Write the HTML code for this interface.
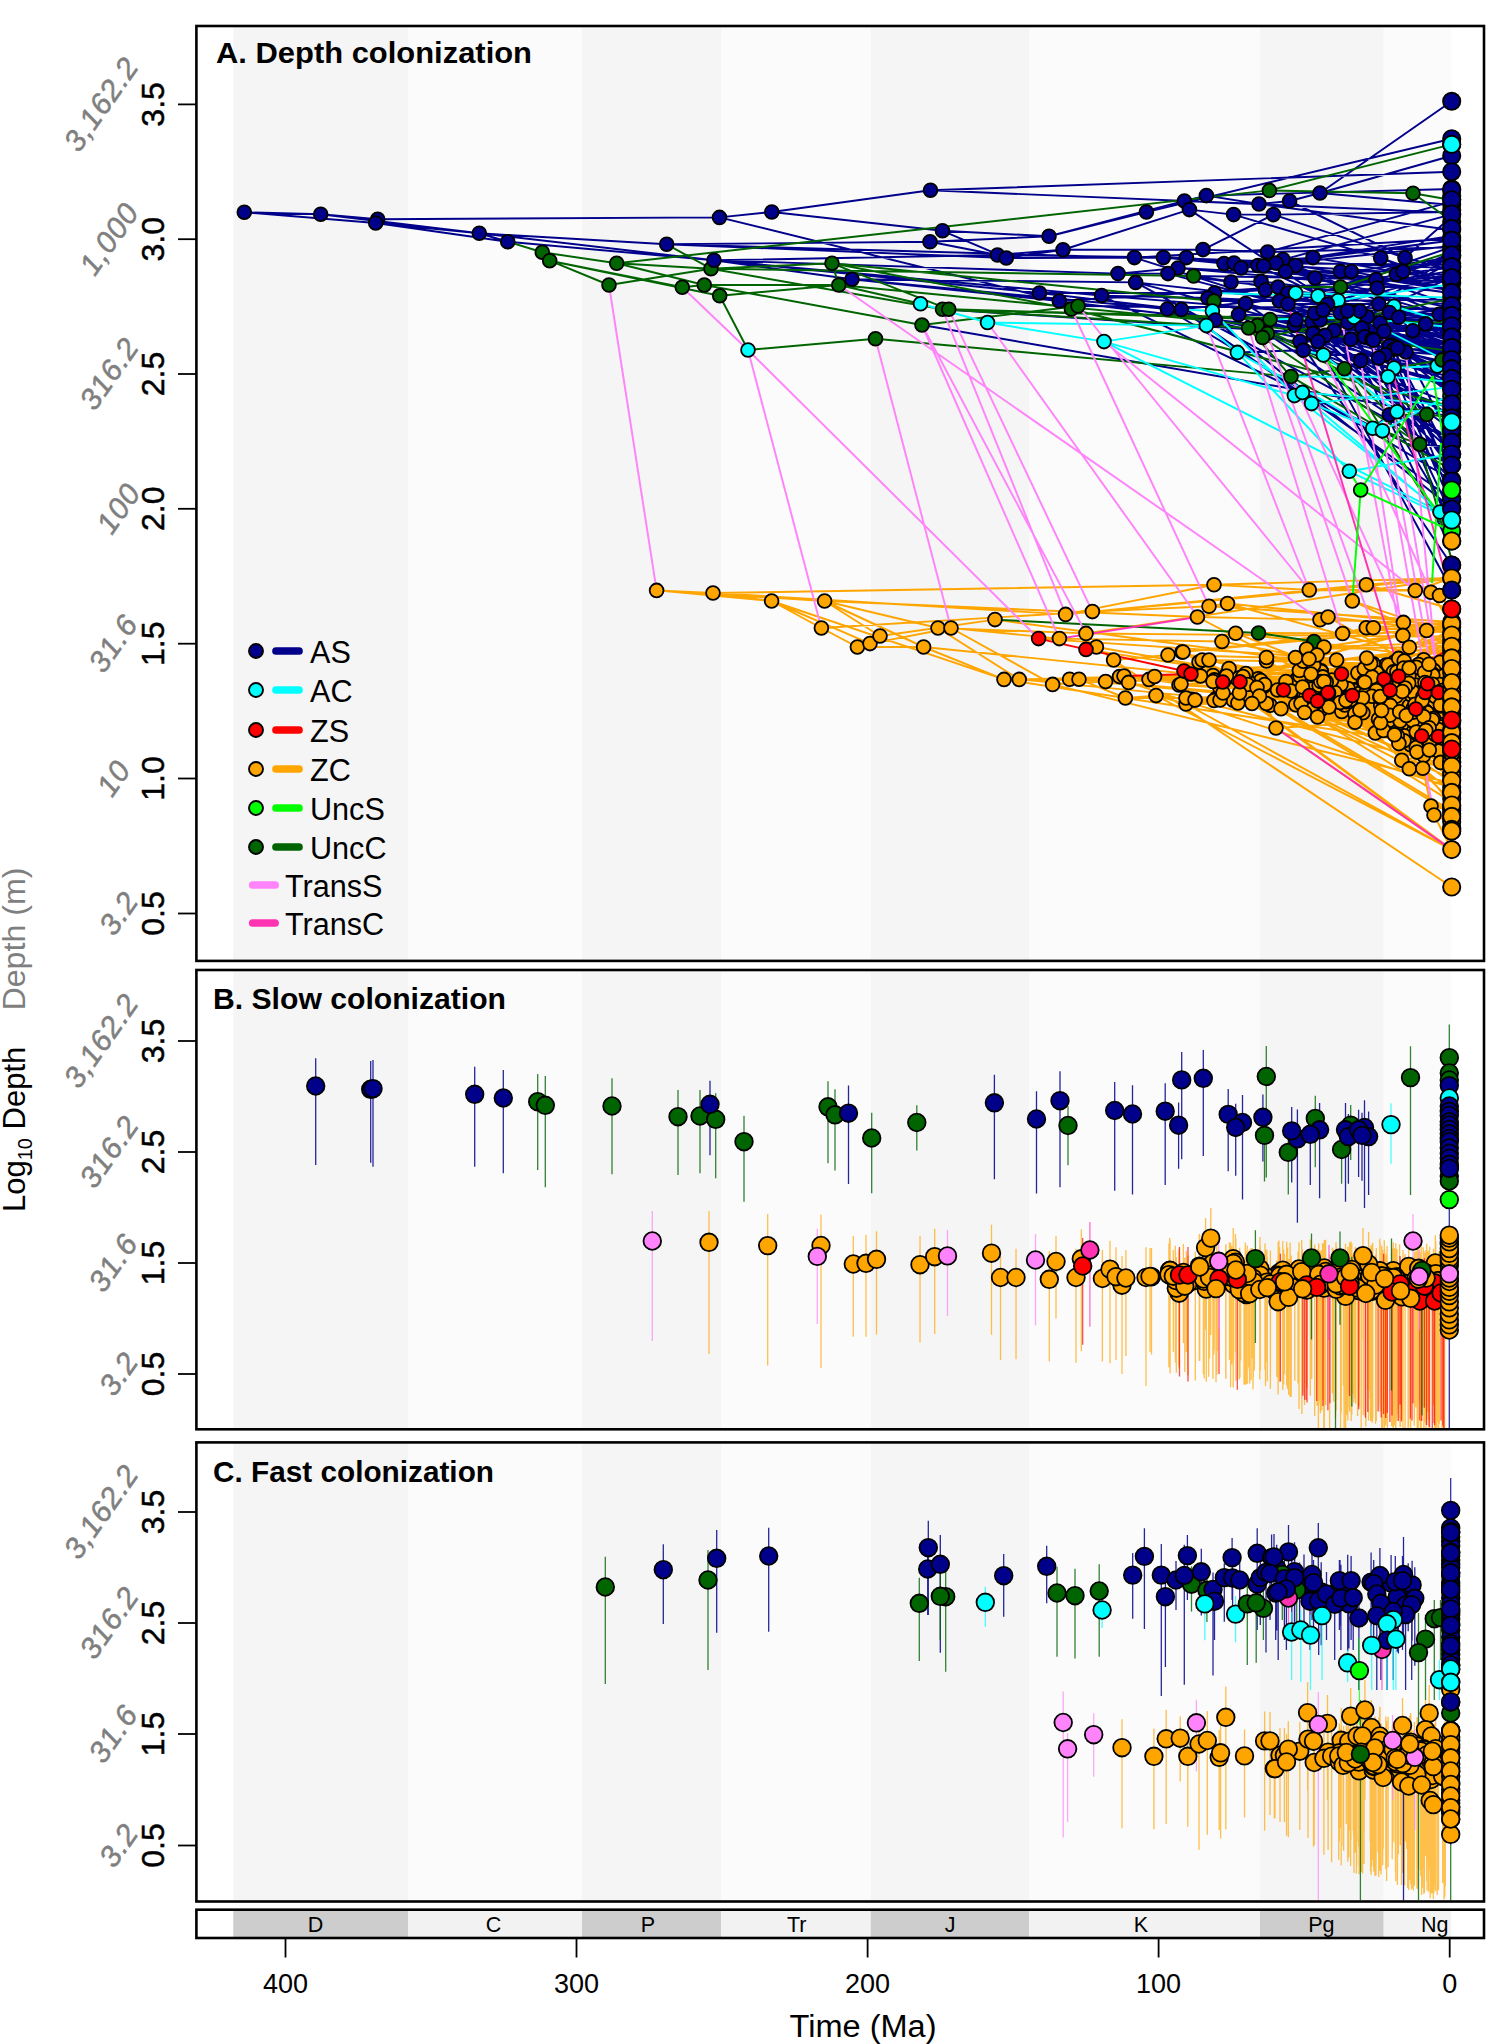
<!DOCTYPE html>
<html><head><meta charset="utf-8"><title>Depth colonization</title>
<style>html,body{margin:0;padding:0;background:#fff;}svg{display:block;}</style></head><body>
<svg width="1500" height="2044" viewBox="0 0 1500 2044">
<rect x="0" y="0" width="1500" height="2044" fill="#fff"/>
<rect x="233.3" y="26" width="174.7" height="934.9" fill="#f5f5f5"/>
<rect x="408" y="26" width="174" height="934.9" fill="#fbfbfb"/>
<rect x="582" y="26" width="139.29999999999995" height="934.9" fill="#f5f5f5"/>
<rect x="721.3" y="26" width="149.4000000000001" height="934.9" fill="#fbfbfb"/>
<rect x="870.7" y="26" width="158.5999999999999" height="934.9" fill="#f5f5f5"/>
<rect x="1029.3" y="26" width="230.70000000000005" height="934.9" fill="#fbfbfb"/>
<rect x="1260" y="26" width="123.70000000000005" height="934.9" fill="#f5f5f5"/>
<rect x="1383.7" y="26" width="67.29999999999995" height="934.9" fill="#fbfbfb"/>
<path d="M656.6 590.4L713 593M656.6 590.4L771.6 601M713 593L771.6 601M713 593L824.6 601M771.6 601L821.4 628M656.6 590.4L824.6 601M821.4 628L857.4 647M821.4 628L1092.4 611.6M824.6 601L880 636M824.6 601L923.6 647M771.6 601L870 643.6M713 593L1214 584.7M857.4 647L923.6 647M870 643.6L951 628M880 636L995 619.6M824.6 601L938 628M713 593L1065.6 614.4M771.6 601L1004 679.4M923.6 647L1004 679.4M938 628L1019.2 679.4M951 628L1059.4 638.6M824.6 601L1197.4 617M938 628L1086 633.4M951 628L1052.6 684.4M1113.6 660L1451.7 887M1156 695.6L1451.7 849.6M1186 704L1451.7 849.6M1252 703.5L1451.7 849.6M1276 728L1451.7 849.6M1214 584.7L1451.7 578M1214 584.7L1309.3 590M1092.4 611.6L1366.3 584.8M1065.6 614.4L1214 584.7M1096.4 647L1113.6 660M1052.6 684.4L1105.6 681.6M1079 679.2L1119.6 676.6M1069.6 679.2L1124 676M1105.6 681.6L1128.6 682.4M1079 679.2L1125.4 698M1119.6 676.6L1149 679.4M1128.6 682.4L1154.6 676.6M1125.4 698L1156 695.6M1113.6 660L1168 655M1168 655L1182 652M1154.6 676.6L1179 685M1156 695.6L1186 704M1125.4 698L1186 698M1186 698L1195 700M1183 652L1199 662M1092.4 611.6L1209 606.2M1209 606.2L1227.5 603.5M1197.4 617L1320 619.7M1320 619.7L1328 617M1222 641.5L1235.7 633.2M1059.4 638.6L1222 641.5M1295.5 657.5L1306.5 649M1314 641.5L1324 647M1309 659L1317 655M1266.5 657.5L1295.5 657.5M1295.5 657.5L1309 659M1202.2 660L1266.5 661M1168 655L1266.5 657.5M1168 655L1183 652M1183 652L1202.2 660M1199 662L1209 660M1184 671L1229 668.5M1154.6 676.6L1200.5 676M1179 685L1213 681.5M1213 681.5L1226.5 676M1200.5 676L1243 676.5M1236.9 678.5L1247.5 684.5M1222.7 682L1257 687.5M1216.4 698.2L1239.5 693M1239.5 693L1259.5 696M1186 704L1252 703.5M1149 679.4L1181 684M1195 700L1214 700.5M1186 704L1220 700M1195 700L1223 693M1191 674L1311 674M1264 686.2L1286 681.5M1264.6 684.6L1277.5 690M1264.6 684.6L1291 691M1247.5 684.5L1302.5 687M1297.5 683.7L1324 681.5M1252 703.5L1301 703.5M1266.4 703.5L1281 708.7M1270.1 705.3L1304.5 712.5M1304.5 712.5L1317.5 717M1295.8 704.7L1329 707M1266.4 703.5L1276 728M1309.3 590L1415.3 590.5M1415.3 590.5L1430.9 592.3M1430.9 592.3L1439.5 595.5M1258.5 633L1342.6 633.5M1342.6 633.5L1366.3 627.8M1342.6 633.5L1373.3 627.8M1320 619.7L1403.4 622.4M1373.3 627.8L1402.9 635.4M1373.3 627.8L1426.6 630.5M1306.5 649L1409.3 647.2M1375.3 732.9L1401.8 760.2M1398.9 743.6L1409.3 768.8M1409.3 768.8L1422.8 768.3M1398.9 743.6L1416.9 752.1M1410.6 744.8L1429.3 750M1409.3 768.8L1440.6 762.4M1422.8 768.3L1431 806M1402.4 691.6L1422.6 690.4M1412.7 712.3L1421.6 711.7M1428.3 732.9L1443 728.7M1401.8 760.2L1418 748.3M1299.9 676L1311.7 668.7M1392.5 674.2L1432.3 678.8M1200.5 676L1239.3 677.8M1283.5 690L1305.4 689.9M1421.7 676.7L1433.2 676M1341.8 711.5L1362.9 712.8M1307.9 673.5L1357.9 673.1M1317.9 686.6L1364.8 686.7M1412.7 712.3L1425.2 712.3M1381.6 710.6L1409.2 705.8M1427.9 735.4L1439 740.8M1355 722.2L1384.3 722.4M1252 703.5L1270.1 705.3M1355 722.2L1375.3 732.9M1341.5 674L1381.7 675.9M1416.6 733.7L1433.6 730.4M1423.6 716.6L1437.4 717.3M1301 703.5L1325.7 702.1M1416.2 685.2L1428.2 687.8M1362.9 712.8L1378.5 719.3M1403.8 668L1441.5 667.5M1370.7 663.6L1385.8 665M1376.7 672.8L1394.1 671.9M1420.2 692.5L1428.4 696.6M1425.8 730.4L1444.6 728M1397.2 674.2L1427.6 674.3M1302.5 687L1319.1 685.7M1398.9 743.6L1410.6 744.8M1319.1 685.2L1329.5 682.9M1399.4 692.4L1425.7 692.9M1277.5 690L1336.9 689.1M1397.7 677.3L1421.7 676.7M1408.7 683.2L1432.7 684.5M1329 707L1419.8 708.2M1423.7 659.8L1439.9 662.2M1154.6 676.6L1213 675.6M1416.2 747.6L1424.6 749.6M1354.7 689.8L1379.9 685.6M1283.5 690L1346 689.3M1191.6 699.4L1216.4 698.2M1309 659L1336.6 660M1403.8 668L1433.8 670.4M1220 700L1233.2 700.2M1411.3 694.9L1428.4 696.7M1317.5 701L1348.6 696.3M1319.1 685.7L1333.1 688.2M1360.9 692.4L1399.4 692.4M1412.7 712.3L1432.1 711.6M1295.8 704.7L1307.9 704.3M1380.6 722.8L1401.8 724.5M1399.4 692.4L1421 694.7M1427 712.4L1435.1 714.7M1357.9 673.1L1392.5 674.2M1423.6 755.4L1438.3 750.9M1346.3 692.6L1354.7 689.8M1385.8 665L1394.7 661.7M1430.8 724L1441.5 723M1424.5 672.5L1432.5 673.7M1236.9 678.5L1246.1 680.1M1425.2 712.3L1442.4 711.2M1299.4 670.5L1321.3 670.9M1329 707L1341.8 711.5M1311.3 706.7L1344.8 705M1371.9 696.3L1383.9 693.6M1297.5 683.7L1306 677.1M1311.7 668.7L1368.4 669.4M1370.7 663.6L1390 666.8M1416.6 733.7L1428.3 732.9M1397.3 735.7L1427.9 735.4M1346 700.4L1389 701.1M1357.9 673.1L1368.3 676.5M1334.9 692.5L1357.4 690.3M1389 701.1L1417.5 701.5M1401.8 760.2L1423.6 755.4M1411.3 694.9L1428.5 698.7M1300.6 679.9L1370 679M1277.5 690L1317.9 686.6M1394.5 734.7L1423.4 736.2M1394.7 661.7L1423.7 659.8M1418.6 707.5L1440.6 706M1360.4 694.5L1411.3 694.9M1401.8 724.5L1427.1 721.4M1298.7 702.9L1307.7 698.7M1334.9 692.5L1346.3 692.6M1346.3 692.6L1360.4 694.5M1376.5 689L1400.4 690.3M1409.2 705.8L1429.9 701.8M1432.8 675.3L1443.9 675.7M1383.5 730.4L1398.3 733.1M1409.2 667.9L1418.5 664.5M1336.9 689.1L1360.9 692.4M1390.3 705.4L1414.8 704.9M1336.9 689.1L1348 688.6M1390 690.2L1425 688.5M1363.4 682L1416.2 681.3M1396.2 696.3L1420.6 692.3M1298.7 702.9L1346.1 701.8M1236.9 678.5L1258.2 678.8M1390 666.8L1416.3 667.2M1375.3 732.9L1404.3 735.8M1378.5 719.3L1389.1 720.4M1341.5 674L1375.6 671.5M1357.4 690.3L1376.5 689M1195 700L1237.9 702.9M1380.7 705.4L1413.2 708.3M1348.6 696.3L1365.3 694.1M1420.2 692.5L1443.4 694.6M1299.4 670.5L1307.9 673.5M1305.6 697.2L1341 696.4M1365.3 694.1L1376.4 690.4M1258.2 678.8L1296.6 679.6M1326.3 682.1L1341 684.6M1375.6 671.5L1397.7 677.3M1411.3 694.9L1420.7 701.4M1237.9 702.9L1298.7 702.9M1286 681.5L1300 680.4M1277.5 690L1305.8 693.7M1260.8 680.6L1300.6 679.9M1281 708.7L1295.8 704.7M1415.7 705.7L1428.3 704.8M1214.3 679.9L1236.9 678.5M1281 708.7L1320.9 709.8M1291 691L1334.9 692.5M1346 700.4L1380.7 705.4M1415.1 704.2L1425.5 710.9M1397.2 674.2L1408.9 676M1384.3 722.4L1400.1 721M1355 722.2L1383.5 730.4M1425 692.4L1435.3 696.4M1406.3 715.5L1427 712.4M1394.5 734.7L1404 740.8M1380.3 696.5L1396.2 696.3M1302.6 691.8L1311.6 689M1360.4 694.5L1371.9 696.3M1219.7 687.3L1264 686.2M1186 698L1194.9 700M1383.5 730.4L1397.3 735.7M1400.1 721L1415.7 723.7M1346 689.3L1397.3 687.8M1311.7 668.7L1364.9 668.6M1372.1 676.9L1397.2 674.2M1410.6 744.8L1426.9 742.6M1394.5 734.7L1424.3 734.5M1373.2 663.8L1388.3 665M1266.5 657.5L1313.9 663.7M1405.1 688L1429.7 687.6M1233.2 700.2L1266.4 703.5M1401.8 724.5L1412.6 720.4M1415.7 723.7L1430.8 724M1380.7 705.4L1390.3 705.4M1346.1 701.8L1354.6 703.7M1375.3 732.9L1416.6 733.7M1412.6 720.4L1433.5 718.6M1399.7 711.8L1412.7 712.3M1404 740.8L1429.8 742.1M1277.5 690L1302.6 691.8M1398.3 733.1L1435.4 734.7M1376.7 672.8L1432.8 675.3M1376.5 689L1424.2 694.3M1213 675.6L1246.1 677.1M1416.2 685.2L1430 684.2M1321 700.7L1340.1 702.6M1303.2 661.2L1373.2 663.8M1341 696.4L1379.9 697.5M1388.3 665L1398.7 658.4M1425.8 730.4L1441.5 727.1M1154.6 676.6L1225.9 675.4M1307.9 673.5L1317.5 671.4M1311.7 668.7L1364.3 668.8M1286 681.5L1297.5 683.7M1397.3 687.8L1416.2 685.2M1307.9 673.5L1321.1 671.5M1352.3 695.6L1362.5 698.1M1270.1 705.3L1313.7 705.3M1246.1 677.1L1299.9 676M1368.3 676.5L1376.7 672.8M1394.7 661.7L1404.2 660.9M1425 682.6L1439.7 684.6M1399 685L1432.5 684.2M1247.5 684.5L1260.8 680.6M1295.8 704.7L1311.3 706.7M1305.6 697.2L1315 695.8M1397.2 674.2L1424.5 672.5M1320.8 681.6L1331.7 680.1M1409.2 705.8L1418.6 707.5M1229 668.5L1299.4 670.5M1340.1 702.6L1416.8 705.7M1379.9 685.6L1399 685M1383.5 730.4L1398.9 743.6M1364.9 668.6L1393.4 671.9M1341.8 711.5L1354.9 713.8M1390.3 705.4L1415.7 705.7M1266.5 661L1303.2 661.2M1306 677.1L1372.1 676.9M1240 681.8L1249 682.5M1383.9 693.6L1420.2 692.5M1378.5 719.3L1389.8 715.3M1313.9 663.7L1370.7 663.6M1156 695.6L1191.6 699.4M1404 740.8L1416.2 747.6M1376.4 690.4L1412.8 691.9M1384 679L1425 682.6M1296.6 679.6L1322.8 676.9M1326.3 682.1L1363.4 682M1364.9 668.6L1396.9 671.7M1383.5 730.4L1438.2 729.5M1315 695.8L1347.8 697.7M1320.9 709.8L1399.7 711.8M1406.3 715.5L1416.9 708.9M1379.9 685.6L1408.7 683.2M1360.4 694.5L1380.3 696.5M1336.6 660L1366.7 658M1191 674L1214.3 679.9M1390 666.8L1403.8 668M1375.3 732.9L1394.5 734.7M1400.1 721L1432.3 720M1389 701.1L1415.1 704.2M1394.5 734.7L1416.3 732.1M1317.5 717L1355 722.2M1344.8 705L1359.9 710M1429.7 687.6L1442 690.6M1412.6 720.4L1423.6 716.6M1364.8 686.7L1405.1 688M1355 722.2L1380.6 722.8M1398.3 733.1L1429.1 727.8M1428.5 698.7L1444.6 698.7M1341 696.4L1350.6 699.7M1181 684L1219.7 687.3M1247.5 684.5L1264.6 684.6M1236.9 678.5L1245.9 673.5M1291 691L1305.6 697.2M1396.9 671.7L1409.2 667.9M1381.6 710.6L1406.3 715.5M1297.5 683.7L1319.1 685.2M1326.3 682.1L1364.7 682.2M1398.3 733.1L1425.8 730.4M1383.9 693.6L1423 696.5M1286 681.5L1320.8 681.6M1350.6 699.7L1422.2 700.6M1229 668.5L1313.6 664.9M1373.2 663.8L1429 664.2M1213 681.5L1223.8 681.2M1420.7 701.4L1443.6 703.3M1362.9 712.8L1381.6 710.6M1346.3 692.6L1402.4 691.6M1307.7 698.7L1346 700.4M1266.4 703.5L1321 700.7M1300 680.4L1326.3 682.1M1428.3 704.8L1440.4 705.1M923.6 647L1451.7 700.5M995 619.6L1451.7 680.6M1004 679.4L1451.7 747.9M1004 679.4L1451.7 683.3M1019.2 679.4L1451.7 721.3M1019.2 679.4L1451.7 668.3M1038.6 638.6L1451.7 666.2M1052.6 684.4L1451.7 783.2M1065.6 614.4L1451.7 578M1086 633.4L1451.7 578M1086 633.4L1451.7 636.8M1096.4 647L1451.7 709.6M1086 649.4L1451.7 705.7M1069.6 679.2L1451.7 714.2M1105.6 681.6L1451.7 711.8M1119.6 676.6L1451.7 684.3M1124 676L1451.7 680.9M1128.6 682.4L1451.7 787.8M1149 679.4L1451.7 677.1M1182 652L1451.7 622M1182 652L1451.7 626.5M1197.4 617L1451.7 749.5M1179 685L1451.7 701.5M1199 662L1451.7 813.3M1309.3 590L1451.7 590M1209 606.2L1451.7 622M1227.5 603.5L1451.7 664.7M1227.5 603.5L1451.7 625.7M1328 617L1451.7 631.2M1328 617L1451.7 685.8M1235.7 633.2L1451.7 659.1M1235.7 633.2L1451.7 716.9M1222 641.5L1451.7 684.3M1314 641.5L1451.7 734.1M1306.5 649L1451.7 628.9M1324 647L1451.7 626.4M1324 647L1451.7 642.6M1317 655L1451.7 710.3M1317 655L1451.7 742.6M1266.5 661L1451.7 766.3M1202.2 660L1451.7 787.2M1209 660L1451.7 706M1209 660L1451.7 723.6M1226.5 676L1451.7 660.6M1226.5 676L1451.7 810.8M1243 676.5L1451.7 703.8M1243 676.5L1451.7 733.3M1257 687.5L1451.7 751.4M1257 687.5L1451.7 773M1239.5 693L1451.7 713.9M1259.5 696L1451.7 728.6M1259.5 696L1451.7 632.5M1181 684L1451.7 704M1214 700.5L1451.7 695.4M1214 700.5L1451.7 665.6M1220 700L1451.7 735.5M1223 693L1451.7 751.9M1223 693L1451.7 708M1311 674L1451.7 685M1302.5 687L1451.7 746.2M1324 681.5L1451.7 689.6M1324 681.5L1451.7 690.3M1301 703.5L1451.7 696.3M1304.5 712.5L1451.7 730.1M1317.5 717L1451.7 655.8M1276 728L1451.7 717.1M1222.7 682L1451.7 752.2M1240 681.8L1451.7 734.8M1309.5 695.5L1451.7 757.9M1317.5 701L1451.7 709.2M1328 692.5L1451.7 629.5M1328 692.5L1451.7 682.5M1366.3 584.8L1451.7 609M1366.3 584.8L1451.7 578M1352.3 600.9L1451.7 634.6M1352.3 600.9L1451.7 647.5M1415.3 590.5L1451.7 578M1430.9 592.3L1451.7 624.9M1439.5 595.5L1451.7 590M1439.5 595.5L1451.7 609M1366.3 627.8L1451.7 631.8M1366.3 627.8L1451.7 622M1403.4 622.4L1451.7 645.1M1403.4 622.4L1451.7 662.3M1402.9 635.4L1451.7 625.1M1402.9 635.4L1451.7 636.8M1426.6 630.5L1451.7 633.3M1426.6 630.5L1451.7 622.6M1409.3 647.2L1451.7 622M1409.3 647.2L1451.7 645.1M1422.8 768.3L1451.7 792.4M1416.9 752.1L1451.7 756.5M1416.9 752.1L1451.7 725.6M1429.3 750L1451.7 720.8M1429.3 750L1451.7 732.7M1440.6 762.4L1451.7 786.3M1440.6 762.4L1451.7 758.4M1431 806L1451.7 810.4M1431 806L1451.7 827M1434 815L1451.7 822.9M1434 815L1451.7 849.6M1422.6 690.4L1451.7 695.6M1422.6 690.4L1451.7 693.2M1421.6 711.7L1451.7 705.4M1421.6 711.7L1451.7 710M1443 728.7L1451.7 703.4M1443 728.7L1451.7 745.4M1418 748.3L1451.7 729.1M1418 748.3L1451.7 740.2M1432.3 678.8L1451.7 691M1432.3 678.8L1451.7 697.2M1239.3 677.8L1451.7 736.7M1239.3 677.8L1451.7 720.7M1305.4 689.9L1451.7 655.6M1433.2 676L1451.7 672.1M1433.2 676L1451.7 683.5M1425.2 712.3L1451.7 683.9M1439 740.8L1451.7 722.1M1439 740.8L1451.7 736.5M1384.3 722.4L1451.7 804.6M1381.7 675.9L1451.7 722.8M1433.6 730.4L1451.7 729.6M1433.6 730.4L1451.7 734.8M1437.4 717.3L1451.7 719.3M1437.4 717.3L1451.7 725.3M1325.7 702.1L1451.7 676.9M1325.7 702.1L1451.7 739.2M1428.2 687.8L1451.7 711.4M1428.2 687.8L1451.7 687.5M1441.5 667.5L1451.7 682.9M1441.5 667.5L1451.7 664.9M1385.8 665L1451.7 707.8M1394.1 671.9L1451.7 689.5M1394.1 671.9L1451.7 657.9M1428.4 696.6L1451.7 683.6M1428.4 696.6L1451.7 695.5M1444.6 728L1451.7 737M1444.6 728L1451.7 745.5M1427.6 674.3L1451.7 685.3M1427.6 674.3L1451.7 652.9M1319.1 685.7L1451.7 716.7M1329.5 682.9L1451.7 676.3M1329.5 682.9L1451.7 633.4M1425.7 692.9L1451.7 693.6M1425.7 692.9L1451.7 735.8M1421.7 676.7L1451.7 715.5M1432.7 684.5L1451.7 677.7M1432.7 684.5L1451.7 631.5M1419.8 708.2L1451.7 733.8M1419.8 708.2L1451.7 721.5M1439.9 662.2L1451.7 669.4M1439.9 662.2L1451.7 674.8M1213 675.6L1451.7 733.3M1424.6 749.6L1451.7 765.8M1424.6 749.6L1451.7 769.4M1346 689.3L1451.7 710.4M1216.4 698.2L1451.7 734.8M1336.6 660L1451.7 646.2M1433.8 670.4L1451.7 685.1M1433.8 670.4L1451.7 677.5M1233.2 700.2L1451.7 730.3M1428.4 696.7L1451.7 684.1M1428.4 696.7L1451.7 723.2M1348.6 696.3L1451.7 740.7M1333.1 688.2L1451.7 731.8M1333.1 688.2L1451.7 751.1M1432.1 711.6L1451.7 705M1432.1 711.6L1451.7 713.3M1307.9 704.3L1451.7 686.7M1307.9 704.3L1451.7 716.3M1421 694.7L1451.7 726M1421 694.7L1451.7 683.1M1435.1 714.7L1451.7 708.9M1435.1 714.7L1451.7 732.1M1392.5 674.2L1451.7 699.7M1438.3 750.9L1451.7 745.1M1438.3 750.9L1451.7 776.2M1354.7 689.8L1451.7 743.8M1441.5 723L1451.7 705.6M1441.5 723L1451.7 716.2M1432.5 673.7L1451.7 663M1432.5 673.7L1451.7 675.7M1246.1 680.1L1451.7 734.1M1246.1 680.1L1451.7 772.7M1442.4 711.2L1451.7 722.5M1442.4 711.2L1451.7 679.4M1321.3 670.9L1451.7 769.5M1321.3 670.9L1451.7 801.4M1344.8 705L1451.7 765.4M1306 677.1L1451.7 732.9M1368.4 669.4L1451.7 685.1M1368.4 669.4L1451.7 728.9M1428.3 732.9L1451.7 745M1427.9 735.4L1451.7 744M1368.3 676.5L1451.7 705.8M1357.4 690.3L1451.7 706.7M1417.5 701.5L1451.7 709.5M1417.5 701.5L1451.7 701.8M1423.6 755.4L1451.7 726.3M1428.5 698.7L1451.7 689.1M1370 679L1451.7 682.8M1317.9 686.6L1451.7 777.5M1423.4 736.2L1451.7 731.3M1423.4 736.2L1451.7 756M1423.7 659.8L1451.7 707.7M1440.6 706L1451.7 720.2M1440.6 706L1451.7 716M1427.1 721.4L1451.7 715.1M1427.1 721.4L1451.7 738M1400.4 690.3L1451.7 655.6M1429.9 701.8L1451.7 715M1429.9 701.8L1451.7 707.9M1443.9 675.7L1451.7 689.1M1443.9 675.7L1451.7 668.4M1418.5 664.5L1451.7 673.1M1418.5 664.5L1451.7 662.3M1360.9 692.4L1451.7 678.3M1414.8 704.9L1451.7 733.2M1414.8 704.9L1451.7 708.2M1348 688.6L1451.7 725.7M1348 688.6L1451.7 778.7M1425 688.5L1451.7 701.5M1425 688.5L1451.7 700M1416.2 681.3L1451.7 686.7M1416.2 681.3L1451.7 637.4M1420.6 692.3L1451.7 711.9M1346.1 701.8L1451.7 690.8M1258.2 678.8L1451.7 764.1M1416.3 667.2L1451.7 676.3M1416.3 667.2L1451.7 724.2M1389.1 720.4L1451.7 719.7M1389.1 720.4L1451.7 692.3M1375.6 671.5L1451.7 647.2M1237.9 702.9L1451.7 732.4M1413.2 708.3L1451.7 723.5M1413.2 708.3L1451.7 650.8M1365.3 694.1L1451.7 663.8M1443.4 694.6L1451.7 680.2M1443.4 694.6L1451.7 696.4M1376.4 690.4L1451.7 714.9M1296.6 679.6L1451.7 726.3M1341 684.6L1451.7 715.8M1341 684.6L1451.7 710.8M1397.7 677.3L1451.7 693.7M1420.7 701.4L1451.7 688M1300 680.4L1451.7 688.9M1305.8 693.7L1451.7 690.1M1305.8 693.7L1451.7 717.1M1300.6 679.9L1451.7 684.6M1428.3 704.8L1451.7 689.5M1320.9 709.8L1451.7 736.8M1425.5 710.9L1451.7 693.5M1425.5 710.9L1451.7 706M1408.9 676L1451.7 646.9M1408.9 676L1451.7 683M1435.3 696.4L1451.7 683.6M1435.3 696.4L1451.7 716.7M1427 712.4L1451.7 721.8M1396.2 696.3L1451.7 707.8M1311.6 689L1451.7 683.8M1311.6 689L1451.7 658.6M1371.9 696.3L1451.7 673.1M1194.9 700L1451.7 711.8M1194.9 700L1451.7 765.7M1397.3 735.7L1451.7 769.9M1415.7 723.7L1451.7 717.9M1397.3 687.8L1451.7 648.8M1426.9 742.6L1451.7 775M1426.9 742.6L1451.7 750.5M1424.3 734.5L1451.7 761.6M1424.3 734.5L1451.7 741.9M1388.3 665L1451.7 654.6M1313.9 663.7L1451.7 677.2M1429.7 687.6L1451.7 694.8M1430.8 724L1451.7 725.6M1354.6 703.7L1451.7 652.1M1354.6 703.7L1451.7 718.7M1433.5 718.6L1451.7 733M1433.5 718.6L1451.7 726M1429.8 742.1L1451.7 721.6M1429.8 742.1L1451.7 739.8M1302.6 691.8L1451.7 663.7M1435.4 734.7L1451.7 736.3M1435.4 734.7L1451.7 707.5M1432.8 675.3L1451.7 672.4M1424.2 694.3L1451.7 673.8M1424.2 694.3L1451.7 687.4M1246.1 677.1L1451.7 684.9M1430 684.2L1451.7 677.7M1430 684.2L1451.7 688.6M1340.1 702.6L1451.7 674.1M1379.9 697.5L1451.7 700.9M1379.9 697.5L1451.7 674.8M1398.7 658.4L1451.7 647.8M1398.7 658.4L1451.7 644.9M1441.5 727.1L1451.7 733.3M1441.5 727.1L1451.7 715.5M1225.9 675.4L1451.7 778.6M1225.9 675.4L1451.7 646.4M1317.5 671.4L1451.7 704.9M1317.5 671.4L1451.7 671.2M1364.3 668.8L1451.7 724.4M1364.3 668.8L1451.7 716.8M1321.1 671.5L1451.7 713M1321.1 671.5L1451.7 677.2M1362.5 698.1L1451.7 713.6M1362.5 698.1L1451.7 718M1313.7 705.3L1451.7 744.9M1313.7 705.3L1451.7 664.3M1299.9 676L1451.7 721.5M1404.2 660.9L1451.7 635.9M1404.2 660.9L1451.7 663.9M1439.7 684.6L1451.7 693.1M1439.7 684.6L1451.7 673.7M1432.5 684.2L1451.7 693.5M1432.5 684.2L1451.7 681.7M1260.8 680.6L1451.7 686M1311.3 706.7L1451.7 708.6M1315 695.8L1451.7 672.9M1424.5 672.5L1451.7 689.3M1331.7 680.1L1451.7 705.5M1331.7 680.1L1451.7 676.2M1418.6 707.5L1451.7 703.4M1416.8 705.7L1451.7 698.2M1416.8 705.7L1451.7 738.6M1399 685L1451.7 678.3M1393.4 671.9L1451.7 739.8M1393.4 671.9L1451.7 670.3M1354.9 713.8L1451.7 782.6M1354.9 713.8L1451.7 728.1M1415.7 705.7L1451.7 734.7M1303.2 661.2L1451.7 752.7M1372.1 676.9L1451.7 675M1249 682.5L1451.7 744.6M1249 682.5L1451.7 734.6M1389.8 715.3L1451.7 742.3M1389.8 715.3L1451.7 734.8M1191.6 699.4L1451.7 697.6M1416.2 747.6L1451.7 743.9M1412.8 691.9L1451.7 728.3M1412.8 691.9L1451.7 692.6M1425 682.6L1451.7 696.2M1322.8 676.9L1451.7 671.3M1322.8 676.9L1451.7 710.7M1363.4 682L1451.7 667.6M1396.9 671.7L1451.7 660.3M1438.2 729.5L1451.7 707.7M1438.2 729.5L1451.7 734M1347.8 697.7L1451.7 710.9M1347.8 697.7L1451.7 685.7M1399.7 711.8L1451.7 762.3M1416.9 708.9L1451.7 719.4M1416.9 708.9L1451.7 728.3M1408.7 683.2L1451.7 742.5M1380.3 696.5L1451.7 671.1M1366.7 658L1451.7 651.8M1366.7 658L1451.7 700.4M1214.3 679.9L1451.7 718.1M1432.3 720L1451.7 732.9M1432.3 720L1451.7 729.5M1415.1 704.2L1451.7 696.3M1416.3 732.1L1451.7 720.1M1416.3 732.1L1451.7 709M1359.9 710L1451.7 801.4M1359.9 710L1451.7 701.4M1442 690.6L1451.7 696.1M1442 690.6L1451.7 680.8M1423.6 716.6L1451.7 759.4M1405.1 688L1451.7 665.8M1380.6 722.8L1451.7 707.3M1429.1 727.8L1451.7 750.1M1429.1 727.8L1451.7 725.5M1444.6 698.7L1451.7 703.3M1444.6 698.7L1451.7 688.8M1350.6 699.7L1451.7 688.2M1219.7 687.3L1451.7 698.1M1245.9 673.5L1451.7 714M1245.9 673.5L1451.7 801.8M1409.2 667.9L1451.7 685.1M1319.1 685.2L1451.7 699M1364.7 682.2L1451.7 660.7M1364.7 682.2L1451.7 708.9M1423 696.5L1451.7 697.9M1423 696.5L1451.7 650.6M1320.8 681.6L1451.7 655.8M1422.2 700.6L1451.7 705M1422.2 700.6L1451.7 718.9M1313.6 664.9L1451.7 718.3M1313.6 664.9L1451.7 661.1M1429 664.2L1451.7 689.3M1429 664.2L1451.7 678.6M1223.8 681.2L1451.7 849.6M1223.8 681.2L1451.7 622M1443.6 703.3L1451.7 694.9M1443.6 703.3L1451.7 709.6M1402.4 691.6L1451.7 688.8M1321 700.7L1451.7 701M1440.4 705.1L1451.7 707.1M1440.4 705.1L1451.7 696M1328.6 693L1451.7 688.8M1328.6 693L1451.7 766.8M1352.3 695.6L1451.7 682.9M1320 700L1451.7 758.6M1320 700L1451.7 731.4" fill="none" stroke="#ffa500" stroke-width="1.95"/>
<path d="M244.3 212.3L320.7 214.3M244.3 212.3L375.7 223M320.7 214.3L377.7 219.3M320.7 214.3L479.3 233.3M375.7 223L479.3 233.3M377.7 219.3L719.5 217.4M375.7 223L507.7 241.7M479.3 233.3L507.7 241.7M479.3 233.3L666.7 244.3M479.3 233.3L714 260.3M507.7 241.7L714 260.3M719.5 217.4L771.8 212M771.8 212L930.5 190.3M771.8 212L942.5 230.8M719.5 217.4L1059.3 301M930.5 190.3L1451.7 171.7M930.5 190.3L1259 204M666.7 244.3L930 241.8M942.5 230.8L1049 236.3M930 241.8L997.5 255M930 241.8L1049 236.3M997.5 255L1063 249.7M1006.3 258L1063 249.7M942.5 230.8L1006.3 258M714 260.3L852 279.3M714 260.3L1039.5 293M852 279.3L1059.3 301M714 260.3L997.5 255M666.7 244.3L1006.3 258M1320 193L1451.7 101.3M1320 193L1451.7 155.7M1289.6 201L1320 193M1146.4 212L1451.7 138.7M1049 236.3L1146.4 212M1049 236.3L1184.4 201M1063 249.7L1189.4 209.6M1146.4 212L1206.4 195.6M1184.4 201L1206.4 195.6M1189.4 209.6L1233.6 214.6M1206.4 195.6L1259 204M1233.6 214.6L1273.4 214.6M1259 204L1289.6 201M1203 249.6L1273.4 214.6M1206.4 195.6L1451.7 189M1259 204L1451.7 230M1273.4 214.6L1451.7 212M1233.6 214.6L1380.7 258M1289.6 201L1405 257.7M1320 193L1451.7 205M1273.4 214.6L1405 257.7M714 260.3L1101.6 295.6M714 260.3L1118 273.6M666.7 244.3L1134.4 257.6M852 279.3L1135.6 282.4M852 279.3L1167.4 309M1039.5 293L1181.4 309.4M1059.3 301L1215.4 320M1006.3 258L1163.4 257.6M997.5 255L1186.4 257.6M1063 249.7L1203 249.6M1118 273.6L1178 268M1118 273.6L1168 273.6M1163.4 257.6L1224 263.6M1224 263.6L1234 263M1224 263.6L1241 268M1203 249.6L1267.6 252M1224 263.6L1283 259.6M1224 263.6L1276 263M1224 263.6L1258 265.6M1241 268L1263.6 266M1276 263L1295.6 265.6M1263.6 266L1285.6 271.6M1283 259.6L1313 257.6M1285.6 271.6L1340.4 271.6M1193.6 276L1315 278M1168 273.6L1231 282M1039.5 293L1214.6 293M1101.6 295.6L1208 298M1208 298L1245.6 303.6M1215.4 320L1238.6 314.6M1231 282L1261 281.4M1214.6 293L1265.4 290M1231 282L1278 287M1265.4 290L1288 293M1208 298L1279.4 301M1279.4 301L1288 304M1288 304L1327.6 304M1323.1 309.9L1340.4 313M1270 319.6L1294.4 325M1270 319.6L1312 322M1312 322L1320 320M1300 341.6L1313 333.4M1262.6 337.4L1300 341.6M1313 333.4L1334 330.6M1320 320L1348 322.5M1340.4 271.6L1351.3 271.6M1376 279.6L1396.3 274.3M1340.4 271.6L1403 271.6M1315 278L1376 279.6M1338 300.5L1377.3 288M1327.6 304L1378.7 304M1340.4 313L1353.3 312M1353.3 312L1367.3 316.7M1362 328L1380 322.7M1348 322.5L1362 328M1334 330.6L1384 331.3M1384 331.3L1412.7 330.7M1350.7 339.3L1364.7 336.7M1313 333.4L1350.7 339.3M1350.7 339.3L1372 339.3M1373.5 340.2L1392 345.3M1373.5 340.2L1389.3 346M1385.3 354.7L1394 349.3M1378.7 358L1406 352M1323.4 355L1385.3 354.7M1344.4 368.7L1378.7 358M1344.4 368.7L1360.7 360.4M1372.7 428.3L1389.3 414.7M1300 341.6L1325.1 335.4M1237.4 352.4L1303.3 350.2M1367.3 316.7L1389.4 312.5M1270 319.6L1314.5 313.2M1323.1 309.9L1359.8 311.1M1300 341.6L1317.9 341.4M1412.7 330.7L1425.7 323.9M1389.4 312.5L1439.4 314.2M1389.3 346L1397.6 348.1M1367.3 316.7L1398.6 317.2M1350.7 339.3L1373.5 340.2M1270 319.6L1296 319.9M1323.1 309.9L1347.6 311.1M1279.4 301L1323.1 309.9M942.5 309.3L1451.7 342.4M922 325L1451.7 416.4M1059.3 301L1451.7 276.7M1078 306L1451.7 308.6M1184.4 201L1451.7 212.8M1189.4 209.6L1451.7 381.9M1134.4 257.6L1451.7 357.8M1134.4 257.6L1451.7 238.7M1163.4 257.6L1451.7 268.1M1186.4 257.6L1451.7 286.4M1186.4 257.6L1451.7 293.3M1178 268L1451.7 292.4M1178 268L1451.7 282M1168 273.6L1451.7 349.2M1193.6 276L1451.7 313.7M1234 263L1451.7 264.7M1234 263L1451.7 275.4M1241 268L1451.7 246M1267.6 252L1451.7 247.2M1267.6 252L1451.7 201.6M1283 259.6L1451.7 214.4M1276 263L1451.7 240.5M1258 265.6L1451.7 235.9M1258 265.6L1451.7 358.8M1263.6 266L1451.7 293.2M1295.6 265.6L1451.7 290.5M1295.6 265.6L1451.7 331.6M1285.6 271.6L1451.7 308.4M1313 257.6L1451.7 240.4M1313 257.6L1451.7 281.2M1315 278L1451.7 317.4M1135.6 282.4L1451.7 364.8M1135.6 282.4L1451.7 317.3M1101.6 295.6L1451.7 324.1M1167.4 309L1451.7 383.2M1167.4 309L1451.7 371.6M1181.4 309.4L1451.7 280.1M1214 301L1451.7 299.6M1215.4 320L1451.7 343.5M1245.6 303.6L1451.7 271M1245.6 303.6L1451.7 352.8M1238.6 314.6L1451.7 320.7M1238.6 314.6L1451.7 368.8M1261 281.4L1451.7 305.1M1261 281.4L1451.7 361.1M1278 287L1451.7 341.2M1288 293L1451.7 356.2M1288 293L1451.7 344.7M1288 304L1451.7 246.8M1340.4 313L1451.7 358.7M1248.6 328L1451.7 272.9M1267.4 333.4L1451.7 403.7M1294.4 325L1451.7 381.5M1294.4 325L1451.7 389.4M1312 322L1451.7 331.1M1320 320L1451.7 355.7M1334 330.6L1451.7 277.2M1348 322.5L1451.7 308M1380.7 258L1451.7 282.7M1380.7 258L1451.7 285.9M1405 257.7L1451.7 216.6M1405 257.7L1451.7 270.3M1351.3 271.6L1451.7 289.7M1351.3 271.6L1451.7 257.5M1396.3 274.3L1451.7 267.6M1396.3 274.3L1451.7 256.9M1403 271.6L1451.7 259.2M1403 271.6L1451.7 256.9M1376 279.6L1451.7 304.8M1377.3 288L1451.7 317.8M1377.3 288L1451.7 318M1378.7 304L1451.7 255.5M1353.3 312L1451.7 317.7M1380 322.7L1451.7 332.2M1380 322.7L1451.7 336.8M1362 328L1451.7 351.2M1384 331.3L1451.7 344M1412.7 330.7L1451.7 326.9M1364.7 336.7L1451.7 335.5M1364.7 336.7L1451.7 318.6M1372 339.3L1451.7 344.4M1372 339.3L1451.7 344.9M1392 345.3L1451.7 329.6M1392 345.3L1451.7 357M1389.3 346L1451.7 367.3M1394 349.3L1451.7 349.2M1394 349.3L1451.7 394.9M1406 352L1451.7 393.1M1406 352L1451.7 355.5M1378.7 358L1451.7 377.2M1360.7 360.4L1451.7 385.8M1360.7 360.4L1451.7 366.6M1389.3 414.7L1451.7 437.8M1419.7 444.3L1451.7 447M1325.1 335.4L1451.7 322.5M1325.1 335.4L1451.7 363.3M1303.3 350.2L1451.7 409.3M1389.4 312.5L1451.7 338.4M1314.5 313.2L1451.7 252.5M1314.5 313.2L1451.7 372.7M1359.8 311.1L1451.7 261.8M1359.8 311.1L1451.7 344.7M1317.9 341.4L1451.7 416.7M1317.9 341.4L1451.7 324M1425.7 323.9L1451.7 343.3M1425.7 323.9L1451.7 325.7M1439.4 314.2L1451.7 282.1M1439.4 314.2L1451.7 314.7M1397.6 348.1L1451.7 385.6M1397.6 348.1L1451.7 318.3M1398.6 317.2L1451.7 317.6M1398.6 317.2L1451.7 372.8M1296 319.9L1451.7 329.6M1296 319.9L1451.7 416.2M1347.6 311.1L1451.7 308.1M1347.6 311.1L1451.7 344.1M1101.6 295.6L1451.7 465M1135.6 282.4L1451.7 454M1167.4 309L1451.7 480M1181.4 309.4L1451.7 499M1215.4 320L1451.7 508M1238.6 314.6L1389.3 414.7M1327.6 304L1451.7 470M1340.4 313L1451.7 490M1353.3 312L1451.7 455M1367.3 316.7L1451.7 475M1380 322.7L1451.7 500M1362 328L1451.7 515M1384 331.3L1451.7 460M1392 345.3L1451.7 480M1406 352L1451.7 440M1385.3 354.7L1451.7 505M1378.7 358L1451.7 530M1360.7 360.4L1451.7 550M1389.3 414.7L1451.7 520M1389.3 414.7L1451.7 480M1294.4 325L1451.7 445M1312 322L1451.7 452M1245.6 303.6L1451.7 440M1279.4 301L1451.7 430M1288 304L1451.7 460M1300 341.6L1451.7 565M1313 333.4L1451.7 590" fill="none" stroke="#00008b" stroke-width="1.95"/>
<path d="M507.7 241.7L542.3 252.3M542.3 252.3L549.7 260.7M542.3 252.3L616.7 263.3M549.7 260.7L609 285M549.7 260.7L682.3 287.3M616.7 263.3L711 268.7M616.7 263.3L704.3 285M609 285L711 268.7M549.7 260.7L719.7 295.7M666.7 244.3L711 268.7M682.3 287.3L704.3 285M616.7 263.3L1269.4 190.4M1269.4 190.4L1451.7 144.4M1269.4 190.4L1413 193.3M1413 193.3L1451.7 200M1413 193.3L1451.7 221M711 268.7L832 263.3M704.3 285L838.8 285M719.7 295.7L838.8 285M832 263.3L838.8 285M832 263.3L1071.4 309M711 268.7L942.5 309.3M704.3 285L922 325M832 263.3L948.8 309.3M838.8 285L920.5 303.8M922 325L1078 306M719.7 295.7L748 350M748 350L875.5 338.8M875.5 338.8L1291 376.6M1291 376.6L1344.4 368.7M711 268.7L1193.6 276M832 263.3L1214 301M838.8 285L1257.4 325.4M942.5 309.3L1248.6 328M948.8 309.3L1270 319.6M995 619.6L1258.5 633M1258.5 633L1314 641.5M1278 287L1340.6 287M1257.4 325.4L1267.4 333.4M1248.6 328L1262.6 337.4M1394 368L1442 360M1389.3 414.7L1426.7 414.4M1382.4 430.7L1419.7 444.3M948.8 309.3L1451.7 322.9M1071.4 309L1451.7 406.4M1340.6 287L1451.7 251.6M1257.4 325.4L1451.7 351.1M1262.6 337.4L1451.7 298.6M1442 360L1451.7 377.6M1426.7 414.4L1451.7 417.6M1262.6 337.4L1419.7 444.3M1267.4 333.4L1426.7 414.4M1344.4 368.7L1419.7 444.3M1291 376.6L1451.7 470M1344.4 368.7L1451.7 540M1419.7 444.3L1451.7 560M1257.4 325.4L1344.4 368.7M1248.6 328L1291 376.6" fill="none" stroke="#006400" stroke-width="1.95"/>
<path d="M920.5 303.8L987.5 322.5M987.5 322.5L1206.4 325.6M987.5 322.5L1104 341.6M1104 341.6L1206.4 325.6M1104 341.6L1440 512M1104 341.6L1294.4 395.6M1181.4 309.4L1212.4 311M1265.4 290L1295.6 293M1214.6 293L1318 296M1327.6 304L1338 300.5M1206.4 325.6L1237.4 352.4M1303.3 350.2L1323.4 355M1294.4 395.6L1302.4 392.4M1294.4 395.6L1311.6 403.6M1378.7 304L1394 306.3M1270 319.6L1354 317.3M1385.3 354.7L1394 368M1291 376.6L1388 376.7M1394 368L1437.3 366M1372.7 428.3L1397 411.7M1311.6 403.6L1372.7 428.3M1372.7 428.3L1382.4 430.7M1295.6 293L1451.7 297.6M1318 296L1451.7 363.5M1338 300.5L1451.7 284.1M1302.4 392.4L1451.7 405.6M1311.6 403.6L1451.7 386.9M1394 306.3L1451.7 323.8M1354 317.3L1451.7 327.2M1388 376.7L1451.7 381.8M1437.3 366L1451.7 361.7M1397 411.7L1451.7 410.1M1382.4 430.7L1451.7 393.8M1349.3 471.3L1451.7 454M1440 512L1451.7 508M1294.4 395.6L1451.7 520M1311.6 403.6L1440 512M1237.4 352.4L1372.7 428.3M1237.4 352.4L1349.3 471.3M1349.3 471.3L1451.7 520M1323.4 355L1397 411.7M1212.4 311L1294.4 395.6" fill="none" stroke="#00ffff" stroke-width="1.95"/>
<path d="M1038.6 638.6L1086 649.4M1086 649.4L1184 671M1184 671L1222.7 682M1124 676L1191 674M1213 681.5L1240 681.8M1264 686.2L1283.5 690M1283.5 690L1309.5 695.5M1307.7 698.7L1317.5 701M1305.4 689.9L1328 692.5M1311 674L1341.5 674M1309.5 695.5L1328.6 693M1341 696.4L1352.3 695.6M1370 679L1384 679M1364.8 686.7L1390 690.2M1381.7 675.9L1398.6 676.3M1400.4 690.3L1425 692.4M1416.2 685.2L1427.6 683.8M1406.3 715.5L1415.8 709M1404.3 735.8L1421.7 736M1420.6 692.3L1438.4 692.4M1404.3 735.8L1438.4 736.5M1307.7 698.7L1320 700M1384 679L1451.7 676.3M1390 690.2L1451.7 704.2M1398.6 676.3L1451.7 648.1M1398.6 676.3L1451.7 700M1425 692.4L1451.7 717.9M1427.6 683.8L1451.7 658.4M1427.6 683.8L1451.7 709.1M1415.8 709L1451.7 725.7M1415.8 709L1451.7 719.7M1421.7 736L1451.7 705.2M1421.7 736L1451.7 741.6M1438.4 692.4L1451.7 716.3M1438.4 692.4L1451.7 679.6M1438.4 736.5L1451.7 744.6M1438.4 736.5L1451.7 719.5" fill="none" stroke="#ff0000" stroke-width="1.95"/>
<path d="M609 285L656.6 590.4M682.3 287.3L748 350M748 350L821.4 628M748 350L1038.6 638.6M875.5 338.8L951 628M838.8 285L1320 619.7M922 325L1059.4 638.6M942.5 309.3L1065.6 614.4M948.8 309.3L1092.4 611.6M987.5 322.5L1198 617M1071.4 309L1209 606.2M1078 306L1309.3 590M1104 341.6L1415.3 590.5M1206.4 325.6L1309.3 590M922 325L1086 633.4M1262.6 337.4L1352.3 600.9M1267.4 333.4L1373.3 627.8M1248.6 328L1342.6 633.5M1291 376.6L1403.4 622.4M1323.4 355L1430.9 592.3M1382.4 430.7L1440.6 762.4M1388 376.7L1451.7 760M1360.7 360.4L1422.8 768.3M1340.4 313L1434 815M1372 339.3L1440 720M1406 352L1451.7 831" fill="none" stroke="#ff83fa" stroke-width="1.95"/>
<path d="M1059.4 638.6L1197.4 617M1288 304L1420 740M1380 322.7L1451.7 600M1276 728L1451.7 849.6" fill="none" stroke="#ff34b3" stroke-width="1.95"/>
<path d="M1323.4 355L1451.7 531M1360.7 490L1433 376M1360.7 490L1352.3 600.9M1360.7 490L1451.7 531M1441 443L1432 583M1433 376L1451.7 490M1349.3 471.3L1360.7 490" fill="none" stroke="#00ff00" stroke-width="1.95"/>
<g stroke="#000" stroke-width="1.8">
<circle cx="244.3" cy="212.3" r="6.9" fill="#00008b"/>
<circle cx="320.7" cy="214.3" r="6.9" fill="#00008b"/>
<circle cx="377.7" cy="219.3" r="6.9" fill="#00008b"/>
<circle cx="375.7" cy="223" r="6.9" fill="#00008b"/>
<circle cx="479.3" cy="233.3" r="6.9" fill="#00008b"/>
<circle cx="507.7" cy="241.7" r="6.9" fill="#00008b"/>
<circle cx="542.3" cy="252.3" r="6.9" fill="#006400"/>
<circle cx="549.7" cy="260.7" r="6.9" fill="#006400"/>
<circle cx="616.7" cy="263.3" r="6.9" fill="#006400"/>
<circle cx="609" cy="285" r="6.9" fill="#006400"/>
<circle cx="682.3" cy="287.3" r="6.9" fill="#006400"/>
<circle cx="704.3" cy="285" r="6.9" fill="#006400"/>
<circle cx="711" cy="268.7" r="6.9" fill="#006400"/>
<circle cx="719.7" cy="295.7" r="6.9" fill="#006400"/>
<circle cx="666.7" cy="244.3" r="6.9" fill="#00008b"/>
<circle cx="714" cy="260.3" r="6.9" fill="#00008b"/>
<circle cx="719.5" cy="217.4" r="6.9" fill="#00008b"/>
<circle cx="771.8" cy="212" r="6.9" fill="#00008b"/>
<circle cx="930.5" cy="190.3" r="6.9" fill="#00008b"/>
<circle cx="942.5" cy="230.8" r="6.9" fill="#00008b"/>
<circle cx="930" cy="241.8" r="6.9" fill="#00008b"/>
<circle cx="1049" cy="236.3" r="6.9" fill="#00008b"/>
<circle cx="1063" cy="249.7" r="6.9" fill="#00008b"/>
<circle cx="997.5" cy="255" r="6.9" fill="#00008b"/>
<circle cx="1006.3" cy="258" r="6.9" fill="#00008b"/>
<circle cx="832" cy="263.3" r="6.9" fill="#006400"/>
<circle cx="838.8" cy="285" r="6.9" fill="#006400"/>
<circle cx="852" cy="279.3" r="6.9" fill="#00008b"/>
<circle cx="920.5" cy="303.8" r="6.9" fill="#00ffff"/>
<circle cx="942.5" cy="309.3" r="6.9" fill="#006400"/>
<circle cx="948.8" cy="309.3" r="6.9" fill="#006400"/>
<circle cx="922" cy="325" r="6.9" fill="#006400"/>
<circle cx="987.5" cy="322.5" r="6.9" fill="#00ffff"/>
<circle cx="875.5" cy="338.8" r="6.9" fill="#006400"/>
<circle cx="748" cy="350" r="6.9" fill="#00ffff"/>
<circle cx="1039.5" cy="293" r="6.9" fill="#00008b"/>
<circle cx="1059.3" cy="301" r="6.9" fill="#00008b"/>
<circle cx="1071.4" cy="309" r="6.9" fill="#006400"/>
<circle cx="1078" cy="306" r="6.9" fill="#006400"/>
<circle cx="1146.4" cy="212" r="6.9" fill="#00008b"/>
<circle cx="1184.4" cy="201" r="6.9" fill="#00008b"/>
<circle cx="1189.4" cy="209.6" r="6.9" fill="#00008b"/>
<circle cx="1206.4" cy="195.6" r="6.9" fill="#00008b"/>
<circle cx="1233.6" cy="214.6" r="6.9" fill="#00008b"/>
<circle cx="1259" cy="204" r="6.9" fill="#00008b"/>
<circle cx="1269.4" cy="190.4" r="6.9" fill="#006400"/>
<circle cx="1273.4" cy="214.6" r="6.9" fill="#00008b"/>
<circle cx="1289.6" cy="201" r="6.9" fill="#00008b"/>
<circle cx="1320" cy="193" r="6.9" fill="#00008b"/>
<circle cx="1134.4" cy="257.6" r="6.9" fill="#00008b"/>
<circle cx="1163.4" cy="257.6" r="6.9" fill="#00008b"/>
<circle cx="1186.4" cy="257.6" r="6.9" fill="#00008b"/>
<circle cx="1203" cy="249.6" r="6.9" fill="#00008b"/>
<circle cx="1118" cy="273.6" r="6.9" fill="#00008b"/>
<circle cx="1178" cy="268" r="6.9" fill="#00008b"/>
<circle cx="1168" cy="273.6" r="6.9" fill="#00008b"/>
<circle cx="1193.6" cy="276" r="6.9" fill="#006400"/>
<circle cx="1224" cy="263.6" r="6.9" fill="#00008b"/>
<circle cx="1234" cy="263" r="6.9" fill="#00008b"/>
<circle cx="1241" cy="268" r="6.9" fill="#00008b"/>
<circle cx="1267.6" cy="252" r="6.9" fill="#00008b"/>
<circle cx="1283" cy="259.6" r="6.9" fill="#00008b"/>
<circle cx="1276" cy="263" r="6.9" fill="#00008b"/>
<circle cx="1258" cy="265.6" r="6.9" fill="#00008b"/>
<circle cx="1263.6" cy="266" r="6.9" fill="#00008b"/>
<circle cx="1295.6" cy="265.6" r="6.9" fill="#00008b"/>
<circle cx="1285.6" cy="271.6" r="6.9" fill="#00008b"/>
<circle cx="1313" cy="257.6" r="6.9" fill="#00008b"/>
<circle cx="1340.4" cy="271.6" r="6.9" fill="#00008b"/>
<circle cx="1315" cy="278" r="6.9" fill="#00008b"/>
<circle cx="1135.6" cy="282.4" r="6.9" fill="#00008b"/>
<circle cx="1101.6" cy="295.6" r="6.9" fill="#00008b"/>
<circle cx="1167.4" cy="309" r="6.9" fill="#00008b"/>
<circle cx="1181.4" cy="309.4" r="6.9" fill="#00008b"/>
<circle cx="1231" cy="282" r="6.9" fill="#00008b"/>
<circle cx="1214.6" cy="293" r="6.9" fill="#00008b"/>
<circle cx="1208" cy="298" r="6.9" fill="#00008b"/>
<circle cx="1214" cy="301" r="6.9" fill="#006400"/>
<circle cx="1212.4" cy="311" r="6.9" fill="#00ffff"/>
<circle cx="1215.4" cy="320" r="6.9" fill="#00008b"/>
<circle cx="1206.4" cy="325.6" r="6.9" fill="#00ffff"/>
<circle cx="1245.6" cy="303.6" r="6.9" fill="#00008b"/>
<circle cx="1238.6" cy="314.6" r="6.9" fill="#00008b"/>
<circle cx="1261" cy="281.4" r="6.9" fill="#00008b"/>
<circle cx="1265.4" cy="290" r="6.9" fill="#00008b"/>
<circle cx="1278" cy="287" r="6.9" fill="#00008b"/>
<circle cx="1288" cy="293" r="6.9" fill="#00008b"/>
<circle cx="1295.6" cy="293" r="6.9" fill="#00ffff"/>
<circle cx="1279.4" cy="301" r="6.9" fill="#00008b"/>
<circle cx="1288" cy="304" r="6.9" fill="#00008b"/>
<circle cx="1318" cy="296" r="6.9" fill="#00ffff"/>
<circle cx="1340.6" cy="287" r="6.9" fill="#006400"/>
<circle cx="1338" cy="300.5" r="6.9" fill="#00ffff"/>
<circle cx="1327.6" cy="304" r="6.9" fill="#00008b"/>
<circle cx="1340.4" cy="313" r="6.9" fill="#00008b"/>
<circle cx="1270" cy="319.6" r="6.9" fill="#006400"/>
<circle cx="1257.4" cy="325.4" r="6.9" fill="#006400"/>
<circle cx="1248.6" cy="328" r="6.9" fill="#006400"/>
<circle cx="1267.4" cy="333.4" r="6.9" fill="#006400"/>
<circle cx="1262.6" cy="337.4" r="6.9" fill="#006400"/>
<circle cx="1294.4" cy="325" r="6.9" fill="#00008b"/>
<circle cx="1312" cy="322" r="6.9" fill="#00008b"/>
<circle cx="1320" cy="320" r="6.9" fill="#00008b"/>
<circle cx="1313" cy="333.4" r="6.9" fill="#00008b"/>
<circle cx="1300" cy="341.6" r="6.9" fill="#00008b"/>
<circle cx="1334" cy="330.6" r="6.9" fill="#00008b"/>
<circle cx="1348" cy="322.5" r="6.9" fill="#00008b"/>
<circle cx="1104" cy="341.6" r="6.9" fill="#00ffff"/>
<circle cx="1237.4" cy="352.4" r="6.9" fill="#00ffff"/>
<circle cx="1323.4" cy="355" r="6.9" fill="#00ffff"/>
<circle cx="1291" cy="376.6" r="6.9" fill="#006400"/>
<circle cx="1344.4" cy="368.7" r="6.9" fill="#006400"/>
<circle cx="1294.4" cy="395.6" r="6.9" fill="#00ffff"/>
<circle cx="1302.4" cy="392.4" r="6.9" fill="#00ffff"/>
<circle cx="1311.6" cy="403.6" r="6.9" fill="#00ffff"/>
<circle cx="1413" cy="193.3" r="6.9" fill="#006400"/>
<circle cx="1380.7" cy="258" r="6.9" fill="#00008b"/>
<circle cx="1405" cy="257.7" r="6.9" fill="#00008b"/>
<circle cx="1351.3" cy="271.6" r="6.9" fill="#00008b"/>
<circle cx="1396.3" cy="274.3" r="6.9" fill="#00008b"/>
<circle cx="1403" cy="271.6" r="6.9" fill="#00008b"/>
<circle cx="1376" cy="279.6" r="6.9" fill="#00008b"/>
<circle cx="1377.3" cy="288" r="6.9" fill="#00008b"/>
<circle cx="1378.7" cy="304" r="6.9" fill="#00008b"/>
<circle cx="1394" cy="306.3" r="6.9" fill="#00ffff"/>
<circle cx="1353.3" cy="312" r="6.9" fill="#00008b"/>
<circle cx="1354" cy="317.3" r="6.9" fill="#00ffff"/>
<circle cx="1367.3" cy="316.7" r="6.9" fill="#00008b"/>
<circle cx="1380" cy="322.7" r="6.9" fill="#00008b"/>
<circle cx="1362" cy="328" r="6.9" fill="#00008b"/>
<circle cx="1384" cy="331.3" r="6.9" fill="#00008b"/>
<circle cx="1412.7" cy="330.7" r="6.9" fill="#00008b"/>
<circle cx="1364.7" cy="336.7" r="6.9" fill="#00008b"/>
<circle cx="1350.7" cy="339.3" r="6.9" fill="#00008b"/>
<circle cx="1372" cy="339.3" r="6.9" fill="#00008b"/>
<circle cx="1392" cy="345.3" r="6.9" fill="#00008b"/>
<circle cx="1389.3" cy="346" r="6.9" fill="#00008b"/>
<circle cx="1394" cy="349.3" r="6.9" fill="#00008b"/>
<circle cx="1406" cy="352" r="6.9" fill="#00008b"/>
<circle cx="1385.3" cy="354.7" r="6.9" fill="#00008b"/>
<circle cx="1378.7" cy="358" r="6.9" fill="#00008b"/>
<circle cx="1360.7" cy="360.4" r="6.9" fill="#00008b"/>
<circle cx="1394" cy="368" r="6.9" fill="#00ffff"/>
<circle cx="1388" cy="376.7" r="6.9" fill="#00ffff"/>
<circle cx="1437.3" cy="366" r="6.9" fill="#00ffff"/>
<circle cx="1442" cy="360" r="6.9" fill="#006400"/>
<circle cx="1389.3" cy="414.7" r="6.9" fill="#00008b"/>
<circle cx="1397" cy="411.7" r="6.9" fill="#00ffff"/>
<circle cx="1426.7" cy="414.4" r="6.9" fill="#006400"/>
<circle cx="1372.7" cy="428.3" r="6.9" fill="#00ffff"/>
<circle cx="1382.4" cy="430.7" r="6.9" fill="#00ffff"/>
<circle cx="1419.7" cy="444.3" r="6.9" fill="#006400"/>
<circle cx="1349.3" cy="471.3" r="6.9" fill="#00ffff"/>
<circle cx="1360.7" cy="490" r="6.9" fill="#00ff00"/>
<circle cx="1440" cy="512" r="6.9" fill="#00ffff"/>
<circle cx="1325.1" cy="335.4" r="6.9" fill="#00008b"/>
<circle cx="1303.3" cy="350.2" r="6.9" fill="#00008b"/>
<circle cx="1389.4" cy="312.5" r="6.9" fill="#00008b"/>
<circle cx="1314.5" cy="313.2" r="6.9" fill="#00008b"/>
<circle cx="1359.8" cy="311.1" r="6.9" fill="#00008b"/>
<circle cx="1317.9" cy="341.4" r="6.9" fill="#00008b"/>
<circle cx="1425.7" cy="323.9" r="6.9" fill="#00008b"/>
<circle cx="1439.4" cy="314.2" r="6.9" fill="#00008b"/>
<circle cx="1397.6" cy="348.1" r="6.9" fill="#00008b"/>
<circle cx="1398.6" cy="317.2" r="6.9" fill="#00008b"/>
<circle cx="1373.5" cy="340.2" r="6.9" fill="#00008b"/>
<circle cx="1296" cy="319.9" r="6.9" fill="#00008b"/>
<circle cx="1347.6" cy="311.1" r="6.9" fill="#00008b"/>
<circle cx="1323.1" cy="309.9" r="6.9" fill="#00008b"/>
<circle cx="1422.6" cy="690.4" r="6.9" fill="#ffa500"/>
<circle cx="1421.6" cy="711.7" r="6.9" fill="#ffa500"/>
<circle cx="1443" cy="728.7" r="6.9" fill="#ffa500"/>
<circle cx="1418" cy="748.3" r="6.9" fill="#ffa500"/>
<circle cx="1311.7" cy="668.7" r="6.9" fill="#ffa500"/>
<circle cx="1432.3" cy="678.8" r="6.9" fill="#ffa500"/>
<circle cx="1239.3" cy="677.8" r="6.9" fill="#ffa500"/>
<circle cx="1305.4" cy="689.9" r="6.9" fill="#ffa500"/>
<circle cx="1433.2" cy="676" r="6.9" fill="#ffa500"/>
<circle cx="1362.9" cy="712.8" r="6.9" fill="#ffa500"/>
<circle cx="1357.9" cy="673.1" r="6.9" fill="#ffa500"/>
<circle cx="1364.8" cy="686.7" r="6.9" fill="#ffa500"/>
<circle cx="1425.2" cy="712.3" r="6.9" fill="#ffa500"/>
<circle cx="1409.2" cy="705.8" r="6.9" fill="#ffa500"/>
<circle cx="1439" cy="740.8" r="6.9" fill="#ffa500"/>
<circle cx="1384.3" cy="722.4" r="6.9" fill="#ffa500"/>
<circle cx="1270.1" cy="705.3" r="6.9" fill="#ffa500"/>
<circle cx="1375.3" cy="732.9" r="6.9" fill="#ffa500"/>
<circle cx="1381.7" cy="675.9" r="6.9" fill="#ffa500"/>
<circle cx="1433.6" cy="730.4" r="6.9" fill="#ffa500"/>
<circle cx="1437.4" cy="717.3" r="6.9" fill="#ffa500"/>
<circle cx="1325.7" cy="702.1" r="6.9" fill="#ffa500"/>
<circle cx="1428.2" cy="687.8" r="6.9" fill="#ffa500"/>
<circle cx="1378.5" cy="719.3" r="6.9" fill="#ffa500"/>
<circle cx="1441.5" cy="667.5" r="6.9" fill="#ffa500"/>
<circle cx="1385.8" cy="665" r="6.9" fill="#ffa500"/>
<circle cx="1394.1" cy="671.9" r="6.9" fill="#ffa500"/>
<circle cx="1428.4" cy="696.6" r="6.9" fill="#ffa500"/>
<circle cx="1444.6" cy="728" r="6.9" fill="#ffa500"/>
<circle cx="1427.6" cy="674.3" r="6.9" fill="#ffa500"/>
<circle cx="1319.1" cy="685.7" r="6.9" fill="#ffa500"/>
<circle cx="1410.6" cy="744.8" r="6.9" fill="#ffa500"/>
<circle cx="1329.5" cy="682.9" r="6.9" fill="#ffa500"/>
<circle cx="1425.7" cy="692.9" r="6.9" fill="#ffa500"/>
<circle cx="1336.9" cy="689.1" r="6.9" fill="#ffa500"/>
<circle cx="1421.7" cy="676.7" r="6.9" fill="#ffa500"/>
<circle cx="1432.7" cy="684.5" r="6.9" fill="#ffa500"/>
<circle cx="1419.8" cy="708.2" r="6.9" fill="#ffa500"/>
<circle cx="1439.9" cy="662.2" r="6.9" fill="#ffa500"/>
<circle cx="1213" cy="675.6" r="6.9" fill="#ffa500"/>
<circle cx="1424.6" cy="749.6" r="6.9" fill="#ffa500"/>
<circle cx="1379.9" cy="685.6" r="6.9" fill="#ffa500"/>
<circle cx="1346" cy="689.3" r="6.9" fill="#ffa500"/>
<circle cx="1216.4" cy="698.2" r="6.9" fill="#ffa500"/>
<circle cx="1336.6" cy="660" r="6.9" fill="#ffa500"/>
<circle cx="1433.8" cy="670.4" r="6.9" fill="#ffa500"/>
<circle cx="1233.2" cy="700.2" r="6.9" fill="#ffa500"/>
<circle cx="1428.4" cy="696.7" r="6.9" fill="#ffa500"/>
<circle cx="1348.6" cy="696.3" r="6.9" fill="#ffa500"/>
<circle cx="1333.1" cy="688.2" r="6.9" fill="#ffa500"/>
<circle cx="1399.4" cy="692.4" r="6.9" fill="#ffa500"/>
<circle cx="1432.1" cy="711.6" r="6.9" fill="#ffa500"/>
<circle cx="1307.9" cy="704.3" r="6.9" fill="#ffa500"/>
<circle cx="1401.8" cy="724.5" r="6.9" fill="#ffa500"/>
<circle cx="1421" cy="694.7" r="6.9" fill="#ffa500"/>
<circle cx="1435.1" cy="714.7" r="6.9" fill="#ffa500"/>
<circle cx="1392.5" cy="674.2" r="6.9" fill="#ffa500"/>
<circle cx="1438.3" cy="750.9" r="6.9" fill="#ffa500"/>
<circle cx="1354.7" cy="689.8" r="6.9" fill="#ffa500"/>
<circle cx="1394.7" cy="661.7" r="6.9" fill="#ffa500"/>
<circle cx="1441.5" cy="723" r="6.9" fill="#ffa500"/>
<circle cx="1432.5" cy="673.7" r="6.9" fill="#ffa500"/>
<circle cx="1246.1" cy="680.1" r="6.9" fill="#ffa500"/>
<circle cx="1442.4" cy="711.2" r="6.9" fill="#ffa500"/>
<circle cx="1321.3" cy="670.9" r="6.9" fill="#ffa500"/>
<circle cx="1341.8" cy="711.5" r="6.9" fill="#ffa500"/>
<circle cx="1344.8" cy="705" r="6.9" fill="#ffa500"/>
<circle cx="1383.9" cy="693.6" r="6.9" fill="#ffa500"/>
<circle cx="1306" cy="677.1" r="6.9" fill="#ffa500"/>
<circle cx="1368.4" cy="669.4" r="6.9" fill="#ffa500"/>
<circle cx="1390" cy="666.8" r="6.9" fill="#ffa500"/>
<circle cx="1428.3" cy="732.9" r="6.9" fill="#ffa500"/>
<circle cx="1427.9" cy="735.4" r="6.9" fill="#ffa500"/>
<circle cx="1389" cy="701.1" r="6.9" fill="#ffa500"/>
<circle cx="1368.3" cy="676.5" r="6.9" fill="#ffa500"/>
<circle cx="1357.4" cy="690.3" r="6.9" fill="#ffa500"/>
<circle cx="1417.5" cy="701.5" r="6.9" fill="#ffa500"/>
<circle cx="1423.6" cy="755.4" r="6.9" fill="#ffa500"/>
<circle cx="1428.5" cy="698.7" r="6.9" fill="#ffa500"/>
<circle cx="1370" cy="679" r="6.9" fill="#ffa500"/>
<circle cx="1317.9" cy="686.6" r="6.9" fill="#ffa500"/>
<circle cx="1423.4" cy="736.2" r="6.9" fill="#ffa500"/>
<circle cx="1423.7" cy="659.8" r="6.9" fill="#ffa500"/>
<circle cx="1440.6" cy="706" r="6.9" fill="#ffa500"/>
<circle cx="1411.3" cy="694.9" r="6.9" fill="#ffa500"/>
<circle cx="1427.1" cy="721.4" r="6.9" fill="#ffa500"/>
<circle cx="1307.7" cy="698.7" r="6.9" fill="#ffa500"/>
<circle cx="1346.3" cy="692.6" r="6.9" fill="#ffa500"/>
<circle cx="1360.4" cy="694.5" r="6.9" fill="#ffa500"/>
<circle cx="1400.4" cy="690.3" r="6.9" fill="#ffa500"/>
<circle cx="1429.9" cy="701.8" r="6.9" fill="#ffa500"/>
<circle cx="1443.9" cy="675.7" r="6.9" fill="#ffa500"/>
<circle cx="1398.3" cy="733.1" r="6.9" fill="#ffa500"/>
<circle cx="1418.5" cy="664.5" r="6.9" fill="#ffa500"/>
<circle cx="1360.9" cy="692.4" r="6.9" fill="#ffa500"/>
<circle cx="1414.8" cy="704.9" r="6.9" fill="#ffa500"/>
<circle cx="1348" cy="688.6" r="6.9" fill="#ffa500"/>
<circle cx="1425" cy="688.5" r="6.9" fill="#ffa500"/>
<circle cx="1416.2" cy="681.3" r="6.9" fill="#ffa500"/>
<circle cx="1420.6" cy="692.3" r="6.9" fill="#ffa500"/>
<circle cx="1346.1" cy="701.8" r="6.9" fill="#ffa500"/>
<circle cx="1258.2" cy="678.8" r="6.9" fill="#ffa500"/>
<circle cx="1416.3" cy="667.2" r="6.9" fill="#ffa500"/>
<circle cx="1404.3" cy="735.8" r="6.9" fill="#ffa500"/>
<circle cx="1389.1" cy="720.4" r="6.9" fill="#ffa500"/>
<circle cx="1375.6" cy="671.5" r="6.9" fill="#ffa500"/>
<circle cx="1376.5" cy="689" r="6.9" fill="#ffa500"/>
<circle cx="1237.9" cy="702.9" r="6.9" fill="#ffa500"/>
<circle cx="1413.2" cy="708.3" r="6.9" fill="#ffa500"/>
<circle cx="1365.3" cy="694.1" r="6.9" fill="#ffa500"/>
<circle cx="1443.4" cy="694.6" r="6.9" fill="#ffa500"/>
<circle cx="1307.9" cy="673.5" r="6.9" fill="#ffa500"/>
<circle cx="1341" cy="696.4" r="6.9" fill="#ffa500"/>
<circle cx="1376.4" cy="690.4" r="6.9" fill="#ffa500"/>
<circle cx="1296.6" cy="679.6" r="6.9" fill="#ffa500"/>
<circle cx="1341" cy="684.6" r="6.9" fill="#ffa500"/>
<circle cx="1397.7" cy="677.3" r="6.9" fill="#ffa500"/>
<circle cx="1420.7" cy="701.4" r="6.9" fill="#ffa500"/>
<circle cx="1298.7" cy="702.9" r="6.9" fill="#ffa500"/>
<circle cx="1300" cy="680.4" r="6.9" fill="#ffa500"/>
<circle cx="1305.8" cy="693.7" r="6.9" fill="#ffa500"/>
<circle cx="1300.6" cy="679.9" r="6.9" fill="#ffa500"/>
<circle cx="1295.8" cy="704.7" r="6.9" fill="#ffa500"/>
<circle cx="1428.3" cy="704.8" r="6.9" fill="#ffa500"/>
<circle cx="1236.9" cy="678.5" r="6.9" fill="#ffa500"/>
<circle cx="1320.9" cy="709.8" r="6.9" fill="#ffa500"/>
<circle cx="1334.9" cy="692.5" r="6.9" fill="#ffa500"/>
<circle cx="1380.7" cy="705.4" r="6.9" fill="#ffa500"/>
<circle cx="1425.5" cy="710.9" r="6.9" fill="#ffa500"/>
<circle cx="1408.9" cy="676" r="6.9" fill="#ffa500"/>
<circle cx="1400.1" cy="721" r="6.9" fill="#ffa500"/>
<circle cx="1383.5" cy="730.4" r="6.9" fill="#ffa500"/>
<circle cx="1435.3" cy="696.4" r="6.9" fill="#ffa500"/>
<circle cx="1427" cy="712.4" r="6.9" fill="#ffa500"/>
<circle cx="1404" cy="740.8" r="6.9" fill="#ffa500"/>
<circle cx="1396.2" cy="696.3" r="6.9" fill="#ffa500"/>
<circle cx="1311.6" cy="689" r="6.9" fill="#ffa500"/>
<circle cx="1371.9" cy="696.3" r="6.9" fill="#ffa500"/>
<circle cx="1264" cy="686.2" r="6.9" fill="#ffa500"/>
<circle cx="1194.9" cy="700" r="6.9" fill="#ffa500"/>
<circle cx="1397.3" cy="735.7" r="6.9" fill="#ffa500"/>
<circle cx="1415.7" cy="723.7" r="6.9" fill="#ffa500"/>
<circle cx="1397.3" cy="687.8" r="6.9" fill="#ffa500"/>
<circle cx="1364.9" cy="668.6" r="6.9" fill="#ffa500"/>
<circle cx="1397.2" cy="674.2" r="6.9" fill="#ffa500"/>
<circle cx="1426.9" cy="742.6" r="6.9" fill="#ffa500"/>
<circle cx="1424.3" cy="734.5" r="6.9" fill="#ffa500"/>
<circle cx="1388.3" cy="665" r="6.9" fill="#ffa500"/>
<circle cx="1313.9" cy="663.7" r="6.9" fill="#ffa500"/>
<circle cx="1429.7" cy="687.6" r="6.9" fill="#ffa500"/>
<circle cx="1266.4" cy="703.5" r="6.9" fill="#ffa500"/>
<circle cx="1412.6" cy="720.4" r="6.9" fill="#ffa500"/>
<circle cx="1430.8" cy="724" r="6.9" fill="#ffa500"/>
<circle cx="1390.3" cy="705.4" r="6.9" fill="#ffa500"/>
<circle cx="1354.6" cy="703.7" r="6.9" fill="#ffa500"/>
<circle cx="1416.6" cy="733.7" r="6.9" fill="#ffa500"/>
<circle cx="1433.5" cy="718.6" r="6.9" fill="#ffa500"/>
<circle cx="1412.7" cy="712.3" r="6.9" fill="#ffa500"/>
<circle cx="1429.8" cy="742.1" r="6.9" fill="#ffa500"/>
<circle cx="1302.6" cy="691.8" r="6.9" fill="#ffa500"/>
<circle cx="1435.4" cy="734.7" r="6.9" fill="#ffa500"/>
<circle cx="1432.8" cy="675.3" r="6.9" fill="#ffa500"/>
<circle cx="1424.2" cy="694.3" r="6.9" fill="#ffa500"/>
<circle cx="1246.1" cy="677.1" r="6.9" fill="#ffa500"/>
<circle cx="1430" cy="684.2" r="6.9" fill="#ffa500"/>
<circle cx="1340.1" cy="702.6" r="6.9" fill="#ffa500"/>
<circle cx="1373.2" cy="663.8" r="6.9" fill="#ffa500"/>
<circle cx="1379.9" cy="697.5" r="6.9" fill="#ffa500"/>
<circle cx="1398.7" cy="658.4" r="6.9" fill="#ffa500"/>
<circle cx="1441.5" cy="727.1" r="6.9" fill="#ffa500"/>
<circle cx="1225.9" cy="675.4" r="6.9" fill="#ffa500"/>
<circle cx="1317.5" cy="671.4" r="6.9" fill="#ffa500"/>
<circle cx="1364.3" cy="668.8" r="6.9" fill="#ffa500"/>
<circle cx="1297.5" cy="683.7" r="6.9" fill="#ffa500"/>
<circle cx="1416.2" cy="685.2" r="6.9" fill="#ffa500"/>
<circle cx="1321.1" cy="671.5" r="6.9" fill="#ffa500"/>
<circle cx="1362.5" cy="698.1" r="6.9" fill="#ffa500"/>
<circle cx="1313.7" cy="705.3" r="6.9" fill="#ffa500"/>
<circle cx="1299.9" cy="676" r="6.9" fill="#ffa500"/>
<circle cx="1376.7" cy="672.8" r="6.9" fill="#ffa500"/>
<circle cx="1404.2" cy="660.9" r="6.9" fill="#ffa500"/>
<circle cx="1439.7" cy="684.6" r="6.9" fill="#ffa500"/>
<circle cx="1432.5" cy="684.2" r="6.9" fill="#ffa500"/>
<circle cx="1260.8" cy="680.6" r="6.9" fill="#ffa500"/>
<circle cx="1311.3" cy="706.7" r="6.9" fill="#ffa500"/>
<circle cx="1315" cy="695.8" r="6.9" fill="#ffa500"/>
<circle cx="1424.5" cy="672.5" r="6.9" fill="#ffa500"/>
<circle cx="1331.7" cy="680.1" r="6.9" fill="#ffa500"/>
<circle cx="1418.6" cy="707.5" r="6.9" fill="#ffa500"/>
<circle cx="1299.4" cy="670.5" r="6.9" fill="#ffa500"/>
<circle cx="1416.8" cy="705.7" r="6.9" fill="#ffa500"/>
<circle cx="1399" cy="685" r="6.9" fill="#ffa500"/>
<circle cx="1398.9" cy="743.6" r="6.9" fill="#ffa500"/>
<circle cx="1393.4" cy="671.9" r="6.9" fill="#ffa500"/>
<circle cx="1354.9" cy="713.8" r="6.9" fill="#ffa500"/>
<circle cx="1415.7" cy="705.7" r="6.9" fill="#ffa500"/>
<circle cx="1303.2" cy="661.2" r="6.9" fill="#ffa500"/>
<circle cx="1372.1" cy="676.9" r="6.9" fill="#ffa500"/>
<circle cx="1249" cy="682.5" r="6.9" fill="#ffa500"/>
<circle cx="1420.2" cy="692.5" r="6.9" fill="#ffa500"/>
<circle cx="1389.8" cy="715.3" r="6.9" fill="#ffa500"/>
<circle cx="1370.7" cy="663.6" r="6.9" fill="#ffa500"/>
<circle cx="1191.6" cy="699.4" r="6.9" fill="#ffa500"/>
<circle cx="1416.2" cy="747.6" r="6.9" fill="#ffa500"/>
<circle cx="1412.8" cy="691.9" r="6.9" fill="#ffa500"/>
<circle cx="1425" cy="682.6" r="6.9" fill="#ffa500"/>
<circle cx="1322.8" cy="676.9" r="6.9" fill="#ffa500"/>
<circle cx="1363.4" cy="682" r="6.9" fill="#ffa500"/>
<circle cx="1396.9" cy="671.7" r="6.9" fill="#ffa500"/>
<circle cx="1438.2" cy="729.5" r="6.9" fill="#ffa500"/>
<circle cx="1347.8" cy="697.7" r="6.9" fill="#ffa500"/>
<circle cx="1399.7" cy="711.8" r="6.9" fill="#ffa500"/>
<circle cx="1416.9" cy="708.9" r="6.9" fill="#ffa500"/>
<circle cx="1408.7" cy="683.2" r="6.9" fill="#ffa500"/>
<circle cx="1380.3" cy="696.5" r="6.9" fill="#ffa500"/>
<circle cx="1366.7" cy="658" r="6.9" fill="#ffa500"/>
<circle cx="1214.3" cy="679.9" r="6.9" fill="#ffa500"/>
<circle cx="1403.8" cy="668" r="6.9" fill="#ffa500"/>
<circle cx="1394.5" cy="734.7" r="6.9" fill="#ffa500"/>
<circle cx="1432.3" cy="720" r="6.9" fill="#ffa500"/>
<circle cx="1415.1" cy="704.2" r="6.9" fill="#ffa500"/>
<circle cx="1416.3" cy="732.1" r="6.9" fill="#ffa500"/>
<circle cx="1355" cy="722.2" r="6.9" fill="#ffa500"/>
<circle cx="1359.9" cy="710" r="6.9" fill="#ffa500"/>
<circle cx="1442" cy="690.6" r="6.9" fill="#ffa500"/>
<circle cx="1423.6" cy="716.6" r="6.9" fill="#ffa500"/>
<circle cx="1405.1" cy="688" r="6.9" fill="#ffa500"/>
<circle cx="1380.6" cy="722.8" r="6.9" fill="#ffa500"/>
<circle cx="1429.1" cy="727.8" r="6.9" fill="#ffa500"/>
<circle cx="1444.6" cy="698.7" r="6.9" fill="#ffa500"/>
<circle cx="1350.6" cy="699.7" r="6.9" fill="#ffa500"/>
<circle cx="1219.7" cy="687.3" r="6.9" fill="#ffa500"/>
<circle cx="1264.6" cy="684.6" r="6.9" fill="#ffa500"/>
<circle cx="1245.9" cy="673.5" r="6.9" fill="#ffa500"/>
<circle cx="1305.6" cy="697.2" r="6.9" fill="#ffa500"/>
<circle cx="1409.2" cy="667.9" r="6.9" fill="#ffa500"/>
<circle cx="1406.3" cy="715.5" r="6.9" fill="#ffa500"/>
<circle cx="1319.1" cy="685.2" r="6.9" fill="#ffa500"/>
<circle cx="1364.7" cy="682.2" r="6.9" fill="#ffa500"/>
<circle cx="1425.8" cy="730.4" r="6.9" fill="#ffa500"/>
<circle cx="1423" cy="696.5" r="6.9" fill="#ffa500"/>
<circle cx="1320.8" cy="681.6" r="6.9" fill="#ffa500"/>
<circle cx="1422.2" cy="700.6" r="6.9" fill="#ffa500"/>
<circle cx="1313.6" cy="664.9" r="6.9" fill="#ffa500"/>
<circle cx="1429" cy="664.2" r="6.9" fill="#ffa500"/>
<circle cx="1223.8" cy="681.2" r="6.9" fill="#ffa500"/>
<circle cx="1443.6" cy="703.3" r="6.9" fill="#ffa500"/>
<circle cx="1381.6" cy="710.6" r="6.9" fill="#ffa500"/>
<circle cx="1402.4" cy="691.6" r="6.9" fill="#ffa500"/>
<circle cx="1346" cy="700.4" r="6.9" fill="#ffa500"/>
<circle cx="1321" cy="700.7" r="6.9" fill="#ffa500"/>
<circle cx="1326.3" cy="682.1" r="6.9" fill="#ffa500"/>
<circle cx="1440.4" cy="705.1" r="6.9" fill="#ffa500"/>
<circle cx="1341.5" cy="674" r="6.9" fill="#ff0000"/>
<circle cx="1328.6" cy="693" r="6.9" fill="#ff0000"/>
<circle cx="1352.3" cy="695.6" r="6.9" fill="#ff0000"/>
<circle cx="1384" cy="679" r="6.9" fill="#ff0000"/>
<circle cx="1390" cy="690.2" r="6.9" fill="#ff0000"/>
<circle cx="1398.6" cy="676.3" r="6.9" fill="#ff0000"/>
<circle cx="1425" cy="692.4" r="6.9" fill="#ff0000"/>
<circle cx="1427.6" cy="683.8" r="6.9" fill="#ff0000"/>
<circle cx="1415.8" cy="709" r="6.9" fill="#ff0000"/>
<circle cx="1421.7" cy="736" r="6.9" fill="#ff0000"/>
<circle cx="1438.4" cy="692.4" r="6.9" fill="#ff0000"/>
<circle cx="1438.4" cy="736.5" r="6.9" fill="#ff0000"/>
<circle cx="1320" cy="700" r="6.9" fill="#ff0000"/>
<circle cx="656.6" cy="590.4" r="6.9" fill="#ffa500"/>
<circle cx="713" cy="593" r="6.9" fill="#ffa500"/>
<circle cx="771.6" cy="601" r="6.9" fill="#ffa500"/>
<circle cx="824.6" cy="601" r="6.9" fill="#ffa500"/>
<circle cx="821.4" cy="628" r="6.9" fill="#ffa500"/>
<circle cx="857.4" cy="647" r="6.9" fill="#ffa500"/>
<circle cx="870" cy="643.6" r="6.9" fill="#ffa500"/>
<circle cx="880" cy="636" r="6.9" fill="#ffa500"/>
<circle cx="923.6" cy="647" r="6.9" fill="#ffa500"/>
<circle cx="938" cy="628" r="6.9" fill="#ffa500"/>
<circle cx="951" cy="628" r="6.9" fill="#ffa500"/>
<circle cx="995" cy="619.6" r="6.9" fill="#ffa500"/>
<circle cx="1004" cy="679.4" r="6.9" fill="#ffa500"/>
<circle cx="1019.2" cy="679.4" r="6.9" fill="#ffa500"/>
<circle cx="1038.6" cy="638.6" r="6.9" fill="#ff0000"/>
<circle cx="1059.4" cy="638.6" r="6.9" fill="#ffa500"/>
<circle cx="1052.6" cy="684.4" r="6.9" fill="#ffa500"/>
<circle cx="1065.6" cy="614.4" r="6.9" fill="#ffa500"/>
<circle cx="1092.4" cy="611.6" r="6.9" fill="#ffa500"/>
<circle cx="1086" cy="633.4" r="6.9" fill="#ffa500"/>
<circle cx="1096.4" cy="647" r="6.9" fill="#ffa500"/>
<circle cx="1086" cy="649.4" r="6.9" fill="#ff0000"/>
<circle cx="1069.6" cy="679.2" r="6.9" fill="#ffa500"/>
<circle cx="1079" cy="679.2" r="6.9" fill="#ffa500"/>
<circle cx="1113.6" cy="660" r="6.9" fill="#ffa500"/>
<circle cx="1105.6" cy="681.6" r="6.9" fill="#ffa500"/>
<circle cx="1119.6" cy="676.6" r="6.9" fill="#ffa500"/>
<circle cx="1124" cy="676" r="6.9" fill="#ffa500"/>
<circle cx="1128.6" cy="682.4" r="6.9" fill="#ffa500"/>
<circle cx="1125.4" cy="698" r="6.9" fill="#ffa500"/>
<circle cx="1149" cy="679.4" r="6.9" fill="#ffa500"/>
<circle cx="1154.6" cy="676.6" r="6.9" fill="#ffa500"/>
<circle cx="1156" cy="695.6" r="6.9" fill="#ffa500"/>
<circle cx="1168" cy="655" r="6.9" fill="#ffa500"/>
<circle cx="1182" cy="652" r="6.9" fill="#ffa500"/>
<circle cx="1197.4" cy="617" r="6.9" fill="#ffa500"/>
<circle cx="1179" cy="685" r="6.9" fill="#ffa500"/>
<circle cx="1186" cy="704" r="6.9" fill="#ffa500"/>
<circle cx="1186" cy="698" r="6.9" fill="#ffa500"/>
<circle cx="1195" cy="700" r="6.9" fill="#ffa500"/>
<circle cx="1199" cy="662" r="6.9" fill="#ffa500"/>
<circle cx="1214" cy="584.7" r="6.9" fill="#ffa500"/>
<circle cx="1309.3" cy="590" r="6.9" fill="#ffa500"/>
<circle cx="1209" cy="606.2" r="6.9" fill="#ffa500"/>
<circle cx="1227.5" cy="603.5" r="6.9" fill="#ffa500"/>
<circle cx="1320" cy="619.7" r="6.9" fill="#ffa500"/>
<circle cx="1328" cy="617" r="6.9" fill="#ffa500"/>
<circle cx="1235.7" cy="633.2" r="6.9" fill="#ffa500"/>
<circle cx="1258.5" cy="633" r="6.9" fill="#006400"/>
<circle cx="1222" cy="641.5" r="6.9" fill="#ffa500"/>
<circle cx="1314" cy="641.5" r="6.9" fill="#006400"/>
<circle cx="1306.5" cy="649" r="6.9" fill="#ffa500"/>
<circle cx="1324" cy="647" r="6.9" fill="#ffa500"/>
<circle cx="1317" cy="655" r="6.9" fill="#ffa500"/>
<circle cx="1295.5" cy="657.5" r="6.9" fill="#ffa500"/>
<circle cx="1309" cy="659" r="6.9" fill="#ffa500"/>
<circle cx="1266.5" cy="661" r="6.9" fill="#ffa500"/>
<circle cx="1266.5" cy="657.5" r="6.9" fill="#ffa500"/>
<circle cx="1183" cy="652" r="6.9" fill="#ffa500"/>
<circle cx="1202.2" cy="660" r="6.9" fill="#ffa500"/>
<circle cx="1209" cy="660" r="6.9" fill="#ffa500"/>
<circle cx="1229" cy="668.5" r="6.9" fill="#ffa500"/>
<circle cx="1200.5" cy="676" r="6.9" fill="#ffa500"/>
<circle cx="1213" cy="681.5" r="6.9" fill="#ffa500"/>
<circle cx="1226.5" cy="676" r="6.9" fill="#ffa500"/>
<circle cx="1243" cy="676.5" r="6.9" fill="#ffa500"/>
<circle cx="1247.5" cy="684.5" r="6.9" fill="#ffa500"/>
<circle cx="1257" cy="687.5" r="6.9" fill="#ffa500"/>
<circle cx="1239.5" cy="693" r="6.9" fill="#ffa500"/>
<circle cx="1259.5" cy="696" r="6.9" fill="#ffa500"/>
<circle cx="1252" cy="703.5" r="6.9" fill="#ffa500"/>
<circle cx="1181" cy="684" r="6.9" fill="#ffa500"/>
<circle cx="1214" cy="700.5" r="6.9" fill="#ffa500"/>
<circle cx="1220" cy="700" r="6.9" fill="#ffa500"/>
<circle cx="1223" cy="693" r="6.9" fill="#ffa500"/>
<circle cx="1311" cy="674" r="6.9" fill="#ffa500"/>
<circle cx="1286" cy="681.5" r="6.9" fill="#ffa500"/>
<circle cx="1277.5" cy="690" r="6.9" fill="#ffa500"/>
<circle cx="1291" cy="691" r="6.9" fill="#ffa500"/>
<circle cx="1302.5" cy="687" r="6.9" fill="#ffa500"/>
<circle cx="1324" cy="681.5" r="6.9" fill="#ffa500"/>
<circle cx="1301" cy="703.5" r="6.9" fill="#ffa500"/>
<circle cx="1281" cy="708.7" r="6.9" fill="#ffa500"/>
<circle cx="1304.5" cy="712.5" r="6.9" fill="#ffa500"/>
<circle cx="1317.5" cy="717" r="6.9" fill="#ffa500"/>
<circle cx="1329" cy="707" r="6.9" fill="#ffa500"/>
<circle cx="1276" cy="728" r="6.9" fill="#ffa500"/>
<circle cx="1184" cy="671" r="6.9" fill="#ff0000"/>
<circle cx="1191" cy="674" r="6.9" fill="#ff0000"/>
<circle cx="1222.7" cy="682" r="6.9" fill="#ff0000"/>
<circle cx="1240" cy="681.8" r="6.9" fill="#ff0000"/>
<circle cx="1283.5" cy="690" r="6.9" fill="#ff0000"/>
<circle cx="1309.5" cy="695.5" r="6.9" fill="#ff0000"/>
<circle cx="1317.5" cy="701" r="6.9" fill="#ff0000"/>
<circle cx="1328" cy="692.5" r="6.9" fill="#ff0000"/>
<circle cx="1366.3" cy="584.8" r="6.9" fill="#ffa500"/>
<circle cx="1352.3" cy="600.9" r="6.9" fill="#ffa500"/>
<circle cx="1415.3" cy="590.5" r="6.9" fill="#ffa500"/>
<circle cx="1430.9" cy="592.3" r="6.9" fill="#ffa500"/>
<circle cx="1439.5" cy="595.5" r="6.9" fill="#ffa500"/>
<circle cx="1342.6" cy="633.5" r="6.9" fill="#ffa500"/>
<circle cx="1366.3" cy="627.8" r="6.9" fill="#ffa500"/>
<circle cx="1373.3" cy="627.8" r="6.9" fill="#ffa500"/>
<circle cx="1403.4" cy="622.4" r="6.9" fill="#ffa500"/>
<circle cx="1402.9" cy="635.4" r="6.9" fill="#ffa500"/>
<circle cx="1426.6" cy="630.5" r="6.9" fill="#ffa500"/>
<circle cx="1409.3" cy="647.2" r="6.9" fill="#ffa500"/>
<circle cx="1401.8" cy="760.2" r="6.9" fill="#ffa500"/>
<circle cx="1409.3" cy="768.8" r="6.9" fill="#ffa500"/>
<circle cx="1422.8" cy="768.3" r="6.9" fill="#ffa500"/>
<circle cx="1416.9" cy="752.1" r="6.9" fill="#ffa500"/>
<circle cx="1429.3" cy="750" r="6.9" fill="#ffa500"/>
<circle cx="1440.6" cy="762.4" r="6.9" fill="#ffa500"/>
<circle cx="1431" cy="806" r="6.9" fill="#ffa500"/>
<circle cx="1434" cy="815" r="6.9" fill="#ffa500"/>
</g>
<g stroke="#000" stroke-width="1.9">
<circle cx="1451.7" cy="144.4" r="8.6" fill="#00ffff"/>
<circle cx="1451.7" cy="267.1" r="8.6" fill="#00ffff"/>
<circle cx="1451.7" cy="342.9" r="8.6" fill="#00ffff"/>
<circle cx="1451.7" cy="359.2" r="8.6" fill="#00ffff"/>
<circle cx="1451.7" cy="389.2" r="8.6" fill="#006400"/>
<circle cx="1451.7" cy="396.2" r="8.6" fill="#00ffff"/>
<circle cx="1451.7" cy="422" r="8.6" fill="#00ffff"/>
<circle cx="1451.7" cy="531" r="8.6" fill="#00ff00"/>
<circle cx="1451.7" cy="490" r="8.6" fill="#00ff00"/>
<circle cx="1451.7" cy="520" r="8.6" fill="#00ffff"/>
<circle cx="1451.7" cy="609" r="8.6" fill="#ff0000"/>
<circle cx="1451.7" cy="639.6" r="8.6" fill="#ff0000"/>
<circle cx="1451.7" cy="655.7" r="8.6" fill="#ff0000"/>
<circle cx="1451.7" cy="679.5" r="8.6" fill="#ff0000"/>
<circle cx="1451.7" cy="741.6" r="8.6" fill="#ff0000"/>
<circle cx="1451.7" cy="772.7" r="8.6" fill="#ff0000"/>
<circle cx="1451.7" cy="828.3" r="8.6" fill="#ff0000"/>
<circle cx="1451.7" cy="720" r="8.6" fill="#ff0000"/>
<circle cx="1451.7" cy="749" r="8.6" fill="#ff0000"/>
<circle cx="1451.7" cy="101.3" r="8.6" fill="#00008b"/>
<circle cx="1451.7" cy="138.7" r="8.6" fill="#00008b"/>
<circle cx="1451.7" cy="155.7" r="8.6" fill="#00008b"/>
<circle cx="1451.7" cy="171.7" r="8.6" fill="#00008b"/>
<circle cx="1451.7" cy="189" r="8.6" fill="#00008b"/>
<circle cx="1451.7" cy="195.9" r="8.6" fill="#00008b"/>
<circle cx="1451.7" cy="199.5" r="8.6" fill="#00008b"/>
<circle cx="1451.7" cy="204.4" r="8.6" fill="#00008b"/>
<circle cx="1451.7" cy="210.1" r="8.6" fill="#00008b"/>
<circle cx="1451.7" cy="214.8" r="8.6" fill="#00008b"/>
<circle cx="1451.7" cy="221.7" r="8.6" fill="#00008b"/>
<circle cx="1451.7" cy="229.8" r="8.6" fill="#00008b"/>
<circle cx="1451.7" cy="237.5" r="8.6" fill="#00008b"/>
<circle cx="1451.7" cy="245.9" r="8.6" fill="#00008b"/>
<circle cx="1451.7" cy="250.6" r="8.6" fill="#00008b"/>
<circle cx="1451.7" cy="255.9" r="8.6" fill="#00008b"/>
<circle cx="1451.7" cy="263.8" r="8.6" fill="#00008b"/>
<circle cx="1451.7" cy="273.5" r="8.6" fill="#00008b"/>
<circle cx="1451.7" cy="277.9" r="8.6" fill="#00008b"/>
<circle cx="1451.7" cy="283.2" r="8.6" fill="#00008b"/>
<circle cx="1451.7" cy="290.7" r="8.6" fill="#00008b"/>
<circle cx="1451.7" cy="296.9" r="8.6" fill="#00008b"/>
<circle cx="1451.7" cy="304.9" r="8.6" fill="#00008b"/>
<circle cx="1451.7" cy="309.6" r="8.6" fill="#00008b"/>
<circle cx="1451.7" cy="316.2" r="8.6" fill="#00008b"/>
<circle cx="1451.7" cy="323.3" r="8.6" fill="#00008b"/>
<circle cx="1451.7" cy="326.7" r="8.6" fill="#00008b"/>
<circle cx="1451.7" cy="334.5" r="8.6" fill="#00008b"/>
<circle cx="1451.7" cy="351.3" r="8.6" fill="#00008b"/>
<circle cx="1451.7" cy="365.9" r="8.6" fill="#00008b"/>
<circle cx="1451.7" cy="373.8" r="8.6" fill="#00008b"/>
<circle cx="1451.7" cy="377.2" r="8.6" fill="#00008b"/>
<circle cx="1451.7" cy="384" r="8.6" fill="#00008b"/>
<circle cx="1451.7" cy="402.4" r="8.6" fill="#00008b"/>
<circle cx="1451.7" cy="407.9" r="8.6" fill="#00008b"/>
<circle cx="1451.7" cy="412.2" r="8.6" fill="#00008b"/>
<circle cx="1451.7" cy="416.7" r="8.6" fill="#00008b"/>
<circle cx="1451.7" cy="421.8" r="8.6" fill="#00008b"/>
<circle cx="1451.7" cy="427.3" r="8.6" fill="#00008b"/>
<circle cx="1451.7" cy="430.8" r="8.6" fill="#00008b"/>
<circle cx="1451.7" cy="434.1" r="8.6" fill="#00008b"/>
<circle cx="1451.7" cy="439.3" r="8.6" fill="#00008b"/>
<circle cx="1451.7" cy="443.7" r="8.6" fill="#00008b"/>
<circle cx="1451.7" cy="427" r="8.6" fill="#00008b"/>
<circle cx="1451.7" cy="454" r="8.6" fill="#00008b"/>
<circle cx="1451.7" cy="465" r="8.6" fill="#00008b"/>
<circle cx="1451.7" cy="480" r="8.6" fill="#00008b"/>
<circle cx="1451.7" cy="499" r="8.6" fill="#00008b"/>
<circle cx="1451.7" cy="508" r="8.6" fill="#00008b"/>
<circle cx="1451.7" cy="541" r="8.6" fill="#ffa500"/>
<circle cx="1451.7" cy="565" r="8.6" fill="#00008b"/>
<circle cx="1451.7" cy="578" r="8.6" fill="#ffa500"/>
<circle cx="1451.7" cy="590" r="8.6" fill="#00008b"/>
<circle cx="1451.7" cy="622" r="8.6" fill="#ffa500"/>
<circle cx="1451.7" cy="626.7" r="8.6" fill="#ffa500"/>
<circle cx="1451.7" cy="633.2" r="8.6" fill="#ffa500"/>
<circle cx="1451.7" cy="643.4" r="8.6" fill="#ffa500"/>
<circle cx="1451.7" cy="647.8" r="8.6" fill="#ffa500"/>
<circle cx="1451.7" cy="651.1" r="8.6" fill="#ffa500"/>
<circle cx="1451.7" cy="658.8" r="8.6" fill="#ffa500"/>
<circle cx="1451.7" cy="664.6" r="8.6" fill="#ffa500"/>
<circle cx="1451.7" cy="667.8" r="8.6" fill="#ffa500"/>
<circle cx="1451.7" cy="672.6" r="8.6" fill="#ffa500"/>
<circle cx="1451.7" cy="683.9" r="8.6" fill="#ffa500"/>
<circle cx="1451.7" cy="690.5" r="8.6" fill="#ffa500"/>
<circle cx="1451.7" cy="696.5" r="8.6" fill="#ffa500"/>
<circle cx="1451.7" cy="700.3" r="8.6" fill="#ffa500"/>
<circle cx="1451.7" cy="706.2" r="8.6" fill="#ffa500"/>
<circle cx="1451.7" cy="714.1" r="8.6" fill="#ffa500"/>
<circle cx="1451.7" cy="722.5" r="8.6" fill="#ffa500"/>
<circle cx="1451.7" cy="729.1" r="8.6" fill="#ffa500"/>
<circle cx="1451.7" cy="734.6" r="8.6" fill="#ffa500"/>
<circle cx="1451.7" cy="744.8" r="8.6" fill="#ffa500"/>
<circle cx="1451.7" cy="749.5" r="8.6" fill="#ffa500"/>
<circle cx="1451.7" cy="757.7" r="8.6" fill="#ffa500"/>
<circle cx="1451.7" cy="762" r="8.6" fill="#ffa500"/>
<circle cx="1451.7" cy="766.8" r="8.6" fill="#ffa500"/>
<circle cx="1451.7" cy="779.8" r="8.6" fill="#ffa500"/>
<circle cx="1451.7" cy="787" r="8.6" fill="#ffa500"/>
<circle cx="1451.7" cy="790.9" r="8.6" fill="#ffa500"/>
<circle cx="1451.7" cy="798.7" r="8.6" fill="#ffa500"/>
<circle cx="1451.7" cy="805.7" r="8.6" fill="#ffa500"/>
<circle cx="1451.7" cy="810.3" r="8.6" fill="#ffa500"/>
<circle cx="1451.7" cy="813.5" r="8.6" fill="#ffa500"/>
<circle cx="1451.7" cy="818.7" r="8.6" fill="#ffa500"/>
<circle cx="1451.7" cy="821.8" r="8.6" fill="#ffa500"/>
<circle cx="1451.7" cy="709" r="8.6" fill="#ffa500"/>
<circle cx="1451.7" cy="738" r="8.6" fill="#ffa500"/>
<circle cx="1451.7" cy="762" r="8.6" fill="#ffa500"/>
<circle cx="1451.7" cy="775" r="8.6" fill="#ffa500"/>
<circle cx="1451.7" cy="793" r="8.6" fill="#ffa500"/>
<circle cx="1451.7" cy="808" r="8.6" fill="#ffa500"/>
<circle cx="1451.7" cy="831" r="8.6" fill="#ffa500"/>
<circle cx="1451.7" cy="849.6" r="8.6" fill="#ffa500"/>
<circle cx="1451.7" cy="887" r="8.6" fill="#ffa500"/>
<circle cx="1451.7" cy="190" r="8.6" fill="#00008b"/>
<circle cx="1451.7" cy="199.7" r="8.6" fill="#00008b"/>
<circle cx="1451.7" cy="214" r="8.6" fill="#00008b"/>
<circle cx="1451.7" cy="228.3" r="8.6" fill="#00008b"/>
<circle cx="1451.7" cy="240.1" r="8.6" fill="#00008b"/>
<circle cx="1451.7" cy="254.9" r="8.6" fill="#00008b"/>
<circle cx="1451.7" cy="266.6" r="8.6" fill="#00008b"/>
<circle cx="1451.7" cy="277.6" r="8.6" fill="#00008b"/>
<circle cx="1451.7" cy="292.4" r="8.6" fill="#00008b"/>
<circle cx="1451.7" cy="305.6" r="8.6" fill="#00008b"/>
<circle cx="1451.7" cy="315.4" r="8.6" fill="#00008b"/>
<circle cx="1451.7" cy="325.7" r="8.6" fill="#00008b"/>
<circle cx="1451.7" cy="336.8" r="8.6" fill="#00008b"/>
<circle cx="1451.7" cy="347.3" r="8.6" fill="#00008b"/>
<circle cx="1451.7" cy="359.5" r="8.6" fill="#00008b"/>
<circle cx="1451.7" cy="368.6" r="8.6" fill="#00008b"/>
<circle cx="1451.7" cy="378.3" r="8.6" fill="#00008b"/>
<circle cx="1451.7" cy="389.2" r="8.6" fill="#00008b"/>
<circle cx="1451.7" cy="403.7" r="8.6" fill="#00008b"/>
<circle cx="1451.7" cy="417.8" r="8.6" fill="#00008b"/>
<circle cx="1451.7" cy="429.6" r="8.6" fill="#00008b"/>
<circle cx="1451.7" cy="442" r="8.6" fill="#00008b"/>
<circle cx="1451.7" cy="454" r="8.6" fill="#00008b"/>
<circle cx="1451.7" cy="465" r="8.6" fill="#00008b"/>
<circle cx="1451.7" cy="481" r="8.6" fill="#00008b"/>
<circle cx="1451.7" cy="499" r="8.6" fill="#00008b"/>
<circle cx="1451.7" cy="509" r="8.6" fill="#00008b"/>
<circle cx="1451.7" cy="624" r="8.6" fill="#ffa500"/>
<circle cx="1451.7" cy="635" r="8.6" fill="#ffa500"/>
<circle cx="1451.7" cy="646.2" r="8.6" fill="#ffa500"/>
<circle cx="1451.7" cy="657.8" r="8.6" fill="#ffa500"/>
<circle cx="1451.7" cy="668.5" r="8.6" fill="#ffa500"/>
<circle cx="1451.7" cy="682.5" r="8.6" fill="#ffa500"/>
<circle cx="1451.7" cy="697" r="8.6" fill="#ffa500"/>
<circle cx="1451.7" cy="706.8" r="8.6" fill="#ffa500"/>
<circle cx="1451.7" cy="720.7" r="8.6" fill="#ffa500"/>
<circle cx="1451.7" cy="732.2" r="8.6" fill="#ffa500"/>
<circle cx="1451.7" cy="742.6" r="8.6" fill="#ffa500"/>
<circle cx="1451.7" cy="751.9" r="8.6" fill="#ffa500"/>
<circle cx="1451.7" cy="766.2" r="8.6" fill="#ffa500"/>
<circle cx="1451.7" cy="780.7" r="8.6" fill="#ffa500"/>
<circle cx="1451.7" cy="792.4" r="8.6" fill="#ffa500"/>
<circle cx="1451.7" cy="805" r="8.6" fill="#ffa500"/>
<circle cx="1451.7" cy="816.3" r="8.6" fill="#ffa500"/>
<circle cx="1451.7" cy="829.3" r="8.6" fill="#ffa500"/>
<circle cx="1451.7" cy="831" r="8.6" fill="#ffa500"/>
<circle cx="1451.7" cy="144.4" r="8.6" fill="#00ffff"/>
<circle cx="1451.7" cy="422" r="8.6" fill="#00ffff"/>
<circle cx="1451.7" cy="490" r="8.6" fill="#00ff00"/>
<circle cx="1451.7" cy="520" r="8.6" fill="#00ffff"/>
<circle cx="1451.7" cy="609" r="8.6" fill="#ff0000"/>
<circle cx="1451.7" cy="720" r="8.6" fill="#ff0000"/>
<circle cx="1451.7" cy="749" r="8.6" fill="#ff0000"/>
<circle cx="1451.7" cy="541" r="8.6" fill="#ffa500"/>
<circle cx="1451.7" cy="565" r="8.6" fill="#00008b"/>
<circle cx="1451.7" cy="578" r="8.6" fill="#ffa500"/>
<circle cx="1451.7" cy="590" r="8.6" fill="#00008b"/>
</g>
<rect x="196.4" y="26" width="1287.6" height="934.9" fill="none" stroke="#000" stroke-width="2.6"/>
<line x1="178" y1="104.4" x2="196.4" y2="104.4" stroke="#000" stroke-width="1.8"/>
<text transform="translate(164,104.4) rotate(-90)" text-anchor="middle" font-family="'Liberation Sans', Arial, sans-serif" font-size="32" fill="#000" stroke="#000" stroke-width="0.5">3.5</text>
<text transform="translate(109.5,109.9) rotate(-55)" text-anchor="middle" font-family="'Liberation Sans', Arial, sans-serif" font-size="30" letter-spacing="0.9" font-style="italic" fill="#7f7f7f" stroke="#7f7f7f" stroke-width="0.5">3,162.2</text>
<line x1="178" y1="239.2" x2="196.4" y2="239.2" stroke="#000" stroke-width="1.8"/>
<text transform="translate(164,239.2) rotate(-90)" text-anchor="middle" font-family="'Liberation Sans', Arial, sans-serif" font-size="32" fill="#000" stroke="#000" stroke-width="0.5">3.0</text>
<text transform="translate(117.5,244.7) rotate(-55)" text-anchor="middle" font-family="'Liberation Sans', Arial, sans-serif" font-size="30" letter-spacing="0.9" font-style="italic" fill="#7f7f7f" stroke="#7f7f7f" stroke-width="0.5">1,000</text>
<line x1="178" y1="374" x2="196.4" y2="374" stroke="#000" stroke-width="1.8"/>
<text transform="translate(164,374) rotate(-90)" text-anchor="middle" font-family="'Liberation Sans', Arial, sans-serif" font-size="32" fill="#000" stroke="#000" stroke-width="0.5">2.5</text>
<text transform="translate(117.5,379.5) rotate(-55)" text-anchor="middle" font-family="'Liberation Sans', Arial, sans-serif" font-size="30" letter-spacing="0.9" font-style="italic" fill="#7f7f7f" stroke="#7f7f7f" stroke-width="0.5">316.2</text>
<line x1="178" y1="508.8" x2="196.4" y2="508.8" stroke="#000" stroke-width="1.8"/>
<text transform="translate(164,508.8) rotate(-90)" text-anchor="middle" font-family="'Liberation Sans', Arial, sans-serif" font-size="32" fill="#000" stroke="#000" stroke-width="0.5">2.0</text>
<text transform="translate(127,514.3) rotate(-55)" text-anchor="middle" font-family="'Liberation Sans', Arial, sans-serif" font-size="30" letter-spacing="0.9" font-style="italic" fill="#7f7f7f" stroke="#7f7f7f" stroke-width="0.5">100</text>
<line x1="178" y1="643.7" x2="196.4" y2="643.7" stroke="#000" stroke-width="1.8"/>
<text transform="translate(164,643.7) rotate(-90)" text-anchor="middle" font-family="'Liberation Sans', Arial, sans-serif" font-size="32" fill="#000" stroke="#000" stroke-width="0.5">1.5</text>
<text transform="translate(121.5,649.2) rotate(-55)" text-anchor="middle" font-family="'Liberation Sans', Arial, sans-serif" font-size="30" letter-spacing="0.9" font-style="italic" fill="#7f7f7f" stroke="#7f7f7f" stroke-width="0.5">31.6</text>
<line x1="178" y1="778.5" x2="196.4" y2="778.5" stroke="#000" stroke-width="1.8"/>
<text transform="translate(164,778.5) rotate(-90)" text-anchor="middle" font-family="'Liberation Sans', Arial, sans-serif" font-size="32" fill="#000" stroke="#000" stroke-width="0.5">1.0</text>
<text transform="translate(122,784.0) rotate(-55)" text-anchor="middle" font-family="'Liberation Sans', Arial, sans-serif" font-size="30" letter-spacing="0.9" font-style="italic" fill="#7f7f7f" stroke="#7f7f7f" stroke-width="0.5">10</text>
<line x1="178" y1="913.5" x2="196.4" y2="913.5" stroke="#000" stroke-width="1.8"/>
<text transform="translate(164,913.5) rotate(-90)" text-anchor="middle" font-family="'Liberation Sans', Arial, sans-serif" font-size="32" fill="#000" stroke="#000" stroke-width="0.5">0.5</text>
<text transform="translate(127,919.0) rotate(-55)" text-anchor="middle" font-family="'Liberation Sans', Arial, sans-serif" font-size="30" letter-spacing="0.9" font-style="italic" fill="#7f7f7f" stroke="#7f7f7f" stroke-width="0.5">3.2</text>
<text x="216" y="63" font-family="'Liberation Sans', Arial, sans-serif" font-size="30" font-weight="bold" fill="#000" textLength="316" lengthAdjust="spacingAndGlyphs">A. Depth colonization</text>
<line x1="276" y1="651" x2="299" y2="651" stroke="#00008b" stroke-width="7.7" stroke-linecap="round"/>
<circle cx="256" cy="651" r="7" fill="#00008b" stroke="#000" stroke-width="1.9"/>
<text x="310" y="663" font-family="'Liberation Sans', Arial, sans-serif" font-size="30.6" fill="#000">AS</text>
<line x1="276" y1="690" x2="299" y2="690" stroke="#00ffff" stroke-width="7.7" stroke-linecap="round"/>
<circle cx="256" cy="690" r="7" fill="#00ffff" stroke="#000" stroke-width="1.9"/>
<text x="310" y="702" font-family="'Liberation Sans', Arial, sans-serif" font-size="30.6" fill="#000">AC</text>
<line x1="276" y1="730" x2="299" y2="730" stroke="#ff0000" stroke-width="7.7" stroke-linecap="round"/>
<circle cx="256" cy="730" r="7" fill="#ff0000" stroke="#000" stroke-width="1.9"/>
<text x="310" y="742" font-family="'Liberation Sans', Arial, sans-serif" font-size="30.6" fill="#000">ZS</text>
<line x1="276" y1="769" x2="299" y2="769" stroke="#ffa500" stroke-width="7.7" stroke-linecap="round"/>
<circle cx="256" cy="769" r="7" fill="#ffa500" stroke="#000" stroke-width="1.9"/>
<text x="310" y="781" font-family="'Liberation Sans', Arial, sans-serif" font-size="30.6" fill="#000">ZC</text>
<line x1="276" y1="808" x2="299" y2="808" stroke="#00ff00" stroke-width="7.7" stroke-linecap="round"/>
<circle cx="256" cy="808" r="7" fill="#00ff00" stroke="#000" stroke-width="1.9"/>
<text x="310" y="820" font-family="'Liberation Sans', Arial, sans-serif" font-size="30.6" fill="#000">UncS</text>
<line x1="276" y1="847" x2="299" y2="847" stroke="#006400" stroke-width="7.7" stroke-linecap="round"/>
<circle cx="256" cy="847" r="7" fill="#006400" stroke="#000" stroke-width="1.9"/>
<text x="310" y="859" font-family="'Liberation Sans', Arial, sans-serif" font-size="30.6" fill="#000">UncC</text>
<line x1="252.7" y1="885" x2="275.1" y2="885" stroke="#ff83fa" stroke-width="7.7" stroke-linecap="round"/>
<text x="285" y="897" font-family="'Liberation Sans', Arial, sans-serif" font-size="30.6" fill="#000">TransS</text>
<line x1="252.7" y1="923" x2="275.1" y2="923" stroke="#ff34b3" stroke-width="7.7" stroke-linecap="round"/>
<text x="285" y="935" font-family="'Liberation Sans', Arial, sans-serif" font-size="30.6" fill="#000">TransC</text>
<rect x="233.3" y="970" width="174.7" height="459.29999999999995" fill="#f5f5f5"/>
<rect x="408" y="970" width="174" height="459.29999999999995" fill="#fbfbfb"/>
<rect x="582" y="970" width="139.29999999999995" height="459.29999999999995" fill="#f5f5f5"/>
<rect x="721.3" y="970" width="149.4000000000001" height="459.29999999999995" fill="#fbfbfb"/>
<rect x="870.7" y="970" width="158.5999999999999" height="459.29999999999995" fill="#f5f5f5"/>
<rect x="1029.3" y="970" width="230.70000000000005" height="459.29999999999995" fill="#fbfbfb"/>
<rect x="1260" y="970" width="123.70000000000005" height="459.29999999999995" fill="#f5f5f5"/>
<rect x="1383.7" y="970" width="67.29999999999995" height="459.29999999999995" fill="#fbfbfb"/>
<path d="M709 1211V1354M767.7 1214V1365.6M821 1214.5V1367.9M853.3 1235.9V1336.7M866 1234.8V1336.7M876.5 1231.3V1334.5M920 1236V1342.5M934.7 1228.7V1334M991.5 1224.7V1334.8M1000.5 1256.7V1359.9M1016 1248.7V1359.3M1049.3 1251.3V1361.5M1056 1235.9V1318.5M1076 1248.7V1362.8M1081.3 1229.5V1351.3M1102.4 1250V1361.5M1110 1240.7V1363.3M1122 1256V1374M1116 1247.3V1359.9M1125.9 1250V1355.9M1146 1247.3V1386M1151.5 1248V1354.5M1150 1248V1352M1205.6 1218V1330M1210.8 1208V1335M1233.2 1228V1340M1333.7 1249.2V1401.7M1265.5 1249.7V1386.1M1324.1 1258.8V1417.4M1351 1241.4V1397.5M1359.1 1262.9V1388.4M1369 1252.9V1398.4M1400 1258.1V1426.8M1235.4 1234.1V1352.6M1317.1 1253.6V1405.7M1335.5 1252.6V1418.1M1347.8 1246.7V1420.6M1414.2 1255.7V1425.8M1403 1249.9V1428.3M1395.6 1250.3V1428.3M1353.9 1252.5V1402.5M1217.3 1258.3V1351.1M1355.3 1247V1397.8M1396.5 1261.2V1421M1276.8 1260.6V1377M1391.6 1253.1V1426.3M1380.1 1242.2V1411.5M1429.7 1261.1V1428.3M1392.8 1251.9V1427.1M1434.6 1268.7V1414.8M1278.9 1240.6V1379M1428.9 1252.4V1420.2M1351.8 1243.3V1414.8M1254.4 1250.3V1370.6M1386.1 1258.1V1418.2M1384.3 1240.3V1428.3M1363.3 1251.2V1415.1M1393.3 1242.3V1428.3M1317.3 1249V1395.7M1282.8 1240.9V1390M1278.1 1256V1394.4M1401.2 1261.4V1410.6M1414.4 1251.8V1418.7M1382.7 1249.7V1428.3M1169.7 1238V1366.8M1399.6 1244.3V1417.7M1397.1 1265.1V1409.4M1408.1 1260.2V1428.3M1405.1 1254V1428.3M1195.3 1251.5V1380.6M1178.9 1248.8V1354.4M1329.6 1254.2V1428.3M1443 1246V1409.7M1170.1 1240.3V1373.2M1429.6 1246.7V1428.3M1352.5 1254.8V1393.9M1240 1254.1V1377.6M1239.7 1247.7V1359.9M1355.7 1249.2V1403.8M1245.3 1242.4V1384.7M1230.6 1242.8V1387.2M1278.1 1270.6V1366.2M1443.4 1259.6V1428.3M1392 1248.4V1415M1302.4 1249.2V1394.5M1408.7 1238.2V1426.6M1379.8 1238.8V1404.9M1439.3 1251.4V1424M1212.9 1232.6V1378.8M1344.1 1250.6V1428.3M1418.7 1242.2V1401.1M1423.2 1247.2V1407M1437.6 1256.2V1419.2M1322.5 1243V1399.5M1336 1242.3V1401.2M1213 1255.1V1359.2M1423.9 1250.9V1428.3M1287.6 1247.6V1389M1246.4 1264.3V1374.4M1426.7 1251.2V1419.1M1253.3 1250.4V1377.6M1278.2 1241.7V1380.3M1265 1243.6V1369.8M1386.2 1254.1V1413M1370.8 1251.9V1397M1259.9 1237V1358.2M1391.5 1261.8V1410.6M1444.6 1251.6V1428.3M1395.8 1243.3V1410.8M1370.9 1245.8V1415.6M1345.6 1255.1V1428.3M1318.4 1256.5V1428.3M1246 1251.4V1383.5M1253 1255V1389.6M1324.3 1240V1428.3M1361.2 1252.3V1428.3M1351.2 1255.3V1421.1M1252 1248V1358.5M1248.7 1251.6V1367.4M1372.2 1260.2V1422.7M1251.1 1247.9V1380.3M1400.5 1262.1V1427.1M1387.1 1245.9V1423.5M1206.3 1261.5V1381.8M1240.6 1255V1360.6M1204.2 1252.1V1378.6M1186.4 1251.1V1351.9M1231.8 1246.1V1364.4M1208.7 1245.1V1376.7M1213.8 1252.6V1354.6M1350 1248.3V1391.1M1168.9 1243.4V1367.3M1348.1 1247.2V1406.9M1415.8 1251.6V1407.3M1260.3 1246.1V1370.4M1325.6 1239.7V1404.9M1395.9 1265.5V1428.3M1387.4 1268.7V1428.3M1216.8 1244.5V1374.7M1346.9 1252.7V1415M1301.9 1252.4V1413.9M1344 1254.7V1402.5M1436.2 1269.1V1415.8M1249.5 1249.6V1355.8M1229.4 1242.3V1359.7M1372.7 1242.8V1417.9M1394.4 1247.9V1425.5M1288.7 1259.1V1366.1M1311.7 1253.9V1379M1435.3 1235.3V1428.3M1314.7 1244.4V1416M1397 1249.5V1404.6M1396.9 1248.9V1413.9M1323.8 1244V1428.3M1442.1 1253.6V1428.3M1349.6 1260.9V1411.6M1358.9 1255.1V1406.2M1336.4 1246.5V1400M1332.4 1247.8V1393.6M1249.4 1251V1371.3M1253 1249.6V1361.6M1310.3 1239.4V1395.8M1266.9 1249.5V1361.9M1214.2 1251.1V1350.3M1433.5 1248.8V1404.9M1178.7 1252.7V1365.7M1187.9 1255.5V1375.4M1417.2 1248.8V1428.2M1233.5 1254.7V1360.6M1368.6 1232V1420.5M1438.6 1256.3V1428.3M1225.9 1244.9V1378.7M1376.3 1248.1V1421.1M1290.1 1242.4V1396.7M1402.1 1270.2V1420.5M1425.9 1250.3V1424.7M1320.4 1251.9V1413.3M1426.7 1243.8V1411.3M1233.5 1248.1V1348.3M1203.4 1248.1V1374.3M1340.6 1251V1428.3M1436.9 1259V1428.3M1304.5 1256.9V1404.9M1253.8 1254.2V1369.7M1279.6 1247.2V1381.9M1299 1242.3V1409M1349.6 1242.2V1411.6M1366 1258.4V1420.8M1244 1262.6V1384.5M1435.8 1241.3V1428.3M1400.1 1261V1425.3M1247.2 1245.4V1384.3M1345.6 1265.8V1428.3M1321.8 1250V1410.4M1294.8 1260.6V1380.8M1298 1251.7V1383.4M1341.2 1255.7V1412.4M1291.2 1255.4V1397M1320.1 1250.6V1404.6M1175.3 1245.8V1357M1438.2 1253.4V1422.1M1439.3 1250.7V1422.8M1318.7 1243.6V1400.9M1428 1250.5V1411.7M1306.9 1261.3V1388M1209.5 1247.3V1358.3M1233.2 1236.7V1387.5M1424.1 1257.3V1409.7M1370.6 1252V1421M1179.2 1264.7V1368.2M1434.8 1255V1428.3M1320.8 1252V1406.4M1336.3 1256.1V1384.1M1384.8 1256V1394.1M1393.4 1249V1396.9M1225.8 1244.3V1378.4M1425 1253.1V1422.6M1340.7 1255.4V1388.9M1372.4 1262.2V1421.4M1239.2 1262.4V1379.6M1368.1 1251.1V1390M1283.6 1249.5V1384.5M1420.4 1252.3V1428M1343.4 1257.1V1385.5M1176.3 1256.9V1372.7M1381.7 1245.8V1428.3M1286.7 1241.7V1385.6M1336.1 1250.8V1410.6M1436.2 1261V1423.9M1357.6 1260.2V1416.1M1350.1 1255.5V1395.7M1175.5 1251.7V1362.5M1437.6 1253.9V1415.4M1183.4 1244V1342.9M1249.6 1260V1383.6M1270.4 1250.6V1388.7M1173.3 1249.9V1351.8M1184.8 1257.7V1372.1M1259.8 1258.2V1379.6M1385.5 1270.6V1425.8M1345.5 1243.7V1428.3M1301.7 1240.1V1397.7M1369.7 1248.3V1390.3M1199.3 1234V1361M1375.6 1254.7V1423.8M1365.8 1265.8V1426.6M1410.7 1266.8V1428.3M1288.6 1270.1V1394.7M1350.1 1245.4V1393.8M1371.6 1245V1421.1M1426.1 1252V1428.3M1216 1262.2V1382.2M1199.7 1234.7V1361M1384.6 1249V1407.8M1267.3 1257.1V1381.2M1235.9 1238.8V1380.7M1284.5 1253.7V1374.2M1400.5 1264.3V1422.5M1302.6 1258.6V1393.2M1421.2 1242.4V1428.3M1418.3 1250.2V1428.3M1363 1228V1340" fill="none" stroke="#ffa500" stroke-width="1.3" stroke-opacity="0.7"/>
<path d="M1082.7 1238V1344.7M1179.5 1247V1376.6M1188 1247V1381.6M1219 1250.8V1374.1M1237.3 1251.4V1389.8M1280.4 1253.7V1381.4M1306.5 1257V1400M1316.7 1259.4V1401M1349.5 1258.2V1396.1M1383.6 1253.7V1414M1413 1262.8V1403.2M1419.8 1273V1420.5M1434.6 1254.8V1417.7M1434.6 1273V1425.2M1424.4 1258.2V1407.8M1400 1256V1404.6M1392 1264V1415.5M1441 1265V1420.6M1389.9 1269.6V1422.1M1307 1268.4V1402.5M1358.7 1270.9V1409.3M1367.8 1271.9V1412.1M1329.9 1265V1403.2M1381.2 1265.9V1417.5M1426.6 1263.6V1425.1M1365.4 1264.7V1417.8M1429 1269V1426.8M1398.2 1270.3V1420.2M1398.3 1265.4V1421.1M1401.4 1265.5V1421.5M1432.3 1262.7V1428.3M1323 1269.4V1406M1365.3 1265V1416.3M1387.3 1263.9V1413M1378.1 1264.4V1411.4M1443.8 1272V1428.3M1412 1268.2V1420.6M1434 1262V1423.1M1442.9 1263.6V1425.6M1304.8 1269.3V1399.7M1385.7 1262.9V1418M1302.9 1271.3V1395.7M1327.9 1270.5V1410.2M1410.3 1262.4V1418.4M1429.2 1266.4V1426.9M1421.7 1270.6V1420.9" fill="none" stroke="#ff0000" stroke-width="1.3" stroke-opacity="0.7"/>
<path d="M315.7 1058.3V1165M370.7 1061V1162.7M373 1060V1166.7M474.7 1066.7V1166.7M503.3 1070V1173.3M710 1080.7V1155.3M848.5 1085.5V1184M994.4 1074.8V1179.3M1036.5 1091.3V1193.5M1060 1071.3V1187.3M1114.7 1082V1190.8M1132.5 1085.2V1194.5M1165.2 1083.3V1184.9M1178.6 1102.6V1168.8M1181.7 1052V1159.3M1203.3 1050V1155.9M1228.2 1089V1171.3M1242.5 1095V1199.4M1235.7 1103.7V1175.8M1262.9 1094.6V1161.5M1297.4 1109.4V1222.7M1291.7 1107.1V1182.4M1319.6 1103V1198.3M1310.3 1111.6V1184.9M1345.5 1103V1201.7M1364.5 1100.3V1208M1368.6 1111.6V1195.1M1348.4 1113.9V1183.7M1358.6 1109.8V1176.9M1362 1112.8V1180.8" fill="none" stroke="#00008b" stroke-width="1.3" stroke-opacity="0.85"/>
<path d="M537.7 1074V1170M545.3 1076V1187.3M612 1078.3V1174.3M678 1090V1175M700 1090V1173.3M715.7 1093.3V1178.3M744 1115.7V1201.7M828 1081.2V1163.3M835 1089.2V1170.5M871.7 1112.7V1193.2M916.8 1105.2V1150.5M1068 1106V1165.2M1266.3 1045.9V1177.4M1264.5 1118.4V1181.5M1288.3 1136.6V1194.4M1315.3 1095.8V1167.2M1341.6 1134.3V1183.7M1350.7 1105V1160M1410.5 1046.3V1194.9M1255.4 1230.2V1343M1311.5 1233.4V1339.5M1340 1231.4V1324.8M1422 1268V1415.5M1335.5 1297.6V1428M1351.8 1256.8V1406.4M1391.5 1238.6V1390.5" fill="none" stroke="#006400" stroke-width="1.3" stroke-opacity="0.8"/>
<path d="M1391 1103.2V1163.8" fill="none" stroke="#00ffff" stroke-width="1.3" stroke-opacity="0.7"/>
<path d="M652.3 1211V1341M817.3 1228.7V1324M947.5 1230V1315.9M1035.5 1234V1325.5M1218.7 1236V1329M1413 1214V1300M1419.2 1250V1330" fill="none" stroke="#ff83fa" stroke-width="1.3" stroke-opacity="0.7"/>
<path d="M1089.9 1222V1326.8M1329 1245V1340" fill="none" stroke="#ff34b3" stroke-width="1.3" stroke-opacity="0.7"/>
<path d="M1449.3 1024.6V1110" fill="none" stroke="#006400" stroke-width="1.3" stroke-opacity="0.8"/>
<path d="M1449.3 1110V1428.3" fill="none" stroke="#00008b" stroke-width="1.3" stroke-opacity="0.8"/>
<g stroke="#000" stroke-width="1.8">
<circle cx="315.7" cy="1086" r="8.8" fill="#00008b"/>
<circle cx="370.7" cy="1089.3" r="8.8" fill="#00008b"/>
<circle cx="373" cy="1088.7" r="8.8" fill="#00008b"/>
<circle cx="474.7" cy="1094.3" r="8.8" fill="#00008b"/>
<circle cx="503.3" cy="1098" r="8.8" fill="#00008b"/>
<circle cx="537.7" cy="1101.7" r="8.8" fill="#006400"/>
<circle cx="545.3" cy="1105.3" r="8.8" fill="#006400"/>
<circle cx="612" cy="1106" r="8.8" fill="#006400"/>
<circle cx="678" cy="1116.7" r="8.8" fill="#006400"/>
<circle cx="700" cy="1116" r="8.8" fill="#006400"/>
<circle cx="715.7" cy="1119.3" r="8.8" fill="#006400"/>
<circle cx="710" cy="1104.3" r="8.8" fill="#00008b"/>
<circle cx="744" cy="1141.7" r="8.8" fill="#006400"/>
<circle cx="652.3" cy="1241" r="8.8" fill="#ff83fa"/>
<circle cx="709" cy="1242.3" r="8.8" fill="#ffa500"/>
<circle cx="767.7" cy="1245.6" r="8.8" fill="#ffa500"/>
<circle cx="828" cy="1106.8" r="8.8" fill="#006400"/>
<circle cx="835" cy="1114.8" r="8.8" fill="#006400"/>
<circle cx="848.5" cy="1113.2" r="8.8" fill="#00008b"/>
<circle cx="871.7" cy="1138" r="8.8" fill="#006400"/>
<circle cx="916.8" cy="1122.5" r="8.8" fill="#006400"/>
<circle cx="994.4" cy="1102.8" r="8.8" fill="#00008b"/>
<circle cx="1036.5" cy="1119" r="8.8" fill="#00008b"/>
<circle cx="1068" cy="1125.5" r="8.8" fill="#006400"/>
<circle cx="1060" cy="1100.7" r="8.8" fill="#00008b"/>
<circle cx="1114.7" cy="1110.5" r="8.8" fill="#00008b"/>
<circle cx="1132.5" cy="1114" r="8.8" fill="#00008b"/>
<circle cx="821" cy="1245.5" r="8.8" fill="#ffa500"/>
<circle cx="817.3" cy="1256.4" r="8.8" fill="#ff83fa"/>
<circle cx="853.3" cy="1264" r="8.8" fill="#ffa500"/>
<circle cx="866" cy="1263.3" r="8.8" fill="#ffa500"/>
<circle cx="876.5" cy="1259.3" r="8.8" fill="#ffa500"/>
<circle cx="920" cy="1264.7" r="8.8" fill="#ffa500"/>
<circle cx="934.7" cy="1256.7" r="8.8" fill="#ffa500"/>
<circle cx="947.5" cy="1255.9" r="8.8" fill="#ff83fa"/>
<circle cx="991.5" cy="1253.2" r="8.8" fill="#ffa500"/>
<circle cx="1000.5" cy="1277.5" r="8.8" fill="#ffa500"/>
<circle cx="1016" cy="1277.5" r="8.8" fill="#ffa500"/>
<circle cx="1035.5" cy="1260" r="8.8" fill="#ff83fa"/>
<circle cx="1049.3" cy="1279.3" r="8.8" fill="#ffa500"/>
<circle cx="1056" cy="1261.5" r="8.8" fill="#ffa500"/>
<circle cx="1076" cy="1277.5" r="8.8" fill="#ffa500"/>
<circle cx="1081.3" cy="1258.8" r="8.8" fill="#ffa500"/>
<circle cx="1082.7" cy="1266" r="8.8" fill="#ff0000"/>
<circle cx="1089.9" cy="1250" r="8.8" fill="#ff34b3"/>
<circle cx="1102.4" cy="1278.5" r="8.8" fill="#ffa500"/>
<circle cx="1110" cy="1269.2" r="8.8" fill="#ffa500"/>
<circle cx="1122" cy="1285.2" r="8.8" fill="#ffa500"/>
<circle cx="1116" cy="1276.7" r="8.8" fill="#ffa500"/>
<circle cx="1125.9" cy="1278" r="8.8" fill="#ffa500"/>
<circle cx="1146" cy="1277.5" r="8.8" fill="#ffa500"/>
<circle cx="1151.5" cy="1276.7" r="8.8" fill="#ffa500"/>
<circle cx="1165.2" cy="1111.2" r="8.8" fill="#00008b"/>
<circle cx="1178.6" cy="1125.2" r="8.8" fill="#00008b"/>
<circle cx="1181.7" cy="1079.9" r="8.8" fill="#00008b"/>
<circle cx="1203.3" cy="1078.3" r="8.8" fill="#00008b"/>
<circle cx="1228.2" cy="1114.4" r="8.8" fill="#00008b"/>
<circle cx="1242.5" cy="1122.5" r="8.8" fill="#00008b"/>
<circle cx="1235.7" cy="1127.5" r="8.8" fill="#00008b"/>
<circle cx="1266.3" cy="1076.5" r="8.8" fill="#006400"/>
<circle cx="1262.9" cy="1117.3" r="8.8" fill="#00008b"/>
<circle cx="1264.5" cy="1135.4" r="8.8" fill="#006400"/>
<circle cx="1288.3" cy="1152.4" r="8.8" fill="#006400"/>
<circle cx="1297.4" cy="1138.8" r="8.8" fill="#00008b"/>
<circle cx="1291.7" cy="1130.9" r="8.8" fill="#00008b"/>
<circle cx="1315.3" cy="1118.4" r="8.8" fill="#006400"/>
<circle cx="1319.6" cy="1129.8" r="8.8" fill="#00008b"/>
<circle cx="1310.3" cy="1134.3" r="8.8" fill="#00008b"/>
<circle cx="1341.6" cy="1149.5" r="8.8" fill="#006400"/>
<circle cx="1350.7" cy="1125.2" r="8.8" fill="#006400"/>
<circle cx="1345.5" cy="1129.8" r="8.8" fill="#00008b"/>
<circle cx="1364.5" cy="1127.5" r="8.8" fill="#00008b"/>
<circle cx="1368.6" cy="1136.6" r="8.8" fill="#00008b"/>
<circle cx="1348.4" cy="1136.6" r="8.8" fill="#00008b"/>
<circle cx="1358.6" cy="1129.8" r="8.8" fill="#00008b"/>
<circle cx="1362" cy="1135.4" r="8.8" fill="#00008b"/>
<circle cx="1391" cy="1124.6" r="8.8" fill="#00ffff"/>
<circle cx="1410.5" cy="1077.6" r="8.8" fill="#006400"/>
<circle cx="1150" cy="1276.5" r="8.8" fill="#ffa500"/>
<circle cx="1205.6" cy="1247.7" r="8.8" fill="#ffa500"/>
<circle cx="1210.8" cy="1238.2" r="8.8" fill="#ffa500"/>
<circle cx="1233.2" cy="1258.6" r="8.8" fill="#ffa500"/>
<circle cx="1333.7" cy="1279.2" r="8.8" fill="#ffa500"/>
<circle cx="1265.5" cy="1281.8" r="8.8" fill="#ffa500"/>
<circle cx="1324.1" cy="1288.1" r="8.8" fill="#ffa500"/>
<circle cx="1351" cy="1273.4" r="8.8" fill="#ffa500"/>
<circle cx="1359.1" cy="1290.6" r="8.8" fill="#ffa500"/>
<circle cx="1369" cy="1284.2" r="8.8" fill="#ffa500"/>
<circle cx="1400" cy="1285" r="8.8" fill="#ffa500"/>
<circle cx="1235.4" cy="1262.1" r="8.8" fill="#ffa500"/>
<circle cx="1317.1" cy="1281.9" r="8.8" fill="#ffa500"/>
<circle cx="1335.5" cy="1282" r="8.8" fill="#ffa500"/>
<circle cx="1347.8" cy="1279.1" r="8.8" fill="#ffa500"/>
<circle cx="1414.2" cy="1287.5" r="8.8" fill="#ffa500"/>
<circle cx="1403" cy="1279" r="8.8" fill="#ffa500"/>
<circle cx="1395.6" cy="1279.5" r="8.8" fill="#ffa500"/>
<circle cx="1353.9" cy="1282.6" r="8.8" fill="#ffa500"/>
<circle cx="1217.3" cy="1285.6" r="8.8" fill="#ffa500"/>
<circle cx="1355.3" cy="1274.6" r="8.8" fill="#ffa500"/>
<circle cx="1396.5" cy="1293.3" r="8.8" fill="#ffa500"/>
<circle cx="1276.8" cy="1293.5" r="8.8" fill="#ffa500"/>
<circle cx="1391.6" cy="1279.6" r="8.8" fill="#ffa500"/>
<circle cx="1380.1" cy="1271.2" r="8.8" fill="#ffa500"/>
<circle cx="1429.7" cy="1288" r="8.8" fill="#ffa500"/>
<circle cx="1392.8" cy="1285.1" r="8.8" fill="#ffa500"/>
<circle cx="1434.6" cy="1297.9" r="8.8" fill="#ffa500"/>
<circle cx="1278.9" cy="1273" r="8.8" fill="#ffa500"/>
<circle cx="1428.9" cy="1280.7" r="8.8" fill="#ffa500"/>
<circle cx="1351.8" cy="1269.5" r="8.8" fill="#ffa500"/>
<circle cx="1254.4" cy="1276.6" r="8.8" fill="#ffa500"/>
<circle cx="1386.1" cy="1288.3" r="8.8" fill="#ffa500"/>
<circle cx="1384.3" cy="1274.2" r="8.8" fill="#ffa500"/>
<circle cx="1363.3" cy="1279" r="8.8" fill="#ffa500"/>
<circle cx="1393.3" cy="1270.7" r="8.8" fill="#ffa500"/>
<circle cx="1317.3" cy="1277.6" r="8.8" fill="#ffa500"/>
<circle cx="1282.8" cy="1270.2" r="8.8" fill="#ffa500"/>
<circle cx="1278.1" cy="1282.2" r="8.8" fill="#ffa500"/>
<circle cx="1401.2" cy="1288.9" r="8.8" fill="#ffa500"/>
<circle cx="1414.4" cy="1283.6" r="8.8" fill="#ffa500"/>
<circle cx="1382.7" cy="1278.6" r="8.8" fill="#ffa500"/>
<circle cx="1169.7" cy="1270.4" r="8.8" fill="#ffa500"/>
<circle cx="1399.6" cy="1276.7" r="8.8" fill="#ffa500"/>
<circle cx="1397.1" cy="1291.8" r="8.8" fill="#ffa500"/>
<circle cx="1408.1" cy="1291.2" r="8.8" fill="#ffa500"/>
<circle cx="1405.1" cy="1283.7" r="8.8" fill="#ffa500"/>
<circle cx="1195.3" cy="1280.5" r="8.8" fill="#ffa500"/>
<circle cx="1178.9" cy="1280.4" r="8.8" fill="#ffa500"/>
<circle cx="1329.6" cy="1282.1" r="8.8" fill="#ffa500"/>
<circle cx="1443" cy="1273" r="8.8" fill="#ffa500"/>
<circle cx="1170.1" cy="1270.3" r="8.8" fill="#ffa500"/>
<circle cx="1429.6" cy="1276.7" r="8.8" fill="#ffa500"/>
<circle cx="1352.5" cy="1288.1" r="8.8" fill="#ffa500"/>
<circle cx="1240" cy="1282" r="8.8" fill="#ffa500"/>
<circle cx="1239.7" cy="1280.5" r="8.8" fill="#ffa500"/>
<circle cx="1355.7" cy="1278" r="8.8" fill="#ffa500"/>
<circle cx="1245.3" cy="1273.7" r="8.8" fill="#ffa500"/>
<circle cx="1230.6" cy="1271.9" r="8.8" fill="#ffa500"/>
<circle cx="1278.1" cy="1301.7" r="8.8" fill="#ffa500"/>
<circle cx="1443.4" cy="1292.7" r="8.8" fill="#ffa500"/>
<circle cx="1392" cy="1281.2" r="8.8" fill="#ffa500"/>
<circle cx="1302.4" cy="1277.5" r="8.8" fill="#ffa500"/>
<circle cx="1408.7" cy="1266.4" r="8.8" fill="#ffa500"/>
<circle cx="1379.8" cy="1270.7" r="8.8" fill="#ffa500"/>
<circle cx="1439.3" cy="1283.8" r="8.8" fill="#ffa500"/>
<circle cx="1212.9" cy="1263.1" r="8.8" fill="#ffa500"/>
<circle cx="1344.1" cy="1276.8" r="8.8" fill="#ffa500"/>
<circle cx="1418.7" cy="1268.3" r="8.8" fill="#ffa500"/>
<circle cx="1423.2" cy="1277.2" r="8.8" fill="#ffa500"/>
<circle cx="1437.6" cy="1283.1" r="8.8" fill="#ffa500"/>
<circle cx="1322.5" cy="1273.7" r="8.8" fill="#ffa500"/>
<circle cx="1336" cy="1275.5" r="8.8" fill="#ffa500"/>
<circle cx="1213" cy="1282.7" r="8.8" fill="#ffa500"/>
<circle cx="1423.9" cy="1277.5" r="8.8" fill="#ffa500"/>
<circle cx="1287.6" cy="1277.9" r="8.8" fill="#ffa500"/>
<circle cx="1246.4" cy="1294.6" r="8.8" fill="#ffa500"/>
<circle cx="1426.7" cy="1284.5" r="8.8" fill="#ffa500"/>
<circle cx="1253.3" cy="1277.3" r="8.8" fill="#ffa500"/>
<circle cx="1278.2" cy="1275.2" r="8.8" fill="#ffa500"/>
<circle cx="1265" cy="1276.1" r="8.8" fill="#ffa500"/>
<circle cx="1386.2" cy="1280.4" r="8.8" fill="#ffa500"/>
<circle cx="1370.8" cy="1284.2" r="8.8" fill="#ffa500"/>
<circle cx="1259.9" cy="1268.9" r="8.8" fill="#ffa500"/>
<circle cx="1391.5" cy="1290.6" r="8.8" fill="#ffa500"/>
<circle cx="1444.6" cy="1282.7" r="8.8" fill="#ffa500"/>
<circle cx="1395.8" cy="1277" r="8.8" fill="#ffa500"/>
<circle cx="1370.9" cy="1274.9" r="8.8" fill="#ffa500"/>
<circle cx="1345.6" cy="1285" r="8.8" fill="#ffa500"/>
<circle cx="1318.4" cy="1283.6" r="8.8" fill="#ffa500"/>
<circle cx="1246" cy="1278.9" r="8.8" fill="#ffa500"/>
<circle cx="1253" cy="1286.3" r="8.8" fill="#ffa500"/>
<circle cx="1324.3" cy="1268" r="8.8" fill="#ffa500"/>
<circle cx="1361.2" cy="1278.8" r="8.8" fill="#ffa500"/>
<circle cx="1351.2" cy="1281.9" r="8.8" fill="#ffa500"/>
<circle cx="1252" cy="1279.8" r="8.8" fill="#ffa500"/>
<circle cx="1248.7" cy="1279.7" r="8.8" fill="#ffa500"/>
<circle cx="1372.2" cy="1291.4" r="8.8" fill="#ffa500"/>
<circle cx="1251.1" cy="1279.3" r="8.8" fill="#ffa500"/>
<circle cx="1400.5" cy="1290.9" r="8.8" fill="#ffa500"/>
<circle cx="1387.1" cy="1276.6" r="8.8" fill="#ffa500"/>
<circle cx="1206.3" cy="1289.1" r="8.8" fill="#ffa500"/>
<circle cx="1240.6" cy="1282.9" r="8.8" fill="#ffa500"/>
<circle cx="1204.2" cy="1281.3" r="8.8" fill="#ffa500"/>
<circle cx="1186.4" cy="1278.2" r="8.8" fill="#ffa500"/>
<circle cx="1231.8" cy="1279.2" r="8.8" fill="#ffa500"/>
<circle cx="1208.7" cy="1275" r="8.8" fill="#ffa500"/>
<circle cx="1213.8" cy="1282.2" r="8.8" fill="#ffa500"/>
<circle cx="1350" cy="1274.9" r="8.8" fill="#ffa500"/>
<circle cx="1168.9" cy="1274.6" r="8.8" fill="#ffa500"/>
<circle cx="1348.1" cy="1276.9" r="8.8" fill="#ffa500"/>
<circle cx="1415.8" cy="1279" r="8.8" fill="#ffa500"/>
<circle cx="1260.3" cy="1275.1" r="8.8" fill="#ffa500"/>
<circle cx="1325.6" cy="1271.5" r="8.8" fill="#ffa500"/>
<circle cx="1395.9" cy="1293.4" r="8.8" fill="#ffa500"/>
<circle cx="1387.4" cy="1295.2" r="8.8" fill="#ffa500"/>
<circle cx="1216.8" cy="1278.4" r="8.8" fill="#ffa500"/>
<circle cx="1346.9" cy="1280.2" r="8.8" fill="#ffa500"/>
<circle cx="1301.9" cy="1282.1" r="8.8" fill="#ffa500"/>
<circle cx="1344" cy="1280.7" r="8.8" fill="#ffa500"/>
<circle cx="1436.2" cy="1295.7" r="8.8" fill="#ffa500"/>
<circle cx="1249.5" cy="1278.6" r="8.8" fill="#ffa500"/>
<circle cx="1229.4" cy="1275.8" r="8.8" fill="#ffa500"/>
<circle cx="1372.7" cy="1274.9" r="8.8" fill="#ffa500"/>
<circle cx="1394.4" cy="1280" r="8.8" fill="#ffa500"/>
<circle cx="1288.7" cy="1287.5" r="8.8" fill="#ffa500"/>
<circle cx="1311.7" cy="1281.6" r="8.8" fill="#ffa500"/>
<circle cx="1435.3" cy="1263" r="8.8" fill="#ffa500"/>
<circle cx="1314.7" cy="1277.8" r="8.8" fill="#ffa500"/>
<circle cx="1397" cy="1281.2" r="8.8" fill="#ffa500"/>
<circle cx="1396.9" cy="1279.3" r="8.8" fill="#ffa500"/>
<circle cx="1323.8" cy="1277.7" r="8.8" fill="#ffa500"/>
<circle cx="1442.1" cy="1281.1" r="8.8" fill="#ffa500"/>
<circle cx="1349.6" cy="1288.4" r="8.8" fill="#ffa500"/>
<circle cx="1358.9" cy="1282.2" r="8.8" fill="#ffa500"/>
<circle cx="1336.4" cy="1272.6" r="8.8" fill="#ffa500"/>
<circle cx="1332.4" cy="1280.9" r="8.8" fill="#ffa500"/>
<circle cx="1249.4" cy="1280.3" r="8.8" fill="#ffa500"/>
<circle cx="1253" cy="1278.1" r="8.8" fill="#ffa500"/>
<circle cx="1310.3" cy="1270.2" r="8.8" fill="#ffa500"/>
<circle cx="1266.9" cy="1282.2" r="8.8" fill="#ffa500"/>
<circle cx="1214.2" cy="1283.4" r="8.8" fill="#ffa500"/>
<circle cx="1433.5" cy="1281.9" r="8.8" fill="#ffa500"/>
<circle cx="1178.7" cy="1280" r="8.8" fill="#ffa500"/>
<circle cx="1187.9" cy="1283.5" r="8.8" fill="#ffa500"/>
<circle cx="1417.2" cy="1281.6" r="8.8" fill="#ffa500"/>
<circle cx="1233.5" cy="1284.3" r="8.8" fill="#ffa500"/>
<circle cx="1368.6" cy="1264" r="8.8" fill="#ffa500"/>
<circle cx="1438.6" cy="1288.6" r="8.8" fill="#ffa500"/>
<circle cx="1225.9" cy="1276.6" r="8.8" fill="#ffa500"/>
<circle cx="1376.3" cy="1277.2" r="8.8" fill="#ffa500"/>
<circle cx="1290.1" cy="1276.3" r="8.8" fill="#ffa500"/>
<circle cx="1402.1" cy="1296.9" r="8.8" fill="#ffa500"/>
<circle cx="1425.9" cy="1281.6" r="8.8" fill="#ffa500"/>
<circle cx="1320.4" cy="1285" r="8.8" fill="#ffa500"/>
<circle cx="1426.7" cy="1273.2" r="8.8" fill="#ffa500"/>
<circle cx="1233.5" cy="1278.1" r="8.8" fill="#ffa500"/>
<circle cx="1203.4" cy="1279" r="8.8" fill="#ffa500"/>
<circle cx="1340.6" cy="1277.2" r="8.8" fill="#ffa500"/>
<circle cx="1436.9" cy="1289.2" r="8.8" fill="#ffa500"/>
<circle cx="1304.5" cy="1283.9" r="8.8" fill="#ffa500"/>
<circle cx="1253.8" cy="1281.9" r="8.8" fill="#ffa500"/>
<circle cx="1279.6" cy="1276" r="8.8" fill="#ffa500"/>
<circle cx="1299" cy="1269" r="8.8" fill="#ffa500"/>
<circle cx="1349.6" cy="1275.8" r="8.8" fill="#ffa500"/>
<circle cx="1366" cy="1287.4" r="8.8" fill="#ffa500"/>
<circle cx="1244" cy="1293.1" r="8.8" fill="#ffa500"/>
<circle cx="1435.8" cy="1273.6" r="8.8" fill="#ffa500"/>
<circle cx="1400.1" cy="1287.6" r="8.8" fill="#ffa500"/>
<circle cx="1247.2" cy="1273.5" r="8.8" fill="#ffa500"/>
<circle cx="1345.6" cy="1296.4" r="8.8" fill="#ffa500"/>
<circle cx="1321.8" cy="1282.6" r="8.8" fill="#ffa500"/>
<circle cx="1294.8" cy="1288.7" r="8.8" fill="#ffa500"/>
<circle cx="1298" cy="1282.8" r="8.8" fill="#ffa500"/>
<circle cx="1341.2" cy="1284" r="8.8" fill="#ffa500"/>
<circle cx="1291.2" cy="1286.6" r="8.8" fill="#ffa500"/>
<circle cx="1320.1" cy="1279.7" r="8.8" fill="#ffa500"/>
<circle cx="1175.3" cy="1279.2" r="8.8" fill="#ffa500"/>
<circle cx="1438.2" cy="1285.8" r="8.8" fill="#ffa500"/>
<circle cx="1439.3" cy="1280.7" r="8.8" fill="#ffa500"/>
<circle cx="1318.7" cy="1274.3" r="8.8" fill="#ffa500"/>
<circle cx="1428" cy="1283.1" r="8.8" fill="#ffa500"/>
<circle cx="1306.9" cy="1290.1" r="8.8" fill="#ffa500"/>
<circle cx="1209.5" cy="1277.4" r="8.8" fill="#ffa500"/>
<circle cx="1233.2" cy="1263.4" r="8.8" fill="#ffa500"/>
<circle cx="1424.1" cy="1289.6" r="8.8" fill="#ffa500"/>
<circle cx="1370.6" cy="1282.9" r="8.8" fill="#ffa500"/>
<circle cx="1179.2" cy="1293.2" r="8.8" fill="#ffa500"/>
<circle cx="1434.8" cy="1288.4" r="8.8" fill="#ffa500"/>
<circle cx="1320.8" cy="1284.2" r="8.8" fill="#ffa500"/>
<circle cx="1336.3" cy="1289.3" r="8.8" fill="#ffa500"/>
<circle cx="1384.8" cy="1283.3" r="8.8" fill="#ffa500"/>
<circle cx="1393.4" cy="1277.6" r="8.8" fill="#ffa500"/>
<circle cx="1225.8" cy="1272.5" r="8.8" fill="#ffa500"/>
<circle cx="1425" cy="1284.8" r="8.8" fill="#ffa500"/>
<circle cx="1340.7" cy="1286.1" r="8.8" fill="#ffa500"/>
<circle cx="1372.4" cy="1289.8" r="8.8" fill="#ffa500"/>
<circle cx="1239.2" cy="1289.6" r="8.8" fill="#ffa500"/>
<circle cx="1368.1" cy="1281.9" r="8.8" fill="#ffa500"/>
<circle cx="1283.6" cy="1283.5" r="8.8" fill="#ffa500"/>
<circle cx="1420.4" cy="1284.1" r="8.8" fill="#ffa500"/>
<circle cx="1343.4" cy="1285.1" r="8.8" fill="#ffa500"/>
<circle cx="1176.3" cy="1288.2" r="8.8" fill="#ffa500"/>
<circle cx="1381.7" cy="1275.8" r="8.8" fill="#ffa500"/>
<circle cx="1286.7" cy="1274.3" r="8.8" fill="#ffa500"/>
<circle cx="1336.1" cy="1283.9" r="8.8" fill="#ffa500"/>
<circle cx="1436.2" cy="1290.4" r="8.8" fill="#ffa500"/>
<circle cx="1357.6" cy="1288.1" r="8.8" fill="#ffa500"/>
<circle cx="1350.1" cy="1283.1" r="8.8" fill="#ffa500"/>
<circle cx="1175.5" cy="1280.5" r="8.8" fill="#ffa500"/>
<circle cx="1437.6" cy="1280.6" r="8.8" fill="#ffa500"/>
<circle cx="1183.4" cy="1272.4" r="8.8" fill="#ffa500"/>
<circle cx="1249.6" cy="1293.6" r="8.8" fill="#ffa500"/>
<circle cx="1270.4" cy="1284" r="8.8" fill="#ffa500"/>
<circle cx="1173.3" cy="1276.2" r="8.8" fill="#ffa500"/>
<circle cx="1184.8" cy="1286.2" r="8.8" fill="#ffa500"/>
<circle cx="1259.8" cy="1289.5" r="8.8" fill="#ffa500"/>
<circle cx="1385.5" cy="1300.3" r="8.8" fill="#ffa500"/>
<circle cx="1345.5" cy="1277.3" r="8.8" fill="#ffa500"/>
<circle cx="1301.7" cy="1271.6" r="8.8" fill="#ffa500"/>
<circle cx="1369.7" cy="1275.7" r="8.8" fill="#ffa500"/>
<circle cx="1199.3" cy="1266.2" r="8.8" fill="#ffa500"/>
<circle cx="1179.5" cy="1275" r="8.8" fill="#ff0000"/>
<circle cx="1188" cy="1275" r="8.8" fill="#ff0000"/>
<circle cx="1219" cy="1278.8" r="8.8" fill="#ff0000"/>
<circle cx="1237.3" cy="1279.4" r="8.8" fill="#ff0000"/>
<circle cx="1280.4" cy="1281.7" r="8.8" fill="#ff0000"/>
<circle cx="1306.5" cy="1285" r="8.8" fill="#ff0000"/>
<circle cx="1316.7" cy="1287.4" r="8.8" fill="#ff0000"/>
<circle cx="1349.5" cy="1286.2" r="8.8" fill="#ff0000"/>
<circle cx="1383.6" cy="1281.7" r="8.8" fill="#ff0000"/>
<circle cx="1413" cy="1290.8" r="8.8" fill="#ff0000"/>
<circle cx="1419.8" cy="1301" r="8.8" fill="#ff0000"/>
<circle cx="1434.6" cy="1282.8" r="8.8" fill="#ff0000"/>
<circle cx="1434.6" cy="1301" r="8.8" fill="#ff0000"/>
<circle cx="1424.4" cy="1286.2" r="8.8" fill="#ff0000"/>
<circle cx="1400" cy="1284" r="8.8" fill="#ff0000"/>
<circle cx="1392" cy="1292" r="8.8" fill="#ff0000"/>
<circle cx="1441" cy="1293" r="8.8" fill="#ff0000"/>
<circle cx="1375.6" cy="1285.1" r="8.8" fill="#ffa500"/>
<circle cx="1365.8" cy="1293.5" r="8.8" fill="#ffa500"/>
<circle cx="1410.7" cy="1298.3" r="8.8" fill="#ffa500"/>
<circle cx="1288.6" cy="1297.3" r="8.8" fill="#ffa500"/>
<circle cx="1350.1" cy="1271.9" r="8.8" fill="#ffa500"/>
<circle cx="1371.6" cy="1272.4" r="8.8" fill="#ffa500"/>
<circle cx="1426.1" cy="1278.1" r="8.8" fill="#ffa500"/>
<circle cx="1216" cy="1288.6" r="8.8" fill="#ffa500"/>
<circle cx="1199.7" cy="1267" r="8.8" fill="#ffa500"/>
<circle cx="1384.6" cy="1278.6" r="8.8" fill="#ffa500"/>
<circle cx="1267.3" cy="1287.6" r="8.8" fill="#ffa500"/>
<circle cx="1235.9" cy="1270" r="8.8" fill="#ffa500"/>
<circle cx="1284.5" cy="1281.8" r="8.8" fill="#ffa500"/>
<circle cx="1400.5" cy="1290.9" r="8.8" fill="#ffa500"/>
<circle cx="1302.6" cy="1288.8" r="8.8" fill="#ffa500"/>
<circle cx="1421.2" cy="1272.3" r="8.8" fill="#ffa500"/>
<circle cx="1418.3" cy="1279.2" r="8.8" fill="#ffa500"/>
<circle cx="1218.7" cy="1261.3" r="8.8" fill="#ff83fa"/>
<circle cx="1255.4" cy="1258.6" r="8.8" fill="#006400"/>
<circle cx="1311.5" cy="1258" r="8.8" fill="#006400"/>
<circle cx="1340" cy="1258" r="8.8" fill="#006400"/>
<circle cx="1329" cy="1273.8" r="8.8" fill="#ff34b3"/>
<circle cx="1363" cy="1255.6" r="8.8" fill="#ffa500"/>
<circle cx="1413" cy="1241" r="8.8" fill="#ff83fa"/>
<circle cx="1422" cy="1270.4" r="8.8" fill="#006400"/>
<circle cx="1419.2" cy="1276.5" r="8.8" fill="#ff83fa"/>
<circle cx="1449.3" cy="1176" r="8.8" fill="#006400"/>
<circle cx="1449.3" cy="1181" r="8.8" fill="#006400"/>
<circle cx="1449.3" cy="1168" r="8.8" fill="#006400"/>
<circle cx="1449.3" cy="1057.7" r="8.8" fill="#006400"/>
<circle cx="1449.3" cy="1073" r="8.8" fill="#006400"/>
<circle cx="1449.3" cy="1080" r="8.8" fill="#006400"/>
<circle cx="1449.3" cy="1085.6" r="8.8" fill="#00008b"/>
<circle cx="1449.3" cy="1098" r="8.8" fill="#00ffff"/>
<circle cx="1449.3" cy="1106" r="8.8" fill="#00008b"/>
<circle cx="1449.3" cy="1111.3" r="8.8" fill="#00008b"/>
<circle cx="1449.3" cy="1115.5" r="8.8" fill="#00008b"/>
<circle cx="1449.3" cy="1121.8" r="8.8" fill="#00008b"/>
<circle cx="1449.3" cy="1125" r="8.8" fill="#00008b"/>
<circle cx="1449.3" cy="1129.4" r="8.8" fill="#00008b"/>
<circle cx="1449.3" cy="1133.8" r="8.8" fill="#00008b"/>
<circle cx="1449.3" cy="1138.4" r="8.8" fill="#00008b"/>
<circle cx="1449.3" cy="1141.7" r="8.8" fill="#00008b"/>
<circle cx="1449.3" cy="1147.8" r="8.8" fill="#00008b"/>
<circle cx="1449.3" cy="1153.2" r="8.8" fill="#00008b"/>
<circle cx="1449.3" cy="1158.1" r="8.8" fill="#00008b"/>
<circle cx="1449.3" cy="1164.3" r="8.8" fill="#00008b"/>
<circle cx="1449.3" cy="1168.4" r="8.8" fill="#00008b"/>
<circle cx="1449.3" cy="1199.6" r="8.8" fill="#00ff00"/>
<circle cx="1449.3" cy="1244" r="8.8" fill="#ff34b3"/>
<circle cx="1449.3" cy="1252" r="8.8" fill="#ff0000"/>
<circle cx="1449.3" cy="1330" r="8.8" fill="#ffa500"/>
<circle cx="1449.3" cy="1324.8" r="8.8" fill="#ffa500"/>
<circle cx="1449.3" cy="1319.9" r="8.8" fill="#ffa500"/>
<circle cx="1449.3" cy="1314.1" r="8.8" fill="#ffa500"/>
<circle cx="1449.3" cy="1307.9" r="8.8" fill="#ffa500"/>
<circle cx="1449.3" cy="1301.9" r="8.8" fill="#ffa500"/>
<circle cx="1449.3" cy="1295.6" r="8.8" fill="#ffa500"/>
<circle cx="1449.3" cy="1291.4" r="8.8" fill="#ffa500"/>
<circle cx="1449.3" cy="1287.4" r="8.8" fill="#ffa500"/>
<circle cx="1449.3" cy="1281.5" r="8.8" fill="#ffa500"/>
<circle cx="1449.3" cy="1278" r="8.8" fill="#ffa500"/>
<circle cx="1449.3" cy="1272" r="8.8" fill="#ffa500"/>
<circle cx="1449.3" cy="1265.6" r="8.8" fill="#ffa500"/>
<circle cx="1449.3" cy="1261.6" r="8.8" fill="#ffa500"/>
<circle cx="1449.3" cy="1258.4" r="8.8" fill="#ffa500"/>
<circle cx="1449.3" cy="1253.3" r="8.8" fill="#ffa500"/>
<circle cx="1449.3" cy="1248.6" r="8.8" fill="#ffa500"/>
<circle cx="1449.3" cy="1241.9" r="8.8" fill="#ffa500"/>
<circle cx="1449.3" cy="1238.1" r="8.8" fill="#ffa500"/>
<circle cx="1449.3" cy="1235.2" r="8.8" fill="#ffa500"/>
<circle cx="1449.3" cy="1273.8" r="8.8" fill="#ff83fa"/>
</g>
<rect x="196.4" y="970" width="1287.6" height="459.29999999999995" fill="none" stroke="#000" stroke-width="2.6"/>
<line x1="178" y1="1041" x2="196.4" y2="1041" stroke="#000" stroke-width="1.8"/>
<text transform="translate(164,1041) rotate(-90)" text-anchor="middle" font-family="'Liberation Sans', Arial, sans-serif" font-size="32" fill="#000" stroke="#000" stroke-width="0.5">3.5</text>
<text transform="translate(109.5,1046.5) rotate(-55)" text-anchor="middle" font-family="'Liberation Sans', Arial, sans-serif" font-size="30" letter-spacing="0.9" font-style="italic" fill="#7f7f7f" stroke="#7f7f7f" stroke-width="0.5">3,162.2</text>
<line x1="178" y1="1152" x2="196.4" y2="1152" stroke="#000" stroke-width="1.8"/>
<text transform="translate(164,1152) rotate(-90)" text-anchor="middle" font-family="'Liberation Sans', Arial, sans-serif" font-size="32" fill="#000" stroke="#000" stroke-width="0.5">2.5</text>
<text transform="translate(117.5,1157.5) rotate(-55)" text-anchor="middle" font-family="'Liberation Sans', Arial, sans-serif" font-size="30" letter-spacing="0.9" font-style="italic" fill="#7f7f7f" stroke="#7f7f7f" stroke-width="0.5">316.2</text>
<line x1="178" y1="1263" x2="196.4" y2="1263" stroke="#000" stroke-width="1.8"/>
<text transform="translate(164,1263) rotate(-90)" text-anchor="middle" font-family="'Liberation Sans', Arial, sans-serif" font-size="32" fill="#000" stroke="#000" stroke-width="0.5">1.5</text>
<text transform="translate(121.5,1268.5) rotate(-55)" text-anchor="middle" font-family="'Liberation Sans', Arial, sans-serif" font-size="30" letter-spacing="0.9" font-style="italic" fill="#7f7f7f" stroke="#7f7f7f" stroke-width="0.5">31.6</text>
<line x1="178" y1="1374" x2="196.4" y2="1374" stroke="#000" stroke-width="1.8"/>
<text transform="translate(164,1374) rotate(-90)" text-anchor="middle" font-family="'Liberation Sans', Arial, sans-serif" font-size="32" fill="#000" stroke="#000" stroke-width="0.5">0.5</text>
<text transform="translate(127,1379.5) rotate(-55)" text-anchor="middle" font-family="'Liberation Sans', Arial, sans-serif" font-size="30" letter-spacing="0.9" font-style="italic" fill="#7f7f7f" stroke="#7f7f7f" stroke-width="0.5">3.2</text>
<text x="213" y="1009" font-family="'Liberation Sans', Arial, sans-serif" font-size="30" font-weight="bold" fill="#000" textLength="293" lengthAdjust="spacingAndGlyphs">B. Slow colonization</text>
<rect x="233.3" y="1442.4" width="174.7" height="459.0999999999999" fill="#f5f5f5"/>
<rect x="408" y="1442.4" width="174" height="459.0999999999999" fill="#fbfbfb"/>
<rect x="582" y="1442.4" width="139.29999999999995" height="459.0999999999999" fill="#f5f5f5"/>
<rect x="721.3" y="1442.4" width="149.4000000000001" height="459.0999999999999" fill="#fbfbfb"/>
<rect x="870.7" y="1442.4" width="158.5999999999999" height="459.0999999999999" fill="#f5f5f5"/>
<rect x="1029.3" y="1442.4" width="230.70000000000005" height="459.0999999999999" fill="#fbfbfb"/>
<rect x="1260" y="1442.4" width="123.70000000000005" height="459.0999999999999" fill="#f5f5f5"/>
<rect x="1383.7" y="1442.4" width="67.29999999999995" height="459.0999999999999" fill="#fbfbfb"/>
<path d="M1122 1719.3V1828.2M1153.9 1728.6V1829.2M1166.2 1710V1824M1180.2 1716.2V1781.6M1187.8 1730V1826.8M1199 1716V1849.8M1207.3 1711V1834.8M1219.2 1730V1830M1220.6 1722.4V1838.5M1225.8 1686.4V1829.6M1244.5 1729.6V1817.5M1264.6 1711.5V1830.7M1274.3 1742V1818.5M1280 1728V1822M1307.6 1682V1790M1327.5 1695V1800M1350.7 1688V1800M1364.9 1680V1800M1371.3 1700V1820M1402.5 1698V1820M1429.2 1685V1800M1425.5 1700V1830M1270 1712V1815M1275 1740V1818M1284.4 1728V1822M1299.8 1722V1830M1308 1710V1838M1314.2 1735V1845M1328.1 1725V1850M1426.8 1734.9V1853.9M1395.8 1728.3V1881.3M1392.2 1731V1859.3M1428.6 1720.2V1891.8M1371.8 1730.1V1866.3M1323.9 1730.3V1854.8M1288.3 1721.2V1837.3M1313.5 1713.2V1846.7M1397.9 1733.3V1847.4M1414.2 1737.1V1882.5M1360.8 1725V1853.8M1347.8 1726.6V1861.8M1444.8 1721.3V1896.7M1395.5 1720.2V1872M1349.6 1728.6V1830.7M1392.4 1725.5V1848.4M1411.2 1736.1V1880.6M1403 1715V1840.4M1376 1732.4V1875.5M1356.7 1707.3V1865.7M1361.3 1730.2V1871.9M1353.2 1725.1V1830.5M1340 1729.1V1827.9M1427.1 1729.8V1890.4M1386.3 1739.1V1851.4M1373.9 1727.2V1871.8M1444.7 1728V1877.3M1409.6 1738.1V1848.1M1438.5 1742.7V1890.2M1398.4 1745.1V1854.3M1414.4 1721.9V1885.8M1429.6 1730.3V1856.5M1358.9 1739.4V1845.2M1418.2 1728.5V1867.1M1286.5 1733.9V1835.8M1364 1724.1V1863.9M1430.9 1721V1880.1M1417.3 1718.8V1889.1M1400.3 1741.3V1845M1409.4 1742.3V1879.1M1353.9 1713.1V1863.1M1378.9 1717.2V1841.5M1341.2 1707.8V1865.4M1356.3 1736.7V1847.4M1382.7 1730.2V1852.1M1413.4 1733.1V1875.9M1348.8 1708.6V1857.6M1417 1735.6V1873M1431.2 1747.7V1866M1402.9 1722.2V1855.2M1409.6 1735V1875.3M1388.1 1716.7V1867.2M1430.2 1735.3V1858.1M1402.4 1731.8V1848.1M1378.7 1720V1876.9M1422.4 1720V1887.7M1413.3 1730.6V1890.4M1411.5 1736.9V1889.3M1370.6 1722.5V1871.5M1431.4 1703.2V1892M1411 1740.1V1849.3M1434.1 1724.3V1889.5M1359.1 1739.6V1874.2M1362.6 1719.9V1873.4M1343.6 1726V1850.8M1431.6 1732.7V1893.4M1433.9 1729.9V1893M1371.1 1731.8V1874.7M1339.4 1723.8V1827.4M1397.5 1732.5V1879.5M1356.4 1728.4V1873.5M1350.9 1728.3V1839.6M1385.8 1716.6V1869M1412.2 1732.9V1888.3M1421.7 1740.9V1876.7M1331.6 1728.2V1862.3M1432.9 1740.2V1878M1379.8 1706.7V1870.7M1410.8 1731.2V1871.3M1410.8 1713.1V1884.3M1435.1 1723.2V1884.8M1364.2 1716.4V1831.4M1376.1 1736.1V1862.7M1417.1 1716.9V1851.6M1357 1706.6V1842.5M1354 1729.1V1873M1423.7 1717.9V1868.2M1362.5 1702.9V1846.5M1424.4 1733.8V1893M1444.1 1750.2V1899.5M1382.7 1730.6V1865.3M1433.9 1734.4V1876M1370.6 1734.9V1853.4M1380 1707.5V1847.6M1339.3 1735.4V1841.2M1386.6 1720.8V1881.1M1373.1 1740.9V1852.9M1424.6 1722.8V1850.2M1423.8 1717.2V1893.8M1437.2 1739.3V1894.9M1431.5 1732.2V1873M1383.2 1749.6V1848.7M1423.8 1735.2V1868M1370.2 1724.2V1841.5M1406.8 1733.2V1849M1427.5 1736.2V1860.9M1395.7 1731.8V1863.7M1425.5 1726.1V1855.7M1373.3 1728.1V1849.8M1372 1725V1839.1M1338.7 1729.8V1859.7M1404.5 1723.7V1885.6M1405.7 1726.4V1841.6M1353.6 1731.4V1836.3M1409.6 1737.2V1858.9M1372.5 1720.9V1847.2M1420.8 1722.9V1876.3M1445.3 1745V1886.1M1407.7 1730.4V1888M1420.3 1736.4V1870.6M1395.5 1723V1851.4M1429.6 1728.7V1868.2M1373.2 1739.8V1853.1M1373.9 1733.9V1869.7M1358.7 1734.2V1847.1M1375.3 1725.1V1862.6M1343.1 1733.1V1846.2M1381.1 1723.7V1874.2M1361.1 1718.5V1872.1M1373.7 1733.5V1868.1M1432.6 1741.7V1893M1411.5 1724.5V1888.1M1380.8 1728.9V1843.5M1412.1 1737.8V1869.7M1370.3 1732.8V1833.1M1416.9 1744.8V1887.8M1350.6 1728V1866.1M1393.1 1722V1841.7M1402.7 1722.1V1872.9M1395.1 1729.4V1843.1M1409.9 1735.9V1857.3M1407.9 1723.8V1859.2M1348.3 1729.7V1854.6M1355.3 1728.2V1852.7M1402.8 1736.5V1843.6M1372.8 1732.3V1839.2M1426.6 1726.2V1880.9M1435.6 1715.4V1891.1M1433.3 1734.8V1886.5M1346.3 1724.9V1824.1M1374.9 1716.5V1876.1M1378 1737.3V1852.2M1442.7 1746.2V1883M1407.9 1722.1V1869.7M1373 1728.6V1859.7M1401.5 1755V1885M1408.7 1760V1890M1421.6 1760V1895M1430.2 1775V1898M1433.3 1775V1899M1433.3 1740V1890M1432.3 1725V1880M1409.7 1716V1880M1397.4 1732V1885" fill="none" stroke="#ffa500" stroke-width="1.3" stroke-opacity="0.7"/>
<path d="M1340.9 1564.7V1639.6M1398.4 1568.8V1653.6M1391.1 1555.1V1628.6M1408.2 1563.3V1631.2M1291.8 1560.3V1631.4M1348.9 1577.8V1648.5M1294.5 1542.3V1624.4M1340 1560V1625.6M1397.1 1568.7V1651.8M1412.1 1560.7V1640.5M1299.6 1562.6V1640.1M1371.1 1552.6V1646.7M1414.8 1567.2V1665.7M1321.2 1562.3V1645.3M1405.6 1581V1660.2M1347.7 1554.8V1651.6M1304 1554.6V1634.6M1276.7 1544.7V1630.5M663.3 1544.3V1624M716.7 1530V1632.7M768.7 1527.7V1631.7M927.7 1545V1615M928.3 1520.7V1615M940.3 1535V1652.7M1003.7 1554V1616.7M1046.7 1545.7V1603.3M1132.7 1553V1618.7M1144.4 1528.3V1629M1165.4 1575V1667M1161.3 1544V1696M1176 1561V1610M1184.3 1544.7V1684.8M1187.4 1535V1600M1201.3 1548.8V1615.6M1213 1572.4V1675.6M1214.5 1580V1640M1224.3 1563.2V1621.7M1232.1 1538V1600M1232.6 1560V1615M1239.7 1560V1620M1257.2 1528.3V1600M1271.6 1534.4V1600M1257.2 1560V1630M1260.3 1555V1625M1266 1550V1652.5M1275.7 1570V1640M1288.5 1525V1600M1318.3 1523V1600M1274 1534V1598M1270 1550V1620M1284.4 1556V1640M1294.7 1555V1630M1286.4 1566V1650M1278.2 1570V1660M1312 1552V1620M1313.5 1560V1640M1310 1580V1650M1318.7 1580V1655M1326.5 1572V1640M1334.7 1584V1660M1340.9 1576V1650M1339.4 1560V1630M1351.1 1556V1640M1353.2 1575V1650M1358.9 1598V1690M1379.9 1548V1640M1373.7 1560V1640M1376.8 1572V1660M1380.9 1580V1680M1376.8 1596V1690M1403.5 1537V1640M1395.3 1556V1640M1402.5 1556V1650M1411.7 1580V1680M1405.6 1592V1690M1393.3 1590V1680M1387.1 1620V1690M1403.5 1792V1900.5" fill="none" stroke="#00008b" stroke-width="1.3" stroke-opacity="0.85"/>
<path d="M605.3 1556.7V1684M708 1550V1670M919.3 1577.7V1661M945.7 1566.7V1671.7M940.3 1570V1640M1057 1566.7V1656.7M1075 1568.8V1658.5M1099.2 1564.2V1656.7M1191.5 1566.3V1611.5M1206.9 1570V1622M1247.3 1580V1665M1263.4 1588V1640M1256.2 1580V1662.8M1282.3 1555V1620M1296.7 1568V1640M1434.3 1600V1700M1440.5 1600V1660M1425.5 1615V1700M1418.5 1613V1900M1360.4 1700V1900" fill="none" stroke="#006400" stroke-width="1.3" stroke-opacity="0.8"/>
<path d="M985.3 1586.7V1626.7M1102.1 1592V1628M1204.8 1585V1640.2M1235.6 1596V1642.3M1322 1596V1680M1291.6 1612V1680M1300.8 1610V1682M1310.5 1615V1690M1393.3 1600V1690M1387.1 1604V1690M1395.9 1618V1690M1371.7 1626V1690M1347.6 1650V1682M1439.5 1660V1700" fill="none" stroke="#00ffff" stroke-width="1.3" stroke-opacity="0.7"/>
<path d="M1063.2 1691.6V1837.5M1067.6 1733.3V1822M1093.7 1713.2V1776.8M1196.4 1699.8V1771.3M1318.3 1692V1900M1392.6 1715V1800M1414.8 1730V1830" fill="none" stroke="#ff83fa" stroke-width="1.3" stroke-opacity="0.7"/>
<path d="M1288.5 1578V1640M1382 1630V1690" fill="none" stroke="#ff34b3" stroke-width="1.3" stroke-opacity="0.7"/>
<path d="M1359.4 1638V1725" fill="none" stroke="#00ff00" stroke-width="1.3" stroke-opacity="0.7"/>
<path d="M1450.7 1478V1845" fill="none" stroke="#00008b" stroke-width="1.3" stroke-opacity="0.8"/>
<path d="M1450.7 1845V1900.5" fill="none" stroke="#006400" stroke-width="1.3" stroke-opacity="0.8"/>
<g stroke="#000" stroke-width="1.8">
<circle cx="1340.9" cy="1586.7" r="8.8" fill="#00008b"/>
<circle cx="1398.4" cy="1594.5" r="8.8" fill="#00008b"/>
<circle cx="1391.1" cy="1583.2" r="8.8" fill="#00008b"/>
<circle cx="1408.2" cy="1590.7" r="8.8" fill="#00008b"/>
<circle cx="1291.8" cy="1589.7" r="8.8" fill="#00008b"/>
<circle cx="1348.9" cy="1603.9" r="8.8" fill="#00008b"/>
<circle cx="1294.5" cy="1571.7" r="8.8" fill="#00008b"/>
<circle cx="1340" cy="1583.8" r="8.8" fill="#00008b"/>
<circle cx="1397.1" cy="1597.1" r="8.8" fill="#00008b"/>
<circle cx="1412.1" cy="1584.9" r="8.8" fill="#00008b"/>
<circle cx="1299.6" cy="1588.6" r="8.8" fill="#00008b"/>
<circle cx="1371.1" cy="1582.1" r="8.8" fill="#00008b"/>
<circle cx="1414.8" cy="1598.3" r="8.8" fill="#00008b"/>
<circle cx="1321.2" cy="1591.9" r="8.8" fill="#00008b"/>
<circle cx="1405.6" cy="1605.1" r="8.8" fill="#00008b"/>
<circle cx="1347.7" cy="1584.9" r="8.8" fill="#00008b"/>
<circle cx="1304" cy="1584.1" r="8.8" fill="#00008b"/>
<circle cx="1276.7" cy="1568" r="8.8" fill="#00008b"/>
<circle cx="605.3" cy="1587" r="8.8" fill="#006400"/>
<circle cx="663.3" cy="1569.7" r="8.8" fill="#00008b"/>
<circle cx="708" cy="1580" r="8.8" fill="#006400"/>
<circle cx="716.7" cy="1558.3" r="8.8" fill="#00008b"/>
<circle cx="768.7" cy="1556" r="8.8" fill="#00008b"/>
<circle cx="927.7" cy="1569" r="8.8" fill="#00008b"/>
<circle cx="928.3" cy="1547.7" r="8.8" fill="#00008b"/>
<circle cx="940.3" cy="1564.3" r="8.8" fill="#00008b"/>
<circle cx="919.3" cy="1603.3" r="8.8" fill="#006400"/>
<circle cx="945.7" cy="1596.7" r="8.8" fill="#006400"/>
<circle cx="940.3" cy="1596.3" r="8.8" fill="#006400"/>
<circle cx="985.3" cy="1602.3" r="8.8" fill="#00ffff"/>
<circle cx="1003.7" cy="1575.7" r="8.8" fill="#00008b"/>
<circle cx="1046.7" cy="1566.3" r="8.8" fill="#00008b"/>
<circle cx="1057" cy="1593" r="8.8" fill="#006400"/>
<circle cx="1075" cy="1595.7" r="8.8" fill="#006400"/>
<circle cx="1063.2" cy="1722.5" r="8.8" fill="#ff83fa"/>
<circle cx="1067.6" cy="1748.8" r="8.8" fill="#ff83fa"/>
<circle cx="1099.2" cy="1591" r="8.8" fill="#006400"/>
<circle cx="1102.1" cy="1610" r="8.8" fill="#00ffff"/>
<circle cx="1132.7" cy="1575.1" r="8.8" fill="#00008b"/>
<circle cx="1144.4" cy="1556.4" r="8.8" fill="#00008b"/>
<circle cx="1165.4" cy="1596.7" r="8.8" fill="#00008b"/>
<circle cx="1161.3" cy="1575.1" r="8.8" fill="#00008b"/>
<circle cx="1176" cy="1580" r="8.8" fill="#00008b"/>
<circle cx="1191.5" cy="1584.2" r="8.8" fill="#006400"/>
<circle cx="1184.3" cy="1575.5" r="8.8" fill="#00008b"/>
<circle cx="1187.4" cy="1555.6" r="8.8" fill="#00008b"/>
<circle cx="1206.9" cy="1590.3" r="8.8" fill="#006400"/>
<circle cx="1201.3" cy="1571.8" r="8.8" fill="#00008b"/>
<circle cx="1213" cy="1589.5" r="8.8" fill="#00008b"/>
<circle cx="1214.5" cy="1601.2" r="8.8" fill="#00008b"/>
<circle cx="1204.8" cy="1603.9" r="8.8" fill="#00ffff"/>
<circle cx="1224.3" cy="1577.6" r="8.8" fill="#00008b"/>
<circle cx="1232.1" cy="1557.6" r="8.8" fill="#00008b"/>
<circle cx="1232.6" cy="1578" r="8.8" fill="#00008b"/>
<circle cx="1239.7" cy="1580" r="8.8" fill="#00008b"/>
<circle cx="1235.6" cy="1614.1" r="8.8" fill="#00ffff"/>
<circle cx="1247.3" cy="1603.9" r="8.8" fill="#006400"/>
<circle cx="1263.4" cy="1608.4" r="8.8" fill="#006400"/>
<circle cx="1256.2" cy="1602.8" r="8.8" fill="#006400"/>
<circle cx="1257.2" cy="1553.3" r="8.8" fill="#00008b"/>
<circle cx="1271.6" cy="1557.6" r="8.8" fill="#00008b"/>
<circle cx="1257.2" cy="1584.2" r="8.8" fill="#00008b"/>
<circle cx="1260.3" cy="1577.6" r="8.8" fill="#00008b"/>
<circle cx="1266" cy="1572.4" r="8.8" fill="#00008b"/>
<circle cx="1275.7" cy="1593" r="8.8" fill="#00008b"/>
<circle cx="1093.7" cy="1734.7" r="8.8" fill="#ff83fa"/>
<circle cx="1122" cy="1747.7" r="8.8" fill="#ffa500"/>
<circle cx="1153.9" cy="1756.3" r="8.8" fill="#ffa500"/>
<circle cx="1166.2" cy="1738.8" r="8.8" fill="#ffa500"/>
<circle cx="1180.2" cy="1738.2" r="8.8" fill="#ffa500"/>
<circle cx="1187.8" cy="1756.3" r="8.8" fill="#ffa500"/>
<circle cx="1199" cy="1744" r="8.8" fill="#ffa500"/>
<circle cx="1196.4" cy="1722.8" r="8.8" fill="#ff83fa"/>
<circle cx="1207.3" cy="1740.5" r="8.8" fill="#ffa500"/>
<circle cx="1219.2" cy="1757.3" r="8.8" fill="#ffa500"/>
<circle cx="1220.6" cy="1752.8" r="8.8" fill="#ffa500"/>
<circle cx="1225.8" cy="1717.3" r="8.8" fill="#ffa500"/>
<circle cx="1244.5" cy="1755.9" r="8.8" fill="#ffa500"/>
<circle cx="1264.6" cy="1740.9" r="8.8" fill="#ffa500"/>
<circle cx="1274.3" cy="1768.6" r="8.8" fill="#ffa500"/>
<circle cx="1280" cy="1755.3" r="8.8" fill="#ffa500"/>
<circle cx="1288.5" cy="1551.9" r="8.8" fill="#00008b"/>
<circle cx="1318.3" cy="1547.8" r="8.8" fill="#00008b"/>
<circle cx="1274" cy="1557" r="8.8" fill="#00008b"/>
<circle cx="1282.3" cy="1574.5" r="8.8" fill="#006400"/>
<circle cx="1296.7" cy="1590" r="8.8" fill="#006400"/>
<circle cx="1288.5" cy="1598" r="8.8" fill="#ff34b3"/>
<circle cx="1270" cy="1573.5" r="8.8" fill="#00008b"/>
<circle cx="1284.4" cy="1578.6" r="8.8" fill="#00008b"/>
<circle cx="1294.7" cy="1577.6" r="8.8" fill="#00008b"/>
<circle cx="1286.4" cy="1588.9" r="8.8" fill="#00008b"/>
<circle cx="1278.2" cy="1592" r="8.8" fill="#00008b"/>
<circle cx="1312" cy="1574.5" r="8.8" fill="#00008b"/>
<circle cx="1313.5" cy="1582.7" r="8.8" fill="#00008b"/>
<circle cx="1310" cy="1601.2" r="8.8" fill="#00008b"/>
<circle cx="1318.7" cy="1600.6" r="8.8" fill="#00008b"/>
<circle cx="1326.5" cy="1594" r="8.8" fill="#00008b"/>
<circle cx="1334.7" cy="1604.3" r="8.8" fill="#00008b"/>
<circle cx="1340.9" cy="1598.1" r="8.8" fill="#00008b"/>
<circle cx="1339.4" cy="1580.7" r="8.8" fill="#00008b"/>
<circle cx="1351.1" cy="1580.7" r="8.8" fill="#00008b"/>
<circle cx="1353.2" cy="1597.7" r="8.8" fill="#00008b"/>
<circle cx="1322" cy="1615.6" r="8.8" fill="#00ffff"/>
<circle cx="1291.6" cy="1632" r="8.8" fill="#00ffff"/>
<circle cx="1300.8" cy="1630" r="8.8" fill="#00ffff"/>
<circle cx="1310.5" cy="1635.1" r="8.8" fill="#00ffff"/>
<circle cx="1358.9" cy="1618" r="8.8" fill="#00008b"/>
<circle cx="1379.9" cy="1575.5" r="8.8" fill="#00008b"/>
<circle cx="1373.7" cy="1583.7" r="8.8" fill="#00008b"/>
<circle cx="1376.8" cy="1594" r="8.8" fill="#00008b"/>
<circle cx="1380.9" cy="1603.3" r="8.8" fill="#00008b"/>
<circle cx="1376.8" cy="1615.6" r="8.8" fill="#00008b"/>
<circle cx="1403.5" cy="1574.5" r="8.8" fill="#00008b"/>
<circle cx="1395.3" cy="1581.7" r="8.8" fill="#00008b"/>
<circle cx="1402.5" cy="1580.7" r="8.8" fill="#00008b"/>
<circle cx="1411.7" cy="1604.7" r="8.8" fill="#00008b"/>
<circle cx="1405.6" cy="1614.6" r="8.8" fill="#00008b"/>
<circle cx="1393.3" cy="1611.5" r="8.8" fill="#00008b"/>
<circle cx="1393.3" cy="1619.7" r="8.8" fill="#00ffff"/>
<circle cx="1387.1" cy="1623.8" r="8.8" fill="#00ffff"/>
<circle cx="1382" cy="1649.5" r="8.8" fill="#ff34b3"/>
<circle cx="1387.1" cy="1640.2" r="8.8" fill="#00008b"/>
<circle cx="1395.9" cy="1639.2" r="8.8" fill="#00ffff"/>
<circle cx="1371.7" cy="1645.4" r="8.8" fill="#00ffff"/>
<circle cx="1347.6" cy="1662.8" r="8.8" fill="#00ffff"/>
<circle cx="1359.4" cy="1670.6" r="8.8" fill="#00ff00"/>
<circle cx="1434.3" cy="1618.7" r="8.8" fill="#006400"/>
<circle cx="1440.5" cy="1617.6" r="8.8" fill="#006400"/>
<circle cx="1425.5" cy="1639.2" r="8.8" fill="#006400"/>
<circle cx="1418.5" cy="1652.6" r="8.8" fill="#006400"/>
<circle cx="1439.5" cy="1679.7" r="8.8" fill="#00ffff"/>
<circle cx="1307.6" cy="1712.7" r="8.8" fill="#ffa500"/>
<circle cx="1327.5" cy="1723.4" r="8.8" fill="#ffa500"/>
<circle cx="1318.3" cy="1724.5" r="8.8" fill="#ff83fa"/>
<circle cx="1350.7" cy="1716.2" r="8.8" fill="#ffa500"/>
<circle cx="1364.9" cy="1710" r="8.8" fill="#ffa500"/>
<circle cx="1371.3" cy="1727.5" r="8.8" fill="#ffa500"/>
<circle cx="1402.5" cy="1725.5" r="8.8" fill="#ffa500"/>
<circle cx="1429.2" cy="1713.2" r="8.8" fill="#ffa500"/>
<circle cx="1425.5" cy="1729.6" r="8.8" fill="#ffa500"/>
<circle cx="1270" cy="1740.9" r="8.8" fill="#ffa500"/>
<circle cx="1275" cy="1768.6" r="8.8" fill="#ffa500"/>
<circle cx="1284.4" cy="1755.3" r="8.8" fill="#ffa500"/>
<circle cx="1299.8" cy="1751.2" r="8.8" fill="#ffa500"/>
<circle cx="1308" cy="1739.2" r="8.8" fill="#ffa500"/>
<circle cx="1314.2" cy="1762.5" r="8.8" fill="#ffa500"/>
<circle cx="1328.1" cy="1752.2" r="8.8" fill="#ffa500"/>
<circle cx="1426.8" cy="1766.7" r="8.8" fill="#ffa500"/>
<circle cx="1395.8" cy="1759.9" r="8.8" fill="#ffa500"/>
<circle cx="1392.2" cy="1760" r="8.8" fill="#ffa500"/>
<circle cx="1428.6" cy="1750.9" r="8.8" fill="#ffa500"/>
<circle cx="1371.8" cy="1763.4" r="8.8" fill="#ffa500"/>
<circle cx="1323.9" cy="1758.3" r="8.8" fill="#ffa500"/>
<circle cx="1288.3" cy="1749.2" r="8.8" fill="#ffa500"/>
<circle cx="1313.5" cy="1741.2" r="8.8" fill="#ffa500"/>
<circle cx="1397.9" cy="1763.2" r="8.8" fill="#ffa500"/>
<circle cx="1414.2" cy="1768.8" r="8.8" fill="#ffa500"/>
<circle cx="1360.8" cy="1754.8" r="8.8" fill="#ffa500"/>
<circle cx="1347.8" cy="1754.2" r="8.8" fill="#ffa500"/>
<circle cx="1444.8" cy="1754.6" r="8.8" fill="#ffa500"/>
<circle cx="1395.5" cy="1751" r="8.8" fill="#ffa500"/>
<circle cx="1349.6" cy="1760.6" r="8.8" fill="#ffa500"/>
<circle cx="1392.4" cy="1758.7" r="8.8" fill="#ffa500"/>
<circle cx="1411.2" cy="1764.8" r="8.8" fill="#ffa500"/>
<circle cx="1403" cy="1748.3" r="8.8" fill="#ffa500"/>
<circle cx="1376" cy="1765.1" r="8.8" fill="#ffa500"/>
<circle cx="1356.7" cy="1741" r="8.8" fill="#ffa500"/>
<circle cx="1361.3" cy="1760.1" r="8.8" fill="#ffa500"/>
<circle cx="1353.2" cy="1756.4" r="8.8" fill="#ffa500"/>
<circle cx="1340" cy="1759" r="8.8" fill="#ffa500"/>
<circle cx="1427.1" cy="1756.8" r="8.8" fill="#ffa500"/>
<circle cx="1386.3" cy="1768.7" r="8.8" fill="#ffa500"/>
<circle cx="1373.9" cy="1757.1" r="8.8" fill="#ffa500"/>
<circle cx="1444.7" cy="1754.6" r="8.8" fill="#ffa500"/>
<circle cx="1409.6" cy="1768.4" r="8.8" fill="#ffa500"/>
<circle cx="1438.5" cy="1774.2" r="8.8" fill="#ffa500"/>
<circle cx="1398.4" cy="1773.7" r="8.8" fill="#ffa500"/>
<circle cx="1414.4" cy="1752.5" r="8.8" fill="#ffa500"/>
<circle cx="1429.6" cy="1759.9" r="8.8" fill="#ffa500"/>
<circle cx="1358.9" cy="1766.7" r="8.8" fill="#ffa500"/>
<circle cx="1418.2" cy="1759.4" r="8.8" fill="#ffa500"/>
<circle cx="1286.5" cy="1761.9" r="8.8" fill="#ffa500"/>
<circle cx="1364" cy="1752.6" r="8.8" fill="#ffa500"/>
<circle cx="1430.9" cy="1751.1" r="8.8" fill="#ffa500"/>
<circle cx="1417.3" cy="1748.3" r="8.8" fill="#ffa500"/>
<circle cx="1400.3" cy="1770.1" r="8.8" fill="#ffa500"/>
<circle cx="1409.4" cy="1772.6" r="8.8" fill="#ffa500"/>
<circle cx="1353.9" cy="1745.1" r="8.8" fill="#ffa500"/>
<circle cx="1378.9" cy="1743.4" r="8.8" fill="#ffa500"/>
<circle cx="1341.2" cy="1740.3" r="8.8" fill="#ffa500"/>
<circle cx="1356.3" cy="1764.9" r="8.8" fill="#ffa500"/>
<circle cx="1382.7" cy="1758.1" r="8.8" fill="#ffa500"/>
<circle cx="1413.4" cy="1762.6" r="8.8" fill="#ffa500"/>
<circle cx="1348.8" cy="1741.4" r="8.8" fill="#ffa500"/>
<circle cx="1417" cy="1765.4" r="8.8" fill="#ffa500"/>
<circle cx="1431.2" cy="1779.5" r="8.8" fill="#ffa500"/>
<circle cx="1402.9" cy="1750.7" r="8.8" fill="#ffa500"/>
<circle cx="1409.6" cy="1764" r="8.8" fill="#ffa500"/>
<circle cx="1388.1" cy="1745.1" r="8.8" fill="#ffa500"/>
<circle cx="1430.2" cy="1763.4" r="8.8" fill="#ffa500"/>
<circle cx="1402.4" cy="1759.1" r="8.8" fill="#ffa500"/>
<circle cx="1378.7" cy="1746.8" r="8.8" fill="#ffa500"/>
<circle cx="1422.4" cy="1747.1" r="8.8" fill="#ffa500"/>
<circle cx="1413.3" cy="1761.4" r="8.8" fill="#ffa500"/>
<circle cx="1411.5" cy="1769.1" r="8.8" fill="#ffa500"/>
<circle cx="1370.6" cy="1750.2" r="8.8" fill="#ffa500"/>
<circle cx="1431.4" cy="1736" r="8.8" fill="#ffa500"/>
<circle cx="1411" cy="1772.8" r="8.8" fill="#ffa500"/>
<circle cx="1434.1" cy="1754.4" r="8.8" fill="#ffa500"/>
<circle cx="1359.1" cy="1770.8" r="8.8" fill="#ffa500"/>
<circle cx="1362.6" cy="1752.1" r="8.8" fill="#ffa500"/>
<circle cx="1343.6" cy="1753.8" r="8.8" fill="#ffa500"/>
<circle cx="1431.6" cy="1764.2" r="8.8" fill="#ffa500"/>
<circle cx="1433.9" cy="1758.4" r="8.8" fill="#ffa500"/>
<circle cx="1371.1" cy="1759.8" r="8.8" fill="#ffa500"/>
<circle cx="1339.4" cy="1752.8" r="8.8" fill="#ffa500"/>
<circle cx="1397.5" cy="1763.8" r="8.8" fill="#ffa500"/>
<circle cx="1356.4" cy="1758.1" r="8.8" fill="#ffa500"/>
<circle cx="1350.9" cy="1759.5" r="8.8" fill="#ffa500"/>
<circle cx="1385.8" cy="1744.3" r="8.8" fill="#ffa500"/>
<circle cx="1412.2" cy="1764.6" r="8.8" fill="#ffa500"/>
<circle cx="1421.7" cy="1772.2" r="8.8" fill="#ffa500"/>
<circle cx="1331.6" cy="1756.2" r="8.8" fill="#ffa500"/>
<circle cx="1432.9" cy="1770.5" r="8.8" fill="#ffa500"/>
<circle cx="1379.8" cy="1736" r="8.8" fill="#ffa500"/>
<circle cx="1410.8" cy="1760" r="8.8" fill="#ffa500"/>
<circle cx="1410.8" cy="1742.2" r="8.8" fill="#ffa500"/>
<circle cx="1435.1" cy="1751.1" r="8.8" fill="#ffa500"/>
<circle cx="1364.2" cy="1750" r="8.8" fill="#ffa500"/>
<circle cx="1376.1" cy="1765.1" r="8.8" fill="#ffa500"/>
<circle cx="1417.1" cy="1746.2" r="8.8" fill="#ffa500"/>
<circle cx="1357" cy="1736" r="8.8" fill="#ffa500"/>
<circle cx="1354" cy="1760" r="8.8" fill="#ffa500"/>
<circle cx="1423.7" cy="1748.8" r="8.8" fill="#ffa500"/>
<circle cx="1362.5" cy="1736" r="8.8" fill="#ffa500"/>
<circle cx="1424.4" cy="1763.1" r="8.8" fill="#ffa500"/>
<circle cx="1444.1" cy="1777.1" r="8.8" fill="#ffa500"/>
<circle cx="1382.7" cy="1759.3" r="8.8" fill="#ffa500"/>
<circle cx="1433.9" cy="1762" r="8.8" fill="#ffa500"/>
<circle cx="1370.6" cy="1761.7" r="8.8" fill="#ffa500"/>
<circle cx="1380" cy="1740.5" r="8.8" fill="#ffa500"/>
<circle cx="1339.3" cy="1761.8" r="8.8" fill="#ffa500"/>
<circle cx="1386.6" cy="1749.6" r="8.8" fill="#ffa500"/>
<circle cx="1373.1" cy="1770" r="8.8" fill="#ffa500"/>
<circle cx="1424.6" cy="1755.3" r="8.8" fill="#ffa500"/>
<circle cx="1423.8" cy="1749.8" r="8.8" fill="#ffa500"/>
<circle cx="1437.2" cy="1771.3" r="8.8" fill="#ffa500"/>
<circle cx="1431.5" cy="1765.1" r="8.8" fill="#ffa500"/>
<circle cx="1383.2" cy="1777.5" r="8.8" fill="#ffa500"/>
<circle cx="1423.8" cy="1763.9" r="8.8" fill="#ffa500"/>
<circle cx="1370.2" cy="1756.7" r="8.8" fill="#ffa500"/>
<circle cx="1406.8" cy="1759.4" r="8.8" fill="#ffa500"/>
<circle cx="1427.5" cy="1764.6" r="8.8" fill="#ffa500"/>
<circle cx="1395.7" cy="1762" r="8.8" fill="#ffa500"/>
<circle cx="1425.5" cy="1758.6" r="8.8" fill="#ffa500"/>
<circle cx="1373.3" cy="1757.2" r="8.8" fill="#ffa500"/>
<circle cx="1372" cy="1756.5" r="8.8" fill="#ffa500"/>
<circle cx="1338.7" cy="1756" r="8.8" fill="#ffa500"/>
<circle cx="1404.5" cy="1753.4" r="8.8" fill="#ffa500"/>
<circle cx="1405.7" cy="1759.6" r="8.8" fill="#ffa500"/>
<circle cx="1353.6" cy="1759.5" r="8.8" fill="#ffa500"/>
<circle cx="1409.6" cy="1765.4" r="8.8" fill="#ffa500"/>
<circle cx="1372.5" cy="1750.9" r="8.8" fill="#ffa500"/>
<circle cx="1420.8" cy="1750.9" r="8.8" fill="#ffa500"/>
<circle cx="1445.3" cy="1773.5" r="8.8" fill="#ffa500"/>
<circle cx="1407.7" cy="1759.4" r="8.8" fill="#ffa500"/>
<circle cx="1420.3" cy="1764.8" r="8.8" fill="#ffa500"/>
<circle cx="1395.5" cy="1757" r="8.8" fill="#ffa500"/>
<circle cx="1429.6" cy="1759.3" r="8.8" fill="#ffa500"/>
<circle cx="1373.2" cy="1766.5" r="8.8" fill="#ffa500"/>
<circle cx="1373.9" cy="1765.9" r="8.8" fill="#ffa500"/>
<circle cx="1358.7" cy="1762.1" r="8.8" fill="#ffa500"/>
<circle cx="1375.3" cy="1758.5" r="8.8" fill="#ffa500"/>
<circle cx="1343.1" cy="1765.4" r="8.8" fill="#ffa500"/>
<circle cx="1381.1" cy="1754.7" r="8.8" fill="#ffa500"/>
<circle cx="1361.1" cy="1752.2" r="8.8" fill="#ffa500"/>
<circle cx="1373.7" cy="1759.7" r="8.8" fill="#ffa500"/>
<circle cx="1432.6" cy="1775.5" r="8.8" fill="#ffa500"/>
<circle cx="1411.5" cy="1753.5" r="8.8" fill="#ffa500"/>
<circle cx="1380.8" cy="1759.8" r="8.8" fill="#ffa500"/>
<circle cx="1412.1" cy="1767.9" r="8.8" fill="#ffa500"/>
<circle cx="1370.3" cy="1761.1" r="8.8" fill="#ffa500"/>
<circle cx="1416.9" cy="1774.3" r="8.8" fill="#ffa500"/>
<circle cx="1350.6" cy="1754.3" r="8.8" fill="#ffa500"/>
<circle cx="1393.1" cy="1749.5" r="8.8" fill="#ffa500"/>
<circle cx="1402.7" cy="1753.1" r="8.8" fill="#ffa500"/>
<circle cx="1395.1" cy="1758.2" r="8.8" fill="#ffa500"/>
<circle cx="1409.9" cy="1765.4" r="8.8" fill="#ffa500"/>
<circle cx="1407.9" cy="1752.5" r="8.8" fill="#ffa500"/>
<circle cx="1348.3" cy="1762.8" r="8.8" fill="#ffa500"/>
<circle cx="1355.3" cy="1759" r="8.8" fill="#ffa500"/>
<circle cx="1402.8" cy="1763.6" r="8.8" fill="#ffa500"/>
<circle cx="1372.8" cy="1762.4" r="8.8" fill="#ffa500"/>
<circle cx="1426.6" cy="1755" r="8.8" fill="#ffa500"/>
<circle cx="1435.6" cy="1748.6" r="8.8" fill="#ffa500"/>
<circle cx="1433.3" cy="1762.2" r="8.8" fill="#ffa500"/>
<circle cx="1346.3" cy="1752.5" r="8.8" fill="#ffa500"/>
<circle cx="1374.9" cy="1748" r="8.8" fill="#ffa500"/>
<circle cx="1378" cy="1764.7" r="8.8" fill="#ffa500"/>
<circle cx="1442.7" cy="1776.1" r="8.8" fill="#ffa500"/>
<circle cx="1407.9" cy="1755" r="8.8" fill="#ffa500"/>
<circle cx="1373" cy="1762.5" r="8.8" fill="#ffa500"/>
<circle cx="1392.6" cy="1740.5" r="8.8" fill="#ff83fa"/>
<circle cx="1414.8" cy="1757.3" r="8.8" fill="#ff83fa"/>
<circle cx="1360.4" cy="1754.2" r="8.8" fill="#006400"/>
<circle cx="1401.5" cy="1782" r="8.8" fill="#ffa500"/>
<circle cx="1408.7" cy="1786" r="8.8" fill="#ffa500"/>
<circle cx="1421.6" cy="1785" r="8.8" fill="#ffa500"/>
<circle cx="1430.2" cy="1800.5" r="8.8" fill="#ffa500"/>
<circle cx="1433.3" cy="1804.6" r="8.8" fill="#ffa500"/>
<circle cx="1433.3" cy="1766.6" r="8.8" fill="#ffa500"/>
<circle cx="1432.3" cy="1751.2" r="8.8" fill="#ffa500"/>
<circle cx="1409.7" cy="1744" r="8.8" fill="#ffa500"/>
<circle cx="1397.4" cy="1759.4" r="8.8" fill="#ffa500"/>
<circle cx="1450.7" cy="1612.5" r="8.8" fill="#00ff00"/>
<circle cx="1450.7" cy="1528" r="8.8" fill="#00008b"/>
<circle cx="1450.7" cy="1531.7" r="8.8" fill="#00008b"/>
<circle cx="1450.7" cy="1537" r="8.8" fill="#00008b"/>
<circle cx="1450.7" cy="1541.5" r="8.8" fill="#00008b"/>
<circle cx="1450.7" cy="1545.8" r="8.8" fill="#00008b"/>
<circle cx="1450.7" cy="1552.3" r="8.8" fill="#00008b"/>
<circle cx="1450.7" cy="1556" r="8.8" fill="#00008b"/>
<circle cx="1450.7" cy="1560" r="8.8" fill="#00008b"/>
<circle cx="1450.7" cy="1564.3" r="8.8" fill="#00008b"/>
<circle cx="1450.7" cy="1567.5" r="8.8" fill="#00008b"/>
<circle cx="1450.7" cy="1572.8" r="8.8" fill="#00008b"/>
<circle cx="1450.7" cy="1576.1" r="8.8" fill="#00008b"/>
<circle cx="1450.7" cy="1582.7" r="8.8" fill="#00008b"/>
<circle cx="1450.7" cy="1586.3" r="8.8" fill="#00008b"/>
<circle cx="1450.7" cy="1592" r="8.8" fill="#00008b"/>
<circle cx="1450.7" cy="1597.9" r="8.8" fill="#00008b"/>
<circle cx="1450.7" cy="1604" r="8.8" fill="#00008b"/>
<circle cx="1450.7" cy="1610.7" r="8.8" fill="#00008b"/>
<circle cx="1450.7" cy="1614.8" r="8.8" fill="#00008b"/>
<circle cx="1450.7" cy="1619.3" r="8.8" fill="#00008b"/>
<circle cx="1450.7" cy="1624.3" r="8.8" fill="#00008b"/>
<circle cx="1450.7" cy="1630.1" r="8.8" fill="#00008b"/>
<circle cx="1450.7" cy="1637" r="8.8" fill="#00008b"/>
<circle cx="1450.7" cy="1643.6" r="8.8" fill="#00008b"/>
<circle cx="1450.7" cy="1649.7" r="8.8" fill="#00008b"/>
<circle cx="1450.7" cy="1654.2" r="8.8" fill="#00008b"/>
<circle cx="1450.7" cy="1659" r="8.8" fill="#00008b"/>
<circle cx="1450.7" cy="1665.4" r="8.8" fill="#00008b"/>
<circle cx="1450.7" cy="1510.4" r="8.8" fill="#00008b"/>
<circle cx="1450.7" cy="1669" r="8.8" fill="#00ffff"/>
<circle cx="1450.7" cy="1689.5" r="8.8" fill="#ffa500"/>
<circle cx="1450.7" cy="1682.3" r="8.8" fill="#00ffff"/>
<circle cx="1450.7" cy="1713" r="8.8" fill="#006400"/>
<circle cx="1450.7" cy="1701.9" r="8.8" fill="#00008b"/>
<circle cx="1450.7" cy="1819" r="8.8" fill="#ffa500"/>
<circle cx="1450.7" cy="1813.4" r="8.8" fill="#ffa500"/>
<circle cx="1450.7" cy="1810.2" r="8.8" fill="#ffa500"/>
<circle cx="1450.7" cy="1806.8" r="8.8" fill="#ffa500"/>
<circle cx="1450.7" cy="1803.1" r="8.8" fill="#ffa500"/>
<circle cx="1450.7" cy="1800" r="8.8" fill="#ffa500"/>
<circle cx="1450.7" cy="1793.1" r="8.8" fill="#ffa500"/>
<circle cx="1450.7" cy="1789.5" r="8.8" fill="#ffa500"/>
<circle cx="1450.7" cy="1782.9" r="8.8" fill="#ffa500"/>
<circle cx="1450.7" cy="1776.1" r="8.8" fill="#ffa500"/>
<circle cx="1450.7" cy="1771.5" r="8.8" fill="#ffa500"/>
<circle cx="1450.7" cy="1767.9" r="8.8" fill="#ffa500"/>
<circle cx="1450.7" cy="1763.9" r="8.8" fill="#ffa500"/>
<circle cx="1450.7" cy="1757.7" r="8.8" fill="#ffa500"/>
<circle cx="1450.7" cy="1752" r="8.8" fill="#ffa500"/>
<circle cx="1450.7" cy="1747.5" r="8.8" fill="#ffa500"/>
<circle cx="1450.7" cy="1740.6" r="8.8" fill="#ffa500"/>
<circle cx="1450.7" cy="1737.1" r="8.8" fill="#ffa500"/>
<circle cx="1450.7" cy="1730.6" r="8.8" fill="#ffa500"/>
<circle cx="1450.7" cy="1730.6" r="8.8" fill="#ffa500"/>
<circle cx="1450.7" cy="1834.4" r="8.8" fill="#ffa500"/>
<circle cx="1450.7" cy="1532.7" r="8.8" fill="#00008b"/>
<circle cx="1450.7" cy="1552.9" r="8.8" fill="#00008b"/>
<circle cx="1450.7" cy="1572.9" r="8.8" fill="#00008b"/>
<circle cx="1450.7" cy="1589.5" r="8.8" fill="#00008b"/>
<circle cx="1450.7" cy="1608.9" r="8.8" fill="#00008b"/>
<circle cx="1450.7" cy="1625.4" r="8.8" fill="#00008b"/>
<circle cx="1450.7" cy="1645.9" r="8.8" fill="#00008b"/>
<circle cx="1450.7" cy="1665" r="8.8" fill="#00008b"/>
<circle cx="1450.7" cy="1669" r="8.8" fill="#00ffff"/>
<circle cx="1450.7" cy="1682.3" r="8.8" fill="#00ffff"/>
<circle cx="1450.7" cy="1701.9" r="8.8" fill="#00008b"/>
<circle cx="1450.7" cy="1731" r="8.8" fill="#ffa500"/>
<circle cx="1450.7" cy="1744.7" r="8.8" fill="#ffa500"/>
<circle cx="1450.7" cy="1757.8" r="8.8" fill="#ffa500"/>
<circle cx="1450.7" cy="1771" r="8.8" fill="#ffa500"/>
<circle cx="1450.7" cy="1784.5" r="8.8" fill="#ffa500"/>
<circle cx="1450.7" cy="1796" r="8.8" fill="#ffa500"/>
<circle cx="1450.7" cy="1807.6" r="8.8" fill="#ffa500"/>
<circle cx="1450.7" cy="1819" r="8.8" fill="#ffa500"/>
</g>
<rect x="196.4" y="1442.4" width="1287.6" height="459.0999999999999" fill="none" stroke="#000" stroke-width="2.6"/>
<line x1="178" y1="1512" x2="196.4" y2="1512" stroke="#000" stroke-width="1.8"/>
<text transform="translate(164,1512) rotate(-90)" text-anchor="middle" font-family="'Liberation Sans', Arial, sans-serif" font-size="32" fill="#000" stroke="#000" stroke-width="0.5">3.5</text>
<text transform="translate(109.5,1517.5) rotate(-55)" text-anchor="middle" font-family="'Liberation Sans', Arial, sans-serif" font-size="30" letter-spacing="0.9" font-style="italic" fill="#7f7f7f" stroke="#7f7f7f" stroke-width="0.5">3,162.2</text>
<line x1="178" y1="1623" x2="196.4" y2="1623" stroke="#000" stroke-width="1.8"/>
<text transform="translate(164,1623) rotate(-90)" text-anchor="middle" font-family="'Liberation Sans', Arial, sans-serif" font-size="32" fill="#000" stroke="#000" stroke-width="0.5">2.5</text>
<text transform="translate(117.5,1628.5) rotate(-55)" text-anchor="middle" font-family="'Liberation Sans', Arial, sans-serif" font-size="30" letter-spacing="0.9" font-style="italic" fill="#7f7f7f" stroke="#7f7f7f" stroke-width="0.5">316.2</text>
<line x1="178" y1="1734" x2="196.4" y2="1734" stroke="#000" stroke-width="1.8"/>
<text transform="translate(164,1734) rotate(-90)" text-anchor="middle" font-family="'Liberation Sans', Arial, sans-serif" font-size="32" fill="#000" stroke="#000" stroke-width="0.5">1.5</text>
<text transform="translate(121.5,1739.5) rotate(-55)" text-anchor="middle" font-family="'Liberation Sans', Arial, sans-serif" font-size="30" letter-spacing="0.9" font-style="italic" fill="#7f7f7f" stroke="#7f7f7f" stroke-width="0.5">31.6</text>
<line x1="178" y1="1845.5" x2="196.4" y2="1845.5" stroke="#000" stroke-width="1.8"/>
<text transform="translate(164,1845.5) rotate(-90)" text-anchor="middle" font-family="'Liberation Sans', Arial, sans-serif" font-size="32" fill="#000" stroke="#000" stroke-width="0.5">0.5</text>
<text transform="translate(127,1851.0) rotate(-55)" text-anchor="middle" font-family="'Liberation Sans', Arial, sans-serif" font-size="30" letter-spacing="0.9" font-style="italic" fill="#7f7f7f" stroke="#7f7f7f" stroke-width="0.5">3.2</text>
<text x="213" y="1482" font-family="'Liberation Sans', Arial, sans-serif" font-size="30" font-weight="bold" fill="#000" textLength="281" lengthAdjust="spacingAndGlyphs">C. Fast colonization</text>
<rect x="196.4" y="1909.7" width="1287.6" height="28.299999999999955" fill="#fff"/>
<rect x="233.3" y="1909.7" width="174.7" height="28.299999999999955" fill="#cdcdcd"/>
<text x="315.4" y="1932" text-anchor="middle" font-family="'Liberation Sans', Arial, sans-serif" font-size="21.5" fill="#000">D</text>
<rect x="408" y="1909.7" width="174" height="28.299999999999955" fill="#f2f2f2"/>
<text x="493.6" y="1932" text-anchor="middle" font-family="'Liberation Sans', Arial, sans-serif" font-size="21.5" fill="#000">C</text>
<rect x="582" y="1909.7" width="139.29999999999995" height="28.299999999999955" fill="#cdcdcd"/>
<text x="647.8" y="1932" text-anchor="middle" font-family="'Liberation Sans', Arial, sans-serif" font-size="21.5" fill="#000">P</text>
<rect x="721.3" y="1909.7" width="149.4000000000001" height="28.299999999999955" fill="#f2f2f2"/>
<text x="796.7" y="1932" text-anchor="middle" font-family="'Liberation Sans', Arial, sans-serif" font-size="21.5" fill="#000">Tr</text>
<rect x="870.7" y="1909.7" width="158.5999999999999" height="28.299999999999955" fill="#cdcdcd"/>
<text x="950" y="1932" text-anchor="middle" font-family="'Liberation Sans', Arial, sans-serif" font-size="21.5" fill="#000">J</text>
<rect x="1029.3" y="1909.7" width="230.70000000000005" height="28.299999999999955" fill="#f2f2f2"/>
<text x="1141" y="1932" text-anchor="middle" font-family="'Liberation Sans', Arial, sans-serif" font-size="21.5" fill="#000">K</text>
<rect x="1260" y="1909.7" width="123.70000000000005" height="28.299999999999955" fill="#cdcdcd"/>
<text x="1321.3" y="1932" text-anchor="middle" font-family="'Liberation Sans', Arial, sans-serif" font-size="21.5" fill="#000">Pg</text>
<rect x="1383.7" y="1909.7" width="67.29999999999995" height="28.299999999999955" fill="#f2f2f2"/>
<text x="1434.7" y="1932" text-anchor="middle" font-family="'Liberation Sans', Arial, sans-serif" font-size="21.5" fill="#000">Ng</text>
<rect x="196.4" y="1909.7" width="1287.6" height="28.299999999999955" fill="none" stroke="#000" stroke-width="2.6"/>
<line x1="285.5" y1="1938" x2="285.5" y2="1957.5" stroke="#000" stroke-width="1.8"/>
<text x="285.5" y="1992.5" text-anchor="middle" font-family="'Liberation Sans', Arial, sans-serif" font-size="27" fill="#000">400</text>
<line x1="576.5" y1="1938" x2="576.5" y2="1957.5" stroke="#000" stroke-width="1.8"/>
<text x="576.5" y="1992.5" text-anchor="middle" font-family="'Liberation Sans', Arial, sans-serif" font-size="27" fill="#000">300</text>
<line x1="867.6" y1="1938" x2="867.6" y2="1957.5" stroke="#000" stroke-width="1.8"/>
<text x="867.6" y="1992.5" text-anchor="middle" font-family="'Liberation Sans', Arial, sans-serif" font-size="27" fill="#000">200</text>
<line x1="1158.6" y1="1938" x2="1158.6" y2="1957.5" stroke="#000" stroke-width="1.8"/>
<text x="1158.6" y="1992.5" text-anchor="middle" font-family="'Liberation Sans', Arial, sans-serif" font-size="27" fill="#000">100</text>
<line x1="1449.7" y1="1938" x2="1449.7" y2="1957.5" stroke="#000" stroke-width="1.8"/>
<text x="1449.7" y="1992.5" text-anchor="middle" font-family="'Liberation Sans', Arial, sans-serif" font-size="27" fill="#000">0</text>
<text x="863" y="2037" text-anchor="middle" font-family="'Liberation Sans', Arial, sans-serif" font-size="31" fill="#000" textLength="147" lengthAdjust="spacingAndGlyphs">Time (Ma)</text>
<text transform="translate(24.5,1212) rotate(-90)" font-family="'Liberation Sans', Arial, sans-serif" font-size="31" fill="#000">Log<tspan font-size="20" dy="7">10</tspan><tspan dy="-7"> Depth</tspan></text>
<text transform="translate(24.5,1010.5) rotate(-90)" font-family="'Liberation Sans', Arial, sans-serif" font-size="31" fill="#7f7f7f" textLength="143" lengthAdjust="spacingAndGlyphs">Depth (m)</text>
</svg></body></html>
